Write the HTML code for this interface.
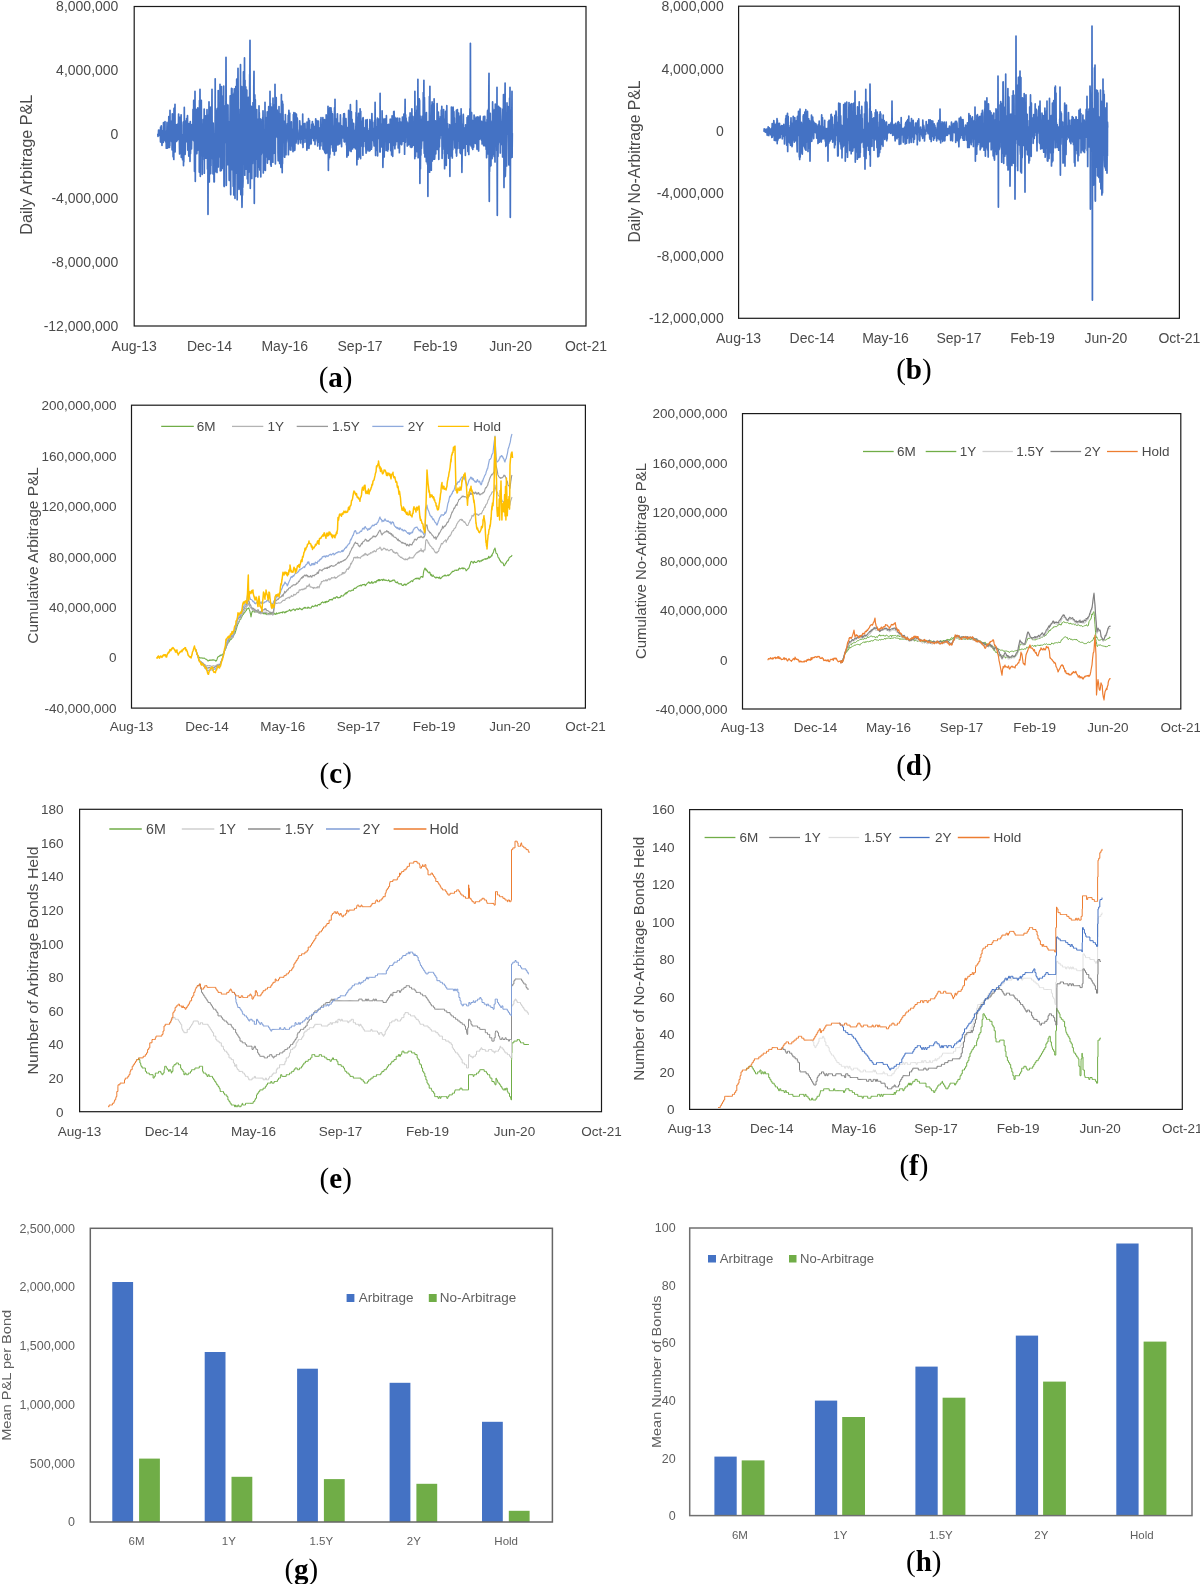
<!DOCTYPE html>
<html><head><meta charset="utf-8"><title>Figure</title>
<style>html,body{margin:0;padding:0;background:#fff;}svg{display:block;filter:blur(0.35px);}</style>
</head><body>
<svg width="1200" height="1584" viewBox="0 0 1200 1584" font-family='"Liberation Sans", sans-serif'>
<rect width="1200" height="1584" fill="#fff"/>
<path d="M157.8 133.6 L158 136.5 L158.1 134.7 L158.3 135.6 L158.5 132.9 L158.6 130.1 L158.8 133.5 L159 132 L159.1 132.5 L159.3 130.5 L159.5 135.5 L159.6 133.9 L159.8 132.3 L160 133.7 L160.1 129.9 L160.3 133.4 L160.5 142.1 L160.6 127 L160.8 136.1 L161 139.3 L161.1 133.8 L161.3 125.9 L161.5 133.5 L161.6 139.8 L161.8 141.5 L162 145.5 L162.1 137.7 L162.3 134.8 L162.5 133 L162.6 134.3 L162.8 138.6 L163 130.5 L163.1 130.6 L163.3 142.4 L163.5 122.7 L163.6 136.6 L163.8 133.6 L164 139.5 L164.1 133.4 L164.3 136.6 L164.5 135.8 L164.6 140.1 L164.8 137.4 L165 121.6 L165.1 140.7 L165.3 133.2 L165.5 131.5 L165.6 131.3 L165.8 142.1 L166 131.6 L166.1 136.2 L166.3 148.2 L166.5 140.7 L166.6 143.7 L166.8 136.7 L167 122.4 L167.1 137 L167.3 142.7 L167.5 148.1 L167.6 129.1 L167.8 147.9 L168 143 L168.1 134.8 L168.3 137.8 L168.5 135.7 L168.6 147.2 L168.8 116.6 L169 122.5 L169.1 139.7 L169.3 131.9 L169.5 147.5 L169.6 140.8 L169.8 145.8 L170 110.3 L170.1 133 L170.3 120.9 L170.5 140.4 L170.6 137.2 L170.8 129.5 L171 134.2 L171.1 136.1 L171.3 129.3 L171.5 139.1 L171.6 141.6 L171.8 138.5 L172 120.4 L172.1 149.8 L172.3 113.9 L172.5 138.2 L172.6 142.7 L172.8 131.4 L173 132 L173.1 156.6 L173.3 156.8 L173.5 115.8 L173.6 148.7 L173.8 159.5 L174 108.4 L174.1 126 L174.3 125.8 L174.5 138.1 L174.6 131.5 L174.8 122.8 L175 104.3 L175.1 151.8 L175.3 127.1 L175.5 141.3 L175.6 132.2 L175.8 124.7 L176 128.7 L176.1 138.8 L176.3 130.1 L176.5 140.1 L176.6 141.4 L176.8 133.6 L177 136.5 L177.1 125 L177.3 124.3 L177.5 140.1 L177.6 131.5 L177.8 126.3 L178 128.4 L178.1 133.7 L178.3 131.1 L178.5 121.3 L178.6 114 L178.8 130.3 L179 117.1 L179.1 139.2 L179.3 135.9 L179.5 148.7 L179.6 153.9 L179.8 142.6 L180 137.7 L180.1 130.8 L180.3 117 L180.5 136.4 L180.6 140.2 L180.8 135.6 L181 144.4 L181.1 114.8 L181.3 157.3 L181.5 139.6 L181.6 156.1 L181.8 141.6 L182 137 L182.1 136.4 L182.3 149.4 L182.5 147.9 L182.6 159.7 L182.8 134.5 L183 143.2 L183.1 125.4 L183.3 122.1 L183.5 165.6 L183.6 136.3 L183.8 162.1 L184 130.9 L184.1 150 L184.3 107.4 L184.5 141.7 L184.6 136.9 L184.8 131.2 L185 142.8 L185.1 154.4 L185.3 150.3 L185.5 123.6 L185.6 131.6 L185.8 120.9 L186 128.5 L186.1 123 L186.3 125.3 L186.5 134.9 L186.6 118.5 L186.8 133.2 L187 141.9 L187.1 137.9 L187.3 124 L187.5 115.7 L187.6 131.3 L187.8 150.1 L188 130.8 L188.1 128.2 L188.3 138.9 L188.5 135.5 L188.6 142.8 L188.8 156.1 L189 123.6 L189.1 131.7 L189.3 131.8 L189.5 140.2 L189.6 136 L189.8 127.9 L190 161.3 L190.1 128.2 L190.3 121.5 L190.5 153.5 L190.6 144.8 L190.8 136.9 L191 130.6 L191.1 130.3 L191.3 126.7 L191.5 149 L191.6 144.5 L191.8 124.7 L192 125 L192.1 139.5 L192.3 136.6 L192.5 139.9 L192.6 139.1 L192.8 135.5 L193 109.4 L193.1 134.9 L193.3 127 L193.5 137.9 L193.7 100.4 L193.8 140.8 L194 121.8 L194.2 129.7 L194.3 122.1 L194.5 171.3 L194.7 129.2 L194.8 133.4 L195 91.3 L195.2 148 L195.3 181.3 L195.5 115.7 L195.7 135.7 L195.8 124 L196 129.5 L196.2 109.3 L196.3 110.1 L196.5 145.2 L196.7 153.7 L196.8 153.6 L197 149.6 L197.2 130 L197.3 111.7 L197.5 150.2 L197.7 134.4 L197.8 107.9 L198 118.9 L198.2 128.3 L198.3 150 L198.5 108.8 L198.7 144.8 L198.8 122.9 L199 143.4 L199.2 119 L199.3 172.1 L199.5 100.6 L199.7 135.7 L199.8 117.1 L200 89.3 L200.2 142.8 L200.3 176.3 L200.5 132.3 L200.7 125.2 L200.8 129.2 L201 119.2 L201.2 150.5 L201.3 100.3 L201.5 138.7 L201.7 124.2 L201.8 130.1 L202 127.5 L202.2 174.3 L202.3 125.1 L202.5 159.8 L202.7 142.8 L202.8 134.6 L203 150.4 L203.2 119.6 L203.3 155 L203.5 134.7 L203.7 156.1 L203.8 129.9 L204 138.8 L204.2 109 L204.3 173.2 L204.5 135 L204.7 129.7 L204.8 122.3 L205 130.1 L205.2 120.5 L205.3 147.9 L205.5 115.8 L205.7 124.9 L205.8 158.2 L206 136.2 L206.2 122.1 L206.3 148.1 L206.5 128 L206.7 130.3 L206.8 139.4 L207 109.7 L207.2 128.8 L207.3 137.6 L207.5 169.1 L207.7 132.8 L207.8 115 L208 214.3 L208.2 145.9 L208.3 138.4 L208.5 177.7 L208.7 162.9 L208.8 132 L209 101.9 L209.2 130.9 L209.3 181.9 L209.5 133.4 L209.7 129 L209.8 120.8 L210 143.9 L210.2 107.3 L210.3 135.7 L210.5 169.8 L210.7 173.6 L210.8 128 L211 165.8 L211.2 130.5 L211.3 159.1 L211.5 106.5 L211.7 142.2 L211.8 118 L212 89.3 L212.2 155.3 L212.3 156.2 L212.5 135.3 L212.7 133.4 L212.8 129.8 L213 173.8 L213.2 123 L213.3 128.8 L213.5 153.1 L213.7 146.8 L213.8 134 L214 181.8 L214.2 146.8 L214.3 181.8 L214.5 134.6 L214.7 147.7 L214.8 148.4 L215 171.8 L215.2 78.8 L215.3 144.7 L215.5 171.7 L215.7 118 L215.8 165.2 L216 152.9 L216.2 142.6 L216.3 171.1 L216.5 110.1 L216.7 166.2 L216.8 124.5 L217 172.4 L217.2 108.6 L217.3 138.8 L217.5 140.4 L217.7 165.8 L217.8 109.9 L218 144.6 L218.2 90.6 L218.3 167 L218.5 109 L218.7 157 L218.8 142.8 L219 149.3 L219.2 147.7 L219.3 139.2 L219.5 125.4 L219.7 134.7 L219.8 134.9 L220 84.3 L220.2 109.8 L220.3 170.8 L220.5 169.9 L220.7 149.8 L220.8 118.1 L221 135.8 L221.2 153.5 L221.3 170.4 L221.5 86.6 L221.7 124 L221.8 116.4 L222 158.2 L222.2 168.4 L222.3 152.5 L222.5 96.4 L222.7 136.4 L222.8 166.1 L223 162.7 L223.2 125.2 L223.3 99.2 L223.5 122.4 L223.7 86.1 L223.8 135.7 L224 186 L224.2 105.7 L224.3 186.4 L224.5 115.9 L224.7 118.1 L224.8 122.1 L225 121.7 L225.2 142.5 L225.3 132.7 L225.5 113.1 L225.7 140.9 L225.8 132.5 L226 57.3 L226.2 106.7 L226.3 185.3 L226.5 109.3 L226.7 104.3 L226.8 120.6 L227 106.5 L227.2 148.4 L227.3 122.3 L227.5 138.7 L227.7 129.1 L227.8 164.7 L228 105.2 L228.2 142.7 L228.3 128.9 L228.5 160 L228.7 121.5 L228.8 145.8 L229 159.4 L229.2 180.3 L229.3 137.1 L229.5 129.1 L229.7 151.7 L229.8 137 L230 122.3 L230.2 95.8 L230.3 173.6 L230.5 136.6 L230.7 194.6 L230.8 126.6 L231 155.9 L231.2 155.4 L231.3 124.4 L231.5 88.4 L231.7 132.5 L231.8 105.8 L232 88.6 L232.2 169.6 L232.3 153.5 L232.5 120.9 L232.7 94.4 L232.8 165.1 L233 165 L233.2 186.3 L233.3 104.5 L233.5 141.2 L233.7 120.2 L233.8 195 L234 92.9 L234.2 101.1 L234.3 88.8 L234.5 135.6 L234.7 144.1 L234.8 172.4 L235 198.3 L235.2 154.9 L235.3 109.3 L235.5 140 L235.7 162.4 L235.8 86.5 L236 123.7 L236.2 117.4 L236.3 173.2 L236.5 145.7 L236.7 79.1 L236.8 101.5 L237 127.6 L237.2 199.7 L237.3 119.4 L237.5 136.1 L237.7 120.8 L237.8 95.3 L238 68.3 L238.2 102.5 L238.3 137 L238.5 133.5 L238.7 126.3 L238.8 184 L239 189.5 L239.2 158.7 L239.3 115.3 L239.5 133.6 L239.7 135.9 L239.8 125.1 L240 109.3 L240.2 163.2 L240.3 188 L240.5 64.7 L240.7 135.2 L240.8 194.6 L241 100.8 L241.2 172.1 L241.3 130.5 L241.5 137 L241.7 86.6 L241.8 194.8 L242 207.3 L242.2 190.9 L242.3 150.6 L242.5 195 L242.7 136.3 L242.8 187.4 L243 180.9 L243.2 113 L243.3 121.9 L243.5 71.8 L243.7 115.5 L243.8 129.3 L244 162.3 L244.2 140.4 L244.3 149.1 L244.5 57.9 L244.7 141.6 L244.8 175.2 L245 80.3 L245.2 149.2 L245.3 143.6 L245.5 143.3 L245.7 130.2 L245.8 86.9 L246 127.3 L246.2 148.1 L246.3 169.2 L246.5 121.4 L246.7 142.1 L246.8 90 L247 141 L247.2 116.7 L247.3 178.8 L247.5 134 L247.7 125.7 L247.8 117.8 L248 183.3 L248.2 127.6 L248.3 97.4 L248.5 114.9 L248.7 103.2 L248.8 128.6 L249 120.9 L249.2 172 L249.3 116.5 L249.5 117.8 L249.7 74.4 L249.8 91.9 L250 40.3 L250.2 158.7 L250.3 188.3 L250.5 149.7 L250.7 147.4 L250.8 153.7 L251 173.6 L251.2 116.6 L251.3 106.3 L251.5 119 L251.7 152.1 L251.8 178.4 L252 137.1 L252.2 136.1 L252.3 128.5 L252.5 163.5 L252.7 110.6 L252.8 141.3 L253 102.7 L253.2 115.4 L253.3 151 L253.5 120.2 L253.7 151 L253.8 86.5 L254 71.3 L254.2 144.3 L254.3 203.3 L254.5 130.9 L254.7 96.9 L254.8 94.8 L255 119.9 L255.2 135.5 L255.3 99.7 L255.5 128.9 L255.7 115.9 L255.8 176.3 L256 127 L256.2 145.7 L256.3 141.4 L256.5 132.4 L256.7 159.2 L256.8 109.7 L257 141.8 L257.2 140.9 L257.3 131.1 L257.5 155 L257.7 152.7 L257.8 177 L258 145.2 L258.2 119 L258.3 150 L258.5 126.3 L258.7 137.5 L258.8 167.1 L259 105.9 L259.2 123.1 L259.3 112.7 L259.5 160.9 L259.7 137.2 L259.8 169.9 L260 123.9 L260.2 118.9 L260.3 132.9 L260.5 122.4 L260.7 146.7 L260.8 176.8 L261 137.9 L261.2 155 L261.3 150.3 L261.5 141.2 L261.7 144.1 L261.8 123.4 L262 119.4 L262.2 136.6 L262.3 139.2 L262.5 142.1 L262.7 117.7 L262.8 153 L263 110.8 L263.2 124.8 L263.3 173 L263.5 129.7 L263.7 134.2 L263.8 148.2 L264 161.2 L264.2 130 L264.4 169.9 L264.5 150.1 L264.7 167.4 L264.9 153.9 L265 102.3 L265.2 156.1 L265.4 170.3 L265.5 117.4 L265.7 140.9 L265.9 134.8 L266 137.4 L266.2 157 L266.4 132.3 L266.5 125.7 L266.7 144.2 L266.9 129.9 L267 132.4 L267.2 111.9 L267.4 163.1 L267.5 140.5 L267.7 147.5 L267.9 131.9 L268 151 L268.2 132.1 L268.4 130.9 L268.5 121.8 L268.7 106.5 L268.9 127.9 L269 159.4 L269.2 135 L269.4 136.6 L269.5 138.5 L269.7 129.1 L269.9 140.8 L270 91.3 L270.2 128.5 L270.4 103.3 L270.5 129.3 L270.7 164.8 L270.9 151.1 L271 127 L271.2 166.2 L271.4 126.1 L271.5 107.2 L271.7 115.9 L271.9 136.2 L272 131.8 L272.2 152 L272.4 156.2 L272.5 135.4 L272.7 120.9 L272.9 162.2 L273 98.1 L273.2 137.4 L273.4 126.6 L273.5 148.2 L273.7 153.4 L273.9 114 L274 105.6 L274.2 140.7 L274.4 146.2 L274.5 146.4 L274.7 132.2 L274.9 128.4 L275 84.3 L275.2 121 L275.4 163.8 L275.5 119.9 L275.7 118.6 L275.9 135.1 L276 116.4 L276.2 97.6 L276.4 136.7 L276.5 133.2 L276.7 136.6 L276.9 133.6 L277 127.5 L277.2 110.2 L277.4 116.3 L277.5 137.6 L277.7 136.3 L277.9 124.9 L278 153.1 L278.2 160.8 L278.4 146.1 L278.5 126.7 L278.7 140.3 L278.9 128.3 L279 106.5 L279.2 140 L279.4 121.8 L279.5 124.9 L279.7 163.5 L279.9 125 L280 132.7 L280.2 114.1 L280.4 158.8 L280.5 162.6 L280.7 129.5 L280.9 167.3 L281 143.2 L281.2 142.4 L281.4 94.7 L281.5 161.7 L281.7 138.2 L281.9 151.7 L282 131.9 L282.2 172.6 L282.4 101.4 L282.5 163.4 L282.7 119 L282.9 104.1 L283 112.2 L283.2 135.9 L283.4 142.5 L283.5 122.8 L283.7 125.2 L283.9 125.8 L284 124.8 L284.2 121.3 L284.4 156.7 L284.5 122.4 L284.7 157.2 L284.9 131.7 L285 125.9 L285.2 145.8 L285.4 114.5 L285.5 118.5 L285.7 141.7 L285.9 131.1 L286 154.7 L286.2 130.2 L286.4 140.4 L286.5 141.9 L286.7 125.1 L286.9 135.1 L287 126 L287.2 138.6 L287.4 123.6 L287.5 136.2 L287.7 137.8 L287.9 137.1 L288 138.5 L288.2 115.3 L288.4 154.7 L288.5 131.7 L288.7 128 L288.9 110.4 L289 142.1 L289.2 138 L289.4 118.6 L289.5 143.4 L289.7 113.1 L289.9 134.3 L290 135.5 L290.2 149.7 L290.4 140.3 L290.5 130.7 L290.7 146.3 L290.9 150.2 L291 134.7 L291.2 133.6 L291.4 121.9 L291.5 134.6 L291.7 142.5 L291.9 142.6 L292 145.8 L292.2 131.7 L292.4 135.5 L292.5 141.8 L292.7 129.1 L292.9 149.1 L293 151.7 L293.2 146.2 L293.4 114.6 L293.5 136.8 L293.7 115.3 L293.9 112.6 L294 150.1 L294.2 141.8 L294.4 128 L294.5 139.4 L294.7 150.4 L294.9 148.8 L295 127.4 L295.2 113.2 L295.4 141.8 L295.5 134.9 L295.7 129.5 L295.9 134.4 L296 140.5 L296.2 142.9 L296.4 114.2 L296.5 129.7 L296.7 130 L296.9 121.7 L297 136.3 L297.2 117.9 L297.4 119.6 L297.5 138.9 L297.7 136.5 L297.9 137.3 L298 137.4 L298.2 143.9 L298.4 141.2 L298.5 136.1 L298.7 140 L298.9 135 L299 137.1 L299.2 132.3 L299.4 129.5 L299.5 136.5 L299.7 120.8 L299.9 124.2 L300 128.4 L300.2 132.7 L300.4 136.3 L300.5 143 L300.7 129.1 L300.9 136.7 L301 135.3 L301.2 126 L301.4 139.2 L301.5 128.7 L301.7 138.1 L301.9 130.4 L302 130.7 L302.2 135.1 L302.4 131.7 L302.5 144.1 L302.7 114 L302.9 139.1 L303 147.5 L303.2 136.6 L303.4 126.1 L303.5 123.7 L303.7 135 L303.9 134.8 L304 142.4 L304.2 128.2 L304.4 138.4 L304.5 131.6 L304.7 138.2 L304.9 125.8 L305 123.4 L305.2 135.2 L305.4 129.2 L305.5 135.3 L305.7 135.2 L305.9 136.5 L306 142.1 L306.2 134.3 L306.4 132.5 L306.5 135.2 L306.7 131.7 L306.9 150.1 L307 122 L307.2 128 L307.4 135.2 L307.5 148.1 L307.7 141.6 L307.9 129.1 L308 138.6 L308.2 139 L308.4 125.7 L308.5 118.5 L308.7 140.5 L308.9 132.3 L309 148.3 L309.2 124.1 L309.4 145 L309.5 120.6 L309.7 135.7 L309.9 134.5 L310 129.4 L310.2 130.8 L310.4 143.7 L310.5 135.8 L310.7 139.2 L310.9 141.7 L311 132.7 L311.2 143.9 L311.4 134.6 L311.5 133.4 L311.7 124.4 L311.9 125.5 L312 138.2 L312.2 125.3 L312.4 121.6 L312.5 130.2 L312.7 125 L312.9 124 L313 124.6 L313.2 124.1 L313.4 134.5 L313.5 129.7 L313.7 140.6 L313.9 126.9 L314 126.4 L314.2 138.6 L314.4 135 L314.5 133.1 L314.7 137.2 L314.9 132.7 L315 144.4 L315.2 131 L315.4 130.3 L315.5 133.5 L315.7 118.8 L315.9 138.3 L316 129.9 L316.2 136.7 L316.4 127 L316.5 124.9 L316.7 132.4 L316.9 120.7 L317 139 L317.2 141.2 L317.4 137.8 L317.5 134.4 L317.7 145.9 L317.9 138 L318 130.4 L318.2 142.3 L318.4 121.2 L318.5 137.5 L318.7 132.7 L318.9 127.6 L319 135.4 L319.2 133.8 L319.4 130.5 L319.5 130.5 L319.7 134.8 L319.9 149.1 L320 137.1 L320.2 136 L320.4 141.2 L320.5 138.1 L320.7 119.5 L320.9 145.7 L321 117.7 L321.2 136.9 L321.4 134.7 L321.5 141.5 L321.7 126.6 L321.9 140.4 L322 135 L322.2 134.3 L322.4 135.6 L322.5 129.3 L322.7 128.3 L322.9 117.7 L323 149.1 L323.2 144.7 L323.4 135.7 L323.5 143.1 L323.7 142.7 L323.9 120.2 L324 145.8 L324.2 150.8 L324.4 145.8 L324.5 119.6 L324.7 137.3 L324.9 152.6 L325 138.7 L325.2 145.2 L325.4 126.7 L325.5 134.1 L325.7 153.5 L325.9 124.6 L326 138.3 L326.2 114.9 L326.4 141.5 L326.5 127 L326.7 153 L326.9 136.4 L327 124.8 L327.2 134.5 L327.4 150.2 L327.5 128 L327.7 148.9 L327.9 120.4 L328 106.3 L328.2 124.8 L328.4 170.3 L328.5 118.9 L328.7 159.2 L328.9 119.1 L329 122 L329.2 117 L329.4 126.8 L329.5 157.5 L329.7 108.5 L329.9 107.7 L330 154 L330.2 136.1 L330.4 126.8 L330.5 123 L330.7 124.1 L330.9 120.7 L331 107.9 L331.2 112.2 L331.4 111.5 L331.5 144.4 L331.7 136.5 L331.9 134.9 L332 125.8 L332.2 132.3 L332.4 147.8 L332.5 113.9 L332.7 124.9 L332.9 151.1 L333 133.6 L333.2 137.7 L333.4 148.9 L333.5 130.5 L333.7 139.8 L333.9 132.9 L334 130.8 L334.2 126.3 L334.4 155 L334.5 107.9 L334.7 123.2 L334.9 136.1 L335 99.3 L335.2 142 L335.4 138 L335.6 136.3 L335.7 138.9 L335.9 151.1 L336.1 150.7 L336.2 119.1 L336.4 134.6 L336.6 145.2 L336.7 127.7 L336.9 144.8 L337.1 121.8 L337.2 122.1 L337.4 113.8 L337.6 123.9 L337.7 123.5 L337.9 132.3 L338.1 144.7 L338.2 127.3 L338.4 135.7 L338.6 135.7 L338.7 132.1 L338.9 123.2 L339.1 127.7 L339.2 142.7 L339.4 135.6 L339.6 129.5 L339.7 143.9 L339.9 140.2 L340.1 127.6 L340.2 136.1 L340.4 114.8 L340.6 125.4 L340.7 137.8 L340.9 139.2 L341.1 138.8 L341.2 139.8 L341.4 125.7 L341.6 146.6 L341.7 131.5 L341.9 137.4 L342.1 132.3 L342.2 126.4 L342.4 135.6 L342.6 126.2 L342.7 135 L342.9 138 L343.1 133.8 L343.2 133 L343.4 117.9 L343.6 123.5 L343.7 113.8 L343.9 126.1 L344.1 141.4 L344.2 138.7 L344.4 113.7 L344.6 122.1 L344.7 141.9 L344.9 132.3 L345.1 140.6 L345.2 133.9 L345.4 131 L345.6 135.1 L345.7 119.2 L345.9 118.6 L346.1 122.2 L346.2 133.7 L346.4 144.8 L346.6 140.5 L346.7 134.9 L346.9 157.1 L347.1 128.2 L347.2 132.9 L347.4 127.5 L347.6 148.3 L347.7 133.2 L347.9 149.3 L348.1 148.7 L348.2 155.3 L348.4 147.8 L348.6 110.4 L348.7 136.1 L348.9 120.2 L349.1 146.1 L349.2 127.1 L349.4 140.5 L349.6 136.1 L349.7 124.5 L349.9 127.7 L350.1 150.7 L350.2 118.6 L350.4 104.7 L350.6 140.4 L350.7 130.6 L350.9 125.6 L351.1 151.4 L351.2 117.1 L351.4 111.9 L351.6 135.3 L351.7 136 L351.9 138.4 L352.1 119.3 L352.2 139 L352.4 127.9 L352.6 148.9 L352.7 141.5 L352.9 132.1 L353.1 132.1 L353.2 125.5 L353.4 123.9 L353.6 123.4 L353.7 124.4 L353.9 132.8 L354.1 132.5 L354.2 147.3 L354.4 138.9 L354.6 133.3 L354.7 135.8 L354.9 139 L355.1 130.3 L355.2 140.9 L355.4 148.8 L355.6 138 L355.7 131.6 L355.9 126.4 L356.1 112.6 L356.2 128 L356.4 141.3 L356.6 100.7 L356.7 108.2 L356.9 164.8 L357.1 143.7 L357.2 125.9 L357.4 135.4 L357.6 141.7 L357.7 127.9 L357.9 159.2 L358.1 127.9 L358.2 117.1 L358.4 141.1 L358.6 113.4 L358.7 132.5 L358.9 155.2 L359.1 133.4 L359.2 134.3 L359.4 157 L359.6 120.2 L359.7 134.4 L359.9 141.6 L360.1 108.8 L360.2 136.1 L360.4 115 L360.6 158.6 L360.7 111.3 L360.9 136 L361.1 133.3 L361.2 137 L361.4 121 L361.6 127.6 L361.7 128.6 L361.9 139.7 L362.1 146 L362.2 127.3 L362.4 133.7 L362.6 146.5 L362.7 118.6 L362.9 155.2 L363.1 117.5 L363.2 118.8 L363.4 136.7 L363.6 127.4 L363.7 146.5 L363.9 133.4 L364.1 141.7 L364.2 139.5 L364.4 128.1 L364.6 130.5 L364.7 131.3 L364.9 129.4 L365.1 140.9 L365.2 128.9 L365.4 139.8 L365.6 139 L365.7 120.1 L365.9 149 L366.1 153.2 L366.2 143.4 L366.4 132.8 L366.6 151.4 L366.7 135.9 L366.9 124.2 L367.1 143.9 L367.2 119.5 L367.4 137.4 L367.6 128.6 L367.7 134 L367.9 150 L368.1 135.9 L368.2 130.7 L368.4 139 L368.6 132.1 L368.7 133.8 L368.9 134.7 L369.1 151.1 L369.2 138 L369.4 148.3 L369.6 137.6 L369.7 133.7 L369.9 119.5 L370.1 150.4 L370.2 121.8 L370.4 131 L370.6 135.9 L370.7 124.5 L370.9 135.9 L371.1 121.7 L371.2 121.2 L371.4 149.2 L371.6 132.4 L371.7 147.5 L371.9 113.5 L372.1 124.3 L372.2 134.6 L372.4 133.4 L372.6 122.3 L372.7 140.5 L372.9 129.7 L373.1 134.1 L373.2 128.4 L373.4 131.2 L373.6 139.2 L373.7 134.3 L373.9 142.1 L374.1 146 L374.2 137.3 L374.4 136.6 L374.6 120.7 L374.7 128.2 L374.9 133.1 L375.1 102.3 L375.2 133.5 L375.4 138.8 L375.6 155.5 L375.7 126.5 L375.9 149.4 L376.1 148.6 L376.2 134.3 L376.4 127 L376.6 133.1 L376.7 127.8 L376.9 150.4 L377.1 119.6 L377.2 142.5 L377.4 118.1 L377.6 155.8 L377.7 126.1 L377.9 126.2 L378.1 138.9 L378.2 138.4 L378.4 132 L378.6 119.2 L378.7 120.4 L378.9 126.3 L379.1 132.7 L379.2 133 L379.4 132.1 L379.6 135.2 L379.7 133.8 L379.9 152 L380.1 93.3 L380.2 151.9 L380.4 126.3 L380.6 133.2 L380.7 125.7 L380.9 124.7 L381.1 124.4 L381.2 139.1 L381.4 134.1 L381.6 132.6 L381.7 125.4 L381.9 146.9 L382.1 110.8 L382.2 118.7 L382.4 140 L382.6 140.2 L382.7 118.4 L382.9 167.3 L383.1 155.2 L383.2 135.3 L383.4 148.5 L383.6 119.6 L383.7 123.4 L383.9 145.8 L384.1 141 L384.2 156.9 L384.4 131.9 L384.6 128.6 L384.7 138.8 L384.9 118.9 L385.1 128.3 L385.2 139.5 L385.4 129.2 L385.6 121 L385.7 134.3 L385.9 124.4 L386.1 150.4 L386.2 142.8 L386.4 115.7 L386.6 138.8 L386.7 136.2 L386.9 142 L387.1 130.7 L387.2 139.9 L387.4 126.9 L387.6 129.7 L387.7 150.9 L387.9 137.7 L388.1 124.6 L388.2 149.3 L388.4 132.8 L388.6 124.4 L388.7 128.9 L388.9 136.7 L389.1 136.6 L389.2 133.2 L389.4 130.2 L389.6 136 L389.7 142.4 L389.9 128.5 L390.1 127.1 L390.2 119.3 L390.4 119.2 L390.6 128.3 L390.7 150.6 L390.9 140.7 L391.1 131.4 L391.2 145.7 L391.4 120.8 L391.6 155 L391.7 129.5 L391.9 125.8 L392.1 115.8 L392.2 128.8 L392.4 135.4 L392.6 125.2 L392.7 156.3 L392.9 137.6 L393.1 129.2 L393.2 145.5 L393.4 134.5 L393.6 141 L393.7 111.5 L393.9 134.1 L394.1 111.4 L394.2 121.2 L394.4 121.6 L394.6 137 L394.7 117 L394.9 148.7 L395.1 131.3 L395.2 126.2 L395.4 118.1 L395.6 144.9 L395.7 140.3 L395.9 123.6 L396.1 120.7 L396.2 118.3 L396.4 141.5 L396.6 132.6 L396.7 141.5 L396.9 126.2 L397.1 133.4 L397.2 125.5 L397.4 124.9 L397.6 140.7 L397.7 118 L397.9 135.1 L398.1 122.3 L398.2 148 L398.4 126.1 L398.6 127.2 L398.7 131.6 L398.9 142.2 L399.1 129.5 L399.2 132.4 L399.4 152.7 L399.6 137.4 L399.7 118.3 L399.9 134.3 L400.1 126.1 L400.2 131.3 L400.4 138.3 L400.6 143.8 L400.7 128.3 L400.9 122 L401.1 140.4 L401.2 141.3 L401.4 142.1 L401.6 137.7 L401.7 144.7 L401.9 142.7 L402.1 137 L402.2 135.5 L402.4 117 L402.6 140.3 L402.7 124.8 L402.9 120.3 L403.1 121 L403.2 141.2 L403.4 138.1 L403.6 127.7 L403.7 141.1 L403.9 114 L404.1 140.2 L404.2 135.8 L404.4 128.2 L404.6 154.2 L404.7 140.1 L404.9 121.8 L405.1 99.3 L405.2 133.7 L405.4 142.3 L405.6 114.8 L405.7 126.6 L405.9 121.7 L406.1 118.2 L406.3 134.7 L406.4 124.4 L406.6 131 L406.8 121.3 L406.9 128.2 L407.1 134.4 L407.3 146.1 L407.4 141.2 L407.6 135.9 L407.8 125.3 L407.9 123.2 L408.1 136.2 L408.3 129.6 L408.4 134.9 L408.6 144.8 L408.8 144.1 L408.9 127.8 L409.1 124 L409.3 117.2 L409.4 139.4 L409.6 135.5 L409.8 124.4 L409.9 132.6 L410.1 112.9 L410.3 140.1 L410.4 146.8 L410.6 127.1 L410.8 124.1 L410.9 139.6 L411.1 123.7 L411.3 140 L411.4 147.5 L411.6 141 L411.8 138.1 L411.9 108.8 L412.1 147.1 L412.3 137.6 L412.4 129.6 L412.6 121.1 L412.8 116.4 L412.9 132.7 L413.1 145.4 L413.3 123.5 L413.4 124 L413.6 130 L413.8 142.6 L413.9 131.6 L414.1 127.9 L414.3 143 L414.4 133.3 L414.6 116.6 L414.8 158.6 L414.9 91.3 L415.1 127.5 L415.3 130.6 L415.4 150.7 L415.6 156.5 L415.8 135.7 L415.9 130 L416.1 112.7 L416.3 135.2 L416.4 135.2 L416.6 145.4 L416.8 110 L416.9 132.9 L417.1 106.2 L417.3 151.7 L417.4 129.4 L417.6 142.7 L417.8 131.7 L417.9 79.3 L418.1 157.7 L418.3 137.7 L418.4 141.6 L418.6 136.5 L418.8 109.9 L418.9 150 L419.1 135.7 L419.3 98.9 L419.4 156.8 L419.6 100.6 L419.8 130.9 L419.9 183.3 L420.1 115.9 L420.3 149.8 L420.4 168.7 L420.6 141.1 L420.8 140.6 L420.9 155 L421.1 120 L421.3 141.7 L421.4 148.4 L421.6 144.3 L421.8 136.5 L421.9 119.2 L422.1 116.4 L422.3 133.3 L422.4 123.7 L422.6 140.6 L422.8 116 L422.9 138.8 L423.1 124.4 L423.3 92.6 L423.4 109.9 L423.6 125.4 L423.8 100.2 L423.9 80.3 L424.1 146.8 L424.3 153.4 L424.4 97.5 L424.6 112 L424.8 123.8 L424.9 157 L425.1 114.3 L425.3 149.2 L425.4 155.1 L425.6 123.5 L425.8 117.7 L425.9 129.8 L426.1 116.8 L426.3 161.6 L426.4 112.6 L426.6 139.3 L426.8 138.7 L426.9 150.4 L427.1 138.3 L427.3 132.4 L427.4 163.9 L427.6 138.3 L427.8 156.6 L427.9 196.3 L428.1 121.7 L428.3 149.8 L428.4 145 L428.6 126.6 L428.8 134.7 L428.9 153.9 L429.1 152.2 L429.3 130.8 L429.4 96.6 L429.6 172.2 L429.8 142.6 L429.9 86.3 L430.1 147.2 L430.3 136.9 L430.4 154 L430.6 142.1 L430.8 118.5 L430.9 131.6 L431.1 122.3 L431.3 170.2 L431.4 137 L431.6 127.3 L431.8 104.9 L431.9 118.9 L432.1 101.9 L432.3 160.9 L432.4 128.7 L432.6 156.6 L432.8 103.7 L432.9 120.7 L433.1 132.8 L433.3 118 L433.4 159.2 L433.6 150.3 L433.8 124.8 L433.9 135.7 L434.1 98.8 L434.3 151.3 L434.4 136.4 L434.6 159.2 L434.8 156.2 L434.9 124.1 L435.1 144.2 L435.3 130.8 L435.4 120.9 L435.6 126.2 L435.8 153.8 L435.9 126.8 L436.1 127.8 L436.3 145.6 L436.4 140.5 L436.6 141.9 L436.8 125.5 L436.9 143.5 L437.1 103.6 L437.3 135.3 L437.4 149.4 L437.6 135.2 L437.8 125.5 L437.9 123.5 L438.1 138.7 L438.3 126.2 L438.4 112 L438.6 129.9 L438.8 159.3 L438.9 116.3 L439.1 133.7 L439.3 118.7 L439.4 146.8 L439.6 125 L439.8 134.9 L439.9 138.8 L440.1 136.8 L440.3 132.3 L440.4 135.5 L440.6 122.3 L440.8 116.7 L440.9 124.6 L441.1 135 L441.3 110.1 L441.4 131.9 L441.6 130.4 L441.8 106.3 L441.9 127.2 L442.1 158.3 L442.3 127.7 L442.4 127.1 L442.6 129.1 L442.8 145.5 L442.9 140.8 L443.1 132.6 L443.3 127.5 L443.4 133.2 L443.6 109.5 L443.8 129.3 L443.9 149.3 L444.1 119.2 L444.3 153.7 L444.4 134.8 L444.6 168.7 L444.8 154.1 L444.9 139 L445.1 132.6 L445.3 148.2 L445.4 127.7 L445.6 111.4 L445.8 139.4 L445.9 120.5 L446.1 124.7 L446.3 165.3 L446.4 111.3 L446.6 123.7 L446.8 105.7 L446.9 118.6 L447.1 146.1 L447.3 144.1 L447.4 133 L447.6 123.6 L447.8 153.5 L447.9 131.6 L448.1 137.8 L448.3 133.6 L448.4 147.6 L448.6 158.2 L448.8 134.9 L448.9 148.6 L449.1 133.5 L449.3 128.7 L449.4 135.4 L449.6 124.5 L449.8 133 L449.9 176.3 L450.1 126 L450.3 138.4 L450.4 149.6 L450.6 149.7 L450.8 156 L450.9 130.5 L451.1 130 L451.3 147.9 L451.4 107 L451.6 131.4 L451.8 149.9 L451.9 120.7 L452.1 135.4 L452.3 157.9 L452.4 125.5 L452.6 143.8 L452.8 149.8 L452.9 120.3 L453.1 107.2 L453.3 111.6 L453.4 121.2 L453.6 139.7 L453.8 124.7 L453.9 111.7 L454.1 124 L454.3 117.9 L454.4 126.5 L454.6 140.6 L454.8 148 L454.9 126 L455.1 134.1 L455.3 124.2 L455.4 132.4 L455.6 147.4 L455.8 137.5 L455.9 133.6 L456.1 153.1 L456.3 120.2 L456.4 110.4 L456.6 156.1 L456.8 148.1 L456.9 148.9 L457.1 131 L457.3 148.5 L457.4 109.5 L457.6 131.1 L457.8 122.5 L457.9 148.3 L458.1 124 L458.3 141.2 L458.4 129.8 L458.6 113 L458.8 135.5 L458.9 133.9 L459.1 122.1 L459.3 122.1 L459.4 117.1 L459.6 118.3 L459.8 148.6 L459.9 133.6 L460.1 152.7 L460.3 127.1 L460.4 115.9 L460.6 142.5 L460.8 153.7 L460.9 135.4 L461.1 108.8 L461.3 137 L461.4 134.4 L461.6 133.8 L461.8 124 L461.9 172.3 L462.1 153.9 L462.3 150.1 L462.4 140.4 L462.6 149.2 L462.8 135.2 L462.9 136.8 L463.1 116.1 L463.3 114.4 L463.4 119.1 L463.6 143.2 L463.8 139.7 L463.9 148.1 L464.1 135.8 L464.3 134.4 L464.4 139.1 L464.6 128.2 L464.8 142.9 L464.9 139.8 L465.1 139.4 L465.3 130.8 L465.4 155.3 L465.6 124.8 L465.8 126.7 L465.9 135.8 L466.1 138.8 L466.3 134 L466.4 142 L466.6 144.1 L466.8 141.6 L466.9 136.7 L467.1 117.6 L467.3 132.8 L467.4 133.9 L467.6 132 L467.8 145.2 L467.9 151.5 L468.1 115.8 L468.3 116.1 L468.4 141.3 L468.6 130.3 L468.8 154.5 L468.9 134.8 L469.1 127.9 L469.3 143.6 L469.4 134.4 L469.6 127.6 L469.8 128.4 L469.9 108.8 L470.1 144.6 L470.3 125.1 L470.4 43.3 L470.6 139.2 L470.8 117.1 L470.9 120.3 L471.1 146 L471.3 130.9 L471.4 122.3 L471.6 112.7 L471.8 135.9 L471.9 131.9 L472.1 147.9 L472.3 132.4 L472.4 137 L472.6 120.5 L472.8 149.4 L472.9 145.4 L473.1 137.8 L473.3 143 L473.4 147.4 L473.6 147.1 L473.8 139.4 L473.9 137.2 L474.1 115 L474.3 137.8 L474.4 137.1 L474.6 121 L474.8 143 L474.9 127.1 L475.1 135.8 L475.3 130.7 L475.4 143.3 L475.6 128.3 L475.8 118.3 L475.9 132.4 L476.1 117 L476.3 132.1 L476.4 134.1 L476.6 130.2 L476.8 140.8 L477 149.3 L477.1 135.9 L477.3 131.2 L477.5 129.3 L477.6 139 L477.8 116.9 L478 132.3 L478.1 147.9 L478.3 138.7 L478.5 117.4 L478.6 150.9 L478.8 129.5 L479 129.4 L479.1 134.9 L479.3 123.3 L479.5 118.9 L479.6 139.3 L479.8 130.1 L480 137.8 L480.1 116.1 L480.3 124.7 L480.5 138.4 L480.6 130.2 L480.8 137.5 L481 132.2 L481.1 138.2 L481.3 138.7 L481.5 140.1 L481.6 121.4 L481.8 137.3 L482 133.4 L482.1 143.9 L482.3 139.3 L482.5 130 L482.6 137.8 L482.8 139.4 L483 132.9 L483.1 138.4 L483.3 120.8 L483.5 116.5 L483.6 145.6 L483.8 117.2 L484 133.5 L484.1 116.7 L484.3 131.3 L484.5 134.5 L484.6 140.8 L484.8 116.4 L485 143.5 L485.1 145.9 L485.3 122.1 L485.5 139.2 L485.6 133.6 L485.8 130.7 L486 137.3 L486.1 149.2 L486.3 125.7 L486.5 136.4 L486.6 157.7 L486.8 151.6 L487 119.5 L487.1 149.3 L487.3 127.8 L487.5 112.4 L487.6 110.5 L487.8 136.6 L488 139.8 L488.1 134.5 L488.3 153.9 L488.5 108.9 L488.6 143.3 L488.8 93.5 L489 73.3 L489.1 168.9 L489.3 201.3 L489.5 124.4 L489.6 171.6 L489.8 145.5 L490 166.5 L490.1 118.1 L490.3 113.3 L490.5 139.6 L490.6 147.9 L490.8 121.1 L491 165.6 L491.1 124.6 L491.3 151.4 L491.5 142.9 L491.6 142.5 L491.8 133.2 L492 147 L492.1 158.6 L492.3 136.6 L492.5 130.4 L492.6 101.9 L492.8 129.1 L493 109.1 L493.1 154.4 L493.3 122.9 L493.5 130.4 L493.6 122.5 L493.8 110.9 L494 145.4 L494.1 156.5 L494.3 112.4 L494.5 156.4 L494.6 146.2 L494.8 109.7 L495 161.9 L495.1 134.3 L495.3 104.2 L495.5 123.7 L495.6 124.8 L495.8 110.5 L496 144.4 L496.1 134.3 L496.3 131.5 L496.5 109.2 L496.6 111 L496.8 150.8 L497 87.3 L497.1 161.4 L497.3 215.3 L497.5 114 L497.6 140.5 L497.8 148.1 L498 156.6 L498.1 144.9 L498.3 142.9 L498.5 106.4 L498.6 133.3 L498.8 116.2 L499 115.1 L499.1 140.3 L499.3 142 L499.5 107.5 L499.6 139.7 L499.8 129.5 L500 126.4 L500.1 130 L500.3 152.9 L500.5 125.7 L500.6 108.3 L500.8 114.5 L501 120.8 L501.1 128.1 L501.3 121.7 L501.5 128.5 L501.6 143.8 L501.8 137.5 L502 127.8 L502.1 144.7 L502.3 130.7 L502.5 132.6 L502.6 156.9 L502.8 109.1 L503 127.9 L503.1 117.9 L503.3 118.4 L503.5 94.6 L503.6 147.3 L503.8 134.7 L504 187.5 L504.1 161.1 L504.3 110.1 L504.5 176.9 L504.6 117.4 L504.8 116 L505 95.3 L505.1 83 L505.3 176.3 L505.5 169.7 L505.6 123.6 L505.8 145 L506 147.6 L506.1 127 L506.3 127.9 L506.5 116 L506.6 166 L506.8 118.7 L507 102.9 L507.1 127.2 L507.3 122.4 L507.5 126.6 L507.6 133.6 L507.8 121.1 L508 106.5 L508.1 132.7 L508.3 107.7 L508.5 135.2 L508.6 143.3 L508.8 164.8 L509 136.2 L509.1 139.8 L509.3 126.6 L509.5 111.2 L509.6 98.2 L509.8 133.9 L510 87.3 L510.1 134 L510.3 217.3 L510.5 133.2 L510.6 148.5 L510.8 158.2 L511 123.7 L511.1 146.5 L511.3 135.6 L511.5 110 L511.6 130.3 L511.8 117.9 L512 91.3 L512.1 157.2 L512.3 133.2" fill="none" stroke="#4472C4" stroke-width="1.7" stroke-linejoin="round"/>
<rect x="134.2" y="6.5" width="451.8" height="319.5" fill="none" stroke="#1a1a1a" stroke-width="1.2"/>
<text x="118.4" y="11.3" font-size="14" text-anchor="end" fill="#4a4a4a">8,000,000</text>
<text x="118.4" y="75.2" font-size="14" text-anchor="end" fill="#4a4a4a">4,000,000</text>
<text x="118.4" y="139.1" font-size="14" text-anchor="end" fill="#4a4a4a">0</text>
<text x="118.4" y="203" font-size="14" text-anchor="end" fill="#4a4a4a">-4,000,000</text>
<text x="118.4" y="266.9" font-size="14" text-anchor="end" fill="#4a4a4a">-8,000,000</text>
<text x="118.4" y="330.8" font-size="14" text-anchor="end" fill="#4a4a4a">-12,000,000</text>
<text x="134.2" y="351.3" font-size="14" text-anchor="middle" fill="#4a4a4a">Aug-13</text>
<text x="209.5" y="351.3" font-size="14" text-anchor="middle" fill="#4a4a4a">Dec-14</text>
<text x="284.8" y="351.3" font-size="14" text-anchor="middle" fill="#4a4a4a">May-16</text>
<text x="360.1" y="351.3" font-size="14" text-anchor="middle" fill="#4a4a4a">Sep-17</text>
<text x="435.4" y="351.3" font-size="14" text-anchor="middle" fill="#4a4a4a">Feb-19</text>
<text x="510.7" y="351.3" font-size="14" text-anchor="middle" fill="#4a4a4a">Jun-20</text>
<text x="586" y="351.3" font-size="14" text-anchor="middle" fill="#4a4a4a">Oct-21</text>
<text transform="translate(32 164.7) rotate(-90)" x="0" y="0" font-size="16" text-anchor="middle" fill="#4a4a4a" textLength="140" lengthAdjust="spacingAndGlyphs">Daily Arbitrage P&amp;L</text>
<text x="335.6" y="387.1" font-family='"Liberation Serif", serif' font-size="29" text-anchor="middle" fill="#000">(<tspan font-weight="bold">a</tspan>)</text>
<path d="M764 131.9 L764.2 128.8 L764.3 131.5 L764.5 130.9 L764.7 130.6 L764.8 130.6 L765 130.5 L765.2 131.8 L765.3 131.5 L765.5 132.1 L765.7 129.3 L765.8 129.7 L766 130.5 L766.2 131.4 L766.3 130.6 L766.5 132.6 L766.7 131.7 L766.8 129.2 L767 131.5 L767.2 135.3 L767.3 130.2 L767.5 132.9 L767.7 133.7 L767.8 131.1 L768 129 L768.2 126.9 L768.3 132.4 L768.5 132.1 L768.7 130.8 L768.8 135.6 L769 130.3 L769.2 127.9 L769.3 130.6 L769.5 129.6 L769.7 132.6 L769.8 128.6 L770 129.4 L770.2 133.4 L770.3 131.5 L770.5 130.3 L770.7 134.8 L770.8 134.8 L771 131.9 L771.2 129.4 L771.3 130.7 L771.5 133.6 L771.7 128.1 L771.8 137.4 L772 132.1 L772.2 123.6 L772.3 137.1 L772.5 135.1 L772.7 130.4 L772.8 135.4 L773 126.9 L773.2 131.3 L773.3 134.1 L773.5 134 L773.7 129 L773.8 120.5 L774 122.9 L774.2 129.3 L774.3 140.3 L774.5 131.1 L774.7 130.4 L774.8 131.2 L775 129.7 L775.2 124.6 L775.3 130.2 L775.5 136.4 L775.7 140.6 L775.8 132 L776 129.1 L776.2 134.1 L776.3 126.4 L776.5 123 L776.7 130 L776.8 134.3 L777 118.7 L777.2 143.6 L777.3 120 L777.5 125.2 L777.7 140.4 L777.8 127.1 L778 139 L778.2 136.2 L778.3 139 L778.5 123.6 L778.7 130.1 L778.8 130.1 L779 129.8 L779.2 131.1 L779.3 137.7 L779.5 123.3 L779.7 138 L779.8 128.6 L780 130.6 L780.2 137.8 L780.3 129.5 L780.5 127.6 L780.7 133.4 L780.8 126.3 L781 129.5 L781.2 134.2 L781.3 127.9 L781.5 125.7 L781.7 127.9 L781.8 127.9 L782 134.3 L782.2 133.1 L782.3 138.8 L782.5 125.9 L782.7 136.5 L782.8 136 L783 132.1 L783.2 128.4 L783.3 130.6 L783.5 129.2 L783.7 128.9 L783.8 124.3 L784 131.9 L784.2 132.7 L784.3 128.1 L784.5 143.9 L784.7 129.9 L784.8 130.6 L785 131.6 L785.2 126.7 L785.3 129.7 L785.5 128.4 L785.7 118.7 L785.8 135.2 L786 118.9 L786.2 115.7 L786.3 123.2 L786.5 139.6 L786.7 145.2 L786.8 143.3 L787 120.7 L787.2 134.9 L787.3 140.3 L787.5 113.3 L787.7 151.4 L787.8 136.9 L788 132.7 L788.2 116.4 L788.3 141.8 L788.5 128.1 L788.7 127.6 L788.8 134.3 L789 130.6 L789.2 132.6 L789.3 140.5 L789.5 127.6 L789.7 142.8 L789.8 129.3 L790 139.6 L790.2 125.6 L790.3 136.1 L790.5 145.3 L790.7 121.9 L790.8 124.9 L791 117.8 L791.2 133.4 L791.3 127.4 L791.5 131.2 L791.7 123.2 L791.8 125.2 L792 146.6 L792.2 145.3 L792.3 145.1 L792.5 129.5 L792.7 133.5 L792.8 131.3 L793 128.9 L793.2 116.4 L793.3 136.1 L793.5 128.4 L793.7 139.8 L793.8 120.5 L794 118.5 L794.2 139.6 L794.3 142.1 L794.5 136.9 L794.7 126.3 L794.8 117.7 L795 125.7 L795.2 127 L795.3 141 L795.5 138.8 L795.7 124.8 L795.8 138.2 L796 131.4 L796.2 136 L796.3 120.9 L796.5 125.4 L796.7 121.7 L796.8 133.2 L797 144.5 L797.2 152 L797.3 117.6 L797.5 116.4 L797.7 124.2 L797.8 127.1 L798 123.1 L798.2 131.3 L798.3 135.4 L798.5 111.3 L798.7 131.5 L798.8 113.8 L799 133.1 L799.2 136 L799.3 156.7 L799.5 134.2 L799.7 159.5 L799.8 132.6 L800 109.1 L800.2 157.1 L800.3 139.9 L800.5 133.9 L800.7 146.4 L800.8 146.7 L801 134 L801.2 151.7 L801.3 122.4 L801.5 124.3 L801.7 133.5 L801.8 138 L802 153.4 L802.2 141.7 L802.3 154.1 L802.5 141 L802.7 127.9 L802.8 137.6 L803 138.9 L803.2 116 L803.3 141.2 L803.5 114.8 L803.7 133.3 L803.8 146 L804 125.8 L804.2 136.6 L804.3 121.3 L804.5 121.2 L804.7 147.7 L804.8 112.2 L805 128.7 L805.2 125.1 L805.3 149.2 L805.5 137.2 L805.7 144.8 L805.8 109.7 L806 150.2 L806.2 117.5 L806.3 142.2 L806.5 116.3 L806.7 135.1 L806.8 132 L807 125.8 L807.2 134.5 L807.3 140.8 L807.5 111.4 L807.7 122.3 L807.8 122.6 L808 151.5 L808.2 131.2 L808.3 148.2 L808.5 133.8 L808.7 118.8 L808.8 146.6 L809 134.2 L809.2 136.5 L809.3 133.3 L809.5 133.6 L809.7 120.8 L809.8 127.8 L810 161.1 L810.2 138.8 L810.3 129.9 L810.5 140.3 L810.7 135 L810.8 137.4 L811 132.7 L811.2 132.8 L811.3 138.9 L811.5 115 L811.7 131 L811.8 141.3 L812 134.4 L812.2 123.1 L812.3 130.5 L812.5 128.7 L812.7 117 L812.8 127.5 L813 120.4 L813.2 134.3 L813.3 124.1 L813.5 121.5 L813.7 138.6 L813.8 133.2 L814 131 L814.2 129.8 L814.3 126.5 L814.5 123.2 L814.7 127 L814.8 126.5 L815 129 L815.2 128.7 L815.3 129.2 L815.5 132.7 L815.7 123.6 L815.8 125.9 L816 124.2 L816.2 133.1 L816.3 125.2 L816.5 131.6 L816.7 138.1 L816.8 131.9 L817 127.1 L817.2 133 L817.3 126.6 L817.5 132.5 L817.7 128.7 L817.8 128.2 L818 143.4 L818.2 134.9 L818.3 124.7 L818.5 134.7 L818.7 124.5 L818.8 134.9 L819 131 L819.2 121.2 L819.3 135.6 L819.5 142.2 L819.7 134.4 L819.8 140.6 L820 128.6 L820.2 129.8 L820.3 134.6 L820.5 130.9 L820.7 137.4 L820.8 128.6 L821 125.7 L821.2 138.3 L821.3 142.1 L821.5 124.8 L821.7 114.9 L821.8 128.5 L822 129.9 L822.2 136.2 L822.3 139 L822.5 117.7 L822.7 134.3 L822.8 132.4 L823 129.2 L823.2 134.6 L823.3 127.9 L823.5 138.6 L823.7 132.5 L823.8 132.7 L824 126.9 L824.2 133.4 L824.3 130.8 L824.5 130 L824.7 120.3 L824.8 138.7 L825 127.9 L825.2 132.1 L825.3 141.1 L825.5 138.8 L825.7 130.4 L825.8 146.3 L826 129.1 L826.2 140.2 L826.3 137.4 L826.5 144.9 L826.7 128.7 L826.8 134.8 L827 128.8 L827.2 135.9 L827.3 145.2 L827.5 135.9 L827.7 128.3 L827.8 134.6 L828 161.1 L828.2 128.5 L828.3 121.5 L828.5 127.9 L828.7 125.5 L828.8 143.1 L829 120.4 L829.2 124 L829.3 126.7 L829.5 133.9 L829.7 141.4 L829.8 120.4 L830 137.1 L830.2 128.3 L830.3 139.9 L830.5 124.4 L830.7 126.5 L830.8 124.7 L831 114.6 L831.2 129.6 L831.3 114.4 L831.5 131.1 L831.7 139 L831.8 138.7 L832 125.9 L832.2 135 L832.3 117 L832.5 124.1 L832.7 142.1 L832.8 129.7 L833 131.8 L833.2 139.4 L833.3 133.2 L833.5 134.8 L833.7 135.6 L833.8 132.3 L834 135.6 L834.2 138.9 L834.3 124.4 L834.5 147.7 L834.7 127.9 L834.8 115.6 L835 137.3 L835.2 144.9 L835.3 127 L835.5 114.4 L835.7 133.3 L835.8 135.5 L836 111 L836.2 112.7 L836.3 119 L836.5 116.5 L836.7 129.5 L836.8 122.9 L837 122.4 L837.2 122.5 L837.3 140.5 L837.5 135 L837.7 156 L837.8 130.5 L838 132.7 L838.2 155.7 L838.3 136.8 L838.5 126 L838.7 103.1 L838.8 132.5 L839 105 L839.2 110 L839.3 133.9 L839.5 139.8 L839.7 115.1 L839.8 141.6 L840 103.5 L840.2 126.4 L840.3 136.4 L840.5 144.2 L840.7 115.8 L840.8 122.1 L841 145.9 L841.2 148.9 L841.3 142 L841.5 141.8 L841.7 136.6 L841.8 125.3 L842 157.8 L842.2 140.7 L842.3 141.8 L842.5 140 L842.7 128.7 L842.8 146.9 L843 131.1 L843.2 136.2 L843.3 146 L843.5 122.7 L843.7 104.6 L843.8 126.8 L844 145.5 L844.2 124.9 L844.3 130.8 L844.5 143.2 L844.7 122.4 L844.8 130.1 L845 103.1 L845.2 105.8 L845.3 161.1 L845.5 145.9 L845.7 137.9 L845.8 124.8 L846 148.3 L846.2 152.1 L846.3 119.5 L846.5 131.4 L846.7 102.1 L846.8 145.4 L847 135.9 L847.2 127.7 L847.3 118.9 L847.5 157.2 L847.7 144.3 L847.8 143.3 L848 132.6 L848.2 119.6 L848.3 124.5 L848.5 126.1 L848.7 132.9 L848.8 110.5 L849 102.6 L849.2 139.9 L849.3 123.1 L849.5 108.1 L849.7 150.4 L849.8 133.9 L850 114.2 L850.2 114.3 L850.3 128.5 L850.5 104.4 L850.7 140.4 L850.8 141.3 L851 114.1 L851.2 153.7 L851.3 140.2 L851.5 137.3 L851.7 103.5 L851.8 126.2 L852 136.6 L852.2 123 L852.3 132.9 L852.5 151.1 L852.7 136.5 L852.8 151 L853 140.8 L853.2 142.8 L853.3 127.7 L853.5 103.7 L853.7 144.2 L853.8 147.6 L854 112 L854.2 128.6 L854.3 102.9 L854.5 128.8 L854.7 108.7 L854.8 135.9 L855 91.1 L855.2 123 L855.3 162.1 L855.5 122.5 L855.7 121.4 L855.8 151.8 L856 115.7 L856.2 130.5 L856.3 127.7 L856.5 123.3 L856.7 151.9 L856.8 120.6 L857 143.5 L857.2 149.7 L857.3 159.2 L857.5 106.9 L857.7 156.8 L857.8 145.5 L858 114.3 L858.2 156.3 L858.3 129.2 L858.5 137.3 L858.7 133.3 L858.8 157.5 L859 142.5 L859.2 101.8 L859.3 148.4 L859.5 109.9 L859.7 135.5 L859.8 144.5 L860 156.9 L860.2 114.8 L860.3 152.8 L860.5 128.4 L860.7 132.5 L860.8 125.4 L861 143.1 L861.2 131.5 L861.3 128.4 L861.5 114.3 L861.7 135.5 L861.8 106.4 L862 125.2 L862.2 118.4 L862.3 141.8 L862.5 139 L862.7 135.1 L862.8 137.1 L863 129.3 L863.2 132.1 L863.3 135.4 L863.5 147.2 L863.7 143 L863.8 138.4 L864 132.9 L864.2 156.2 L864.3 128.5 L864.5 113.8 L864.7 127.8 L864.8 144.1 L865 169.1 L865.2 102.1 L865.3 130.5 L865.5 127.9 L865.7 116.5 L865.8 89.3 L866 158.5 L866.2 143.1 L866.3 114.7 L866.5 140 L866.7 119.9 L866.8 102.1 L867 104.6 L867.2 129.8 L867.3 145.8 L867.5 122.8 L867.7 135.1 L867.8 123.1 L868 127.3 L868.2 132.8 L868.3 124.2 L868.5 150.2 L868.7 130.9 L868.8 140.2 L869 145.7 L869.2 124.6 L869.3 124.1 L869.5 121.3 L869.7 108.7 L869.8 154.8 L870 84.1 L870.2 106 L870.3 166.1 L870.5 132.4 L870.7 131.5 L870.8 124.5 L871 137.7 L871.2 111.6 L871.3 137.9 L871.5 113.8 L871.7 128.6 L871.8 132 L872 146.3 L872.2 118.6 L872.3 138.9 L872.5 134.6 L872.7 127.7 L872.8 134.9 L873 131.7 L873.2 132.3 L873.3 134.6 L873.5 128.6 L873.7 118.5 L873.8 117.8 L874 150.2 L874.2 125.2 L874.3 127.8 L874.5 136.8 L874.7 122.8 L874.8 129 L875 139.9 L875.2 112.7 L875.3 132.9 L875.5 138.8 L875.7 128.5 L875.8 109.9 L876 125.1 L876.2 137.8 L876.3 129.2 L876.5 127.4 L876.7 125.5 L876.8 138.5 L877 147.7 L877.2 112 L877.3 126.5 L877.5 122 L877.7 151.8 L877.8 156.8 L878 127.8 L878.2 149.7 L878.3 127.4 L878.5 130.3 L878.7 129.3 L878.8 156.3 L879 152.8 L879.2 132.6 L879.3 129.9 L879.5 114.4 L879.7 152.4 L879.8 121.7 L880 126.9 L880.2 111.9 L880.3 141.6 L880.5 149.2 L880.7 130.2 L880.8 113.9 L881 135.9 L881.2 124.7 L881.3 144.6 L881.5 130.8 L881.7 132 L881.8 119.5 L882 127 L882.2 131.3 L882.3 143.2 L882.5 129.1 L882.7 134 L882.8 139.4 L883 146.3 L883.2 115.1 L883.3 134.9 L883.5 127.6 L883.7 134.1 L883.8 130.6 L884 131 L884.2 120.7 L884.3 129.7 L884.5 127.7 L884.7 135.4 L884.8 139.4 L885 137.6 L885.2 131.1 L885.3 131.7 L885.5 132.9 L885.7 128.2 L885.8 127.4 L886 122.2 L886.2 129.4 L886.3 129.1 L886.5 122.1 L886.7 140.7 L886.8 132.2 L887 131.5 L887.2 139.1 L887.3 130.4 L887.5 133.5 L887.7 133.4 L887.8 130.9 L888 126.1 L888.2 132.2 L888.3 132.6 L888.5 130.2 L888.7 128.5 L888.8 124.5 L889 131.9 L889.2 127 L889.3 128.8 L889.5 128.3 L889.7 132.7 L889.8 130.5 L890 129.8 L890.2 125.3 L890.3 124.2 L890.5 128.1 L890.7 130.2 L890.8 133.5 L891 128.8 L891.2 122.3 L891.3 129.5 L891.5 128.8 L891.7 132.7 L891.8 128.9 L892 101.1 L892.2 127 L892.3 125.4 L892.5 130.5 L892.7 135.5 L892.8 128.2 L893 129.5 L893.2 130.5 L893.3 133.8 L893.5 127.5 L893.7 135 L893.8 131.9 L894 124.3 L894.2 124.8 L894.3 134.2 L894.5 133.7 L894.7 132.8 L894.8 132.1 L895 138.6 L895.2 140.8 L895.3 126.9 L895.5 136.1 L895.7 123.3 L895.8 138 L896 125.8 L896.2 128.1 L896.3 131.9 L896.5 129.3 L896.7 136.7 L896.8 130.1 L897 138.8 L897.2 125.1 L897.3 137.4 L897.5 136.3 L897.7 122.4 L897.8 128.9 L898 137.1 L898.2 125.7 L898.3 121.6 L898.5 135.4 L898.7 129.5 L898.8 125 L899 122.7 L899.2 144.3 L899.3 134.5 L899.5 135.7 L899.7 128.2 L899.8 132.8 L900 126.9 L900.2 133.3 L900.3 126.9 L900.5 124.7 L900.7 131.9 L900.8 143.9 L901 136 L901.2 117.5 L901.3 127.2 L901.5 135.1 L901.7 132.5 L901.8 134.4 L902 131.3 L902.2 132.8 L902.3 129.7 L902.5 133 L902.7 128.5 L902.8 134.2 L903 128.5 L903.2 141 L903.3 142.3 L903.5 130.9 L903.7 132.4 L903.8 130 L904 129.1 L904.2 129.8 L904.3 129 L904.5 127.3 L904.7 131.9 L904.8 132.2 L905 131.3 L905.2 144 L905.3 138.8 L905.5 123.8 L905.7 141.2 L905.8 122.6 L906 135.6 L906.2 125.7 L906.3 133.7 L906.5 143.3 L906.7 121 L906.8 133.5 L907 130.7 L907.2 124.8 L907.3 138.5 L907.5 130.2 L907.7 134.2 L907.8 119.5 L908 125.2 L908.2 130.9 L908.3 132.2 L908.5 130 L908.7 130.5 L908.8 116.1 L909 131.1 L909.2 143 L909.3 137.4 L909.5 136 L909.7 122.3 L909.8 137.4 L910 133.8 L910.2 127.5 L910.3 134.2 L910.5 134 L910.7 124.1 L910.8 129.4 L911 138.7 L911.2 142.4 L911.3 140.4 L911.5 118.5 L911.7 130.6 L911.8 129.5 L912 131.7 L912.2 122.6 L912.3 124.4 L912.5 131.1 L912.7 124.4 L912.8 136.8 L913 134.3 L913.2 120.4 L913.3 132.8 L913.5 142.5 L913.7 136.2 L913.8 128.8 L914 136.9 L914.2 128 L914.3 127.7 L914.5 139.2 L914.7 130.7 L914.8 131.4 L915 126.8 L915.2 131.7 L915.3 126.7 L915.5 123.2 L915.7 127.4 L915.8 133.5 L916 133.1 L916.2 125.7 L916.3 123.2 L916.5 124.6 L916.7 134.4 L916.8 129.6 L917 126.1 L917.2 136.6 L917.3 144.7 L917.5 127.4 L917.7 122.8 L917.8 120.9 L918 128.1 L918.2 121 L918.3 131.6 L918.5 132.5 L918.7 118.9 L918.8 120.5 L919 131.3 L919.2 130.2 L919.3 140 L919.5 140.2 L919.7 130.9 L919.8 140.9 L920 128.4 L920.2 133.8 L920.3 129.5 L920.5 130.7 L920.7 127 L920.8 134.3 L921 132.9 L921.2 131 L921.3 129.4 L921.5 130.9 L921.7 133.3 L921.8 129.7 L922 136.1 L922.2 132.8 L922.3 136.5 L922.5 136.7 L922.7 138.3 L922.8 120.1 L923 124.7 L923.2 127.8 L923.3 128.2 L923.5 134.2 L923.7 125.3 L923.8 130.6 L924 126.8 L924.2 133.2 L924.3 129.8 L924.5 140.9 L924.7 135.9 L924.8 130 L925 132.9 L925.2 132.5 L925.3 130.4 L925.5 131.8 L925.7 134.3 L925.8 130.2 L926 130.4 L926.2 121.6 L926.3 128 L926.5 131 L926.7 129.7 L926.8 125.2 L927 124.5 L927.2 129.2 L927.3 130 L927.5 131.4 L927.7 126.5 L927.8 132 L928 133.2 L928.2 133.7 L928.3 126.3 L928.5 130.4 L928.7 127.1 L928.8 119.8 L929 127.3 L929.2 131.7 L929.3 127.1 L929.5 129.6 L929.7 138.2 L929.8 132.4 L930 139.2 L930.2 119.8 L930.3 134.7 L930.5 127.4 L930.7 127.1 L930.8 135.6 L931 129.9 L931.2 141.4 L931.3 127.5 L931.5 125.1 L931.7 120.8 L931.8 129.6 L932 127.3 L932.2 129.8 L932.3 128.8 L932.5 136.5 L932.7 122 L932.8 121.1 L933 135.6 L933.2 127.7 L933.3 130.9 L933.5 140.2 L933.7 132.3 L933.8 133.5 L934 132.3 L934.2 123.9 L934.3 133.8 L934.5 138.3 L934.7 126.8 L934.8 125.3 L935 134.8 L935.2 130.4 L935.3 135.2 L935.5 127.4 L935.7 135.5 L935.9 135.4 L936 129.3 L936.2 129.5 L936.4 129.8 L936.5 136.4 L936.7 141 L936.9 133.5 L937 138.4 L937.2 128.9 L937.4 129.6 L937.5 123.2 L937.7 138.4 L937.9 129.2 L938 133.5 L938.2 128 L938.4 128.8 L938.5 135.8 L938.7 120.5 L938.9 129.1 L939 120.5 L939.2 139.7 L939.4 134.8 L939.5 132.8 L939.7 133.2 L939.9 134.8 L940 109.1 L940.2 130.3 L940.4 128.9 L940.5 132.7 L940.7 143 L940.9 133.9 L941 124.2 L941.2 138.3 L941.4 128.2 L941.5 132.7 L941.7 138.8 L941.9 138.2 L942 121.9 L942.2 131.6 L942.4 123.1 L942.5 122.8 L942.7 141.4 L942.9 138.5 L943 138.2 L943.2 128 L943.4 128.1 L943.5 135.3 L943.7 133.3 L943.9 129 L944 124.3 L944.2 122.2 L944.4 134.8 L944.5 140.5 L944.7 140.8 L944.9 140 L945 128.2 L945.2 131.7 L945.4 136.4 L945.5 125.2 L945.7 127 L945.9 130.3 L946 124.7 L946.2 122.1 L946.4 131.7 L946.5 134.5 L946.7 135 L946.9 130.3 L947 131.8 L947.2 129.2 L947.4 130.6 L947.5 135.3 L947.7 128.5 L947.9 131.6 L948 129.4 L948.2 131.8 L948.4 131 L948.5 130.6 L948.7 130.7 L948.9 129.7 L949 133.7 L949.2 127.8 L949.4 126.8 L949.5 126.1 L949.7 128.7 L949.9 133.8 L950 132.7 L950.2 134.2 L950.4 129.4 L950.5 130.3 L950.7 140.4 L950.9 138.9 L951 130.4 L951.2 128.5 L951.4 123.7 L951.5 122.1 L951.7 128.7 L951.9 127.7 L952 129 L952.2 128.9 L952.4 129.1 L952.5 141 L952.7 133.9 L952.9 125 L953 133.2 L953.2 131.2 L953.4 123.6 L953.5 128.1 L953.7 127.6 L953.9 123.6 L954 130.2 L954.2 130.2 L954.4 131.2 L954.5 132.7 L954.7 123.1 L954.9 126.7 L955 129.5 L955.2 126.1 L955.4 121.4 L955.5 121.8 L955.7 142.3 L955.9 123 L956 129.1 L956.2 127.1 L956.4 121.5 L956.5 121.4 L956.7 140.4 L956.9 127.9 L957 122.8 L957.2 130.6 L957.4 140.6 L957.5 138.4 L957.7 131.4 L957.9 128.6 L958 136 L958.2 137.2 L958.4 133.6 L958.5 135.2 L958.7 141.6 L958.9 146.8 L959 140.3 L959.2 118.4 L959.4 139.8 L959.5 125.6 L959.7 129.2 L959.9 119 L960 137 L960.2 126.9 L960.4 121 L960.5 137.8 L960.7 117.2 L960.9 118.9 L961 130.6 L961.2 128.5 L961.4 119.3 L961.5 135.1 L961.7 126.3 L961.9 127.5 L962 124.9 L962.2 131.1 L962.4 122.5 L962.5 125.7 L962.7 138.3 L962.9 125.8 L963 119.5 L963.2 123.3 L963.4 140.2 L963.5 128.2 L963.7 137.4 L963.9 137.2 L964 133.2 L964.2 138.7 L964.4 129.2 L964.5 134.6 L964.7 140.2 L964.9 130.1 L965 127.3 L965.2 129.2 L965.4 132.7 L965.5 125.2 L965.7 125.3 L965.9 128.4 L966 134.1 L966.2 134.3 L966.4 129.6 L966.5 132.5 L966.7 140.3 L966.9 136.2 L967 135.2 L967.2 136.4 L967.4 122.9 L967.5 136.3 L967.7 147.5 L967.9 123.9 L968 144.3 L968.2 144.8 L968.4 130.9 L968.5 128.7 L968.7 134.6 L968.9 113.7 L969 125.1 L969.2 147.4 L969.4 118.7 L969.5 127.5 L969.7 119.7 L969.9 116 L970 142.6 L970.2 115.7 L970.4 131.5 L970.5 119.8 L970.7 137.2 L970.9 138.9 L971 138.6 L971.2 144.7 L971.4 118.7 L971.5 142.4 L971.7 136.4 L971.9 123.6 L972 130.2 L972.2 124.4 L972.4 116.9 L972.5 135 L972.7 120 L972.9 123.5 L973 137 L973.2 121.9 L973.4 146.5 L973.5 127 L973.7 129.4 L973.9 135.1 L974 121.1 L974.2 137 L974.4 126.5 L974.5 131.1 L974.7 133.6 L974.9 139 L975 107.1 L975.2 131.2 L975.4 161.1 L975.5 126.1 L975.7 123.7 L975.9 130.7 L976 138.8 L976.2 121.5 L976.4 130.2 L976.5 127.1 L976.7 154.1 L976.9 115.7 L977 146.5 L977.2 135.2 L977.4 114.7 L977.5 115 L977.7 116.8 L977.9 144.5 L978 127.2 L978.2 118.8 L978.4 124 L978.5 125.2 L978.7 130.4 L978.9 137.5 L979 129 L979.2 117.1 L979.4 142.3 L979.5 120.2 L979.7 116.7 L979.9 140.3 L980 116.4 L980.2 149.8 L980.4 146.8 L980.5 131 L980.7 127.6 L980.9 148 L981 137.3 L981.2 125.1 L981.4 125 L981.5 113.5 L981.7 136.5 L981.9 136.4 L982 132.2 L982.2 123.9 L982.4 110.3 L982.5 146.6 L982.7 124.2 L982.9 146.6 L983 127.7 L983.2 136.4 L983.4 133 L983.5 124 L983.7 136.3 L983.9 135.4 L984 150.2 L984.2 116.6 L984.4 111.8 L984.5 124.5 L984.7 109 L984.9 135.1 L985 101.1 L985.2 139.2 L985.4 156.1 L985.5 101.3 L985.7 133.2 L985.9 116.8 L986 132.6 L986.2 123.1 L986.4 127.8 L986.5 147.7 L986.7 139.8 L986.9 97.9 L987 132.6 L987.2 125.4 L987.4 136.1 L987.5 149.8 L987.7 134 L987.9 125.3 L988 134.3 L988.2 157 L988.4 130.1 L988.5 103.9 L988.7 140.8 L988.9 115.5 L989 133.5 L989.2 139.7 L989.4 118.6 L989.5 141.7 L989.7 112.6 L989.9 126.5 L990 110.9 L990.2 127.5 L990.4 121.2 L990.5 139.6 L990.7 127.7 L990.9 133.7 L991 112.6 L991.2 149.7 L991.4 118.3 L991.5 132.6 L991.7 148.8 L991.9 132.1 L992 137.5 L992.2 138 L992.4 127.8 L992.5 115.4 L992.7 139 L992.9 137 L993 147.5 L993.2 156 L993.4 143.7 L993.5 117.4 L993.7 113 L993.9 113 L994 154.4 L994.2 158.8 L994.4 119.8 L994.5 160.1 L994.7 149.4 L994.9 144.7 L995 151.8 L995.2 126.7 L995.4 130.5 L995.5 130.1 L995.7 139.1 L995.9 128.3 L996 108.9 L996.2 142.7 L996.4 125.4 L996.5 154.4 L996.7 112.2 L996.9 121.6 L997 139.7 L997.2 138.5 L997.4 153.3 L997.5 110 L997.7 121.5 L997.9 117.4 L998 76.1 L998.2 129 L998.4 207.1 L998.5 132.8 L998.7 150.2 L998.9 121.4 L999 145.5 L999.2 147.9 L999.4 136.4 L999.5 149.1 L999.7 140.9 L999.9 147.4 L1000 104.9 L1000.2 123.7 L1000.4 121.2 L1000.5 124.3 L1000.7 101.6 L1000.9 119.1 L1001 138.6 L1001.2 137.4 L1001.4 117 L1001.5 103.4 L1001.7 162.2 L1001.9 144.3 L1002 138.8 L1002.2 117.8 L1002.4 153.2 L1002.5 153 L1002.7 137.1 L1002.9 116.8 L1003 82.1 L1003.2 81.9 L1003.4 99.1 L1003.5 141.3 L1003.7 163.3 L1003.9 135.3 L1004 146.5 L1004.2 108.2 L1004.4 150.5 L1004.5 141.7 L1004.7 138.1 L1004.9 156.1 L1005 107.2 L1005.2 122.1 L1005.4 113.8 L1005.5 141.8 L1005.7 74 L1005.9 150 L1006 139 L1006.2 153.9 L1006.4 115.9 L1006.5 125.6 L1006.7 151.4 L1006.9 146.4 L1007 153 L1007.2 165.3 L1007.4 145.7 L1007.5 115.9 L1007.7 126.7 L1007.9 88.5 L1008 169.9 L1008.2 150.2 L1008.4 169.5 L1008.5 118.8 L1008.7 140.8 L1008.9 97.2 L1009 108.4 L1009.2 143.2 L1009.4 146.2 L1009.5 133.7 L1009.7 163.9 L1009.9 142.1 L1010 186.1 L1010.2 164.2 L1010.4 132.6 L1010.5 114.3 L1010.7 117.1 L1010.9 114.1 L1011 145.7 L1011.2 152.2 L1011.4 134.6 L1011.5 134.1 L1011.7 125.2 L1011.9 165.4 L1012 129.5 L1012.2 150.5 L1012.4 95.6 L1012.5 126.9 L1012.7 158 L1012.9 129.9 L1013 142.4 L1013.2 90.9 L1013.4 163.1 L1013.5 123 L1013.7 133.9 L1013.9 146.7 L1014 95 L1014.2 130.3 L1014.4 153.2 L1014.5 116 L1014.7 150.3 L1014.9 161.1 L1015 199.1 L1015.2 149.3 L1015.4 166.4 L1015.5 126.9 L1015.7 121.5 L1015.9 123.7 L1016 36.1 L1016.2 127.2 L1016.4 133.2 L1016.5 118.8 L1016.7 139.3 L1016.9 131.6 L1017 113.4 L1017.2 93.8 L1017.4 143.8 L1017.5 85.4 L1017.7 170.5 L1017.9 121.9 L1018 99.1 L1018.2 123.1 L1018.4 77.4 L1018.5 144.4 L1018.7 128 L1018.9 129.4 L1019 105.8 L1019.2 101.6 L1019.4 132.6 L1019.5 145.1 L1019.7 76.2 L1019.9 113.9 L1020 71.1 L1020.2 150.8 L1020.4 154.5 L1020.5 111.7 L1020.7 171.7 L1020.9 77.6 L1021 120.2 L1021.2 128.1 L1021.4 98.5 L1021.5 172.9 L1021.7 152.2 L1021.9 146.3 L1022 142.6 L1022.2 157.5 L1022.4 97.8 L1022.5 139.8 L1022.7 98.3 L1022.9 132 L1023 137 L1023.2 108.4 L1023.4 136 L1023.5 145.5 L1023.7 143.4 L1023.9 106.6 L1024 131.1 L1024.2 93.6 L1024.4 121.4 L1024.5 111.1 L1024.7 153.9 L1024.9 158.2 L1025 192.1 L1025.2 107.2 L1025.4 116.7 L1025.5 135.8 L1025.7 110.3 L1025.9 139.1 L1026 94.8 L1026.2 125.8 L1026.4 127.8 L1026.5 126.9 L1026.7 149.8 L1026.9 127.2 L1027 138 L1027.2 114.3 L1027.4 154.6 L1027.5 147.8 L1027.7 120.5 L1027.9 144.1 L1028 126.7 L1028.2 135.6 L1028.4 149.8 L1028.5 132.5 L1028.7 143.3 L1028.9 163 L1029 140.5 L1029.2 159.6 L1029.4 150.1 L1029.5 160.5 L1029.7 106.9 L1029.9 134.2 L1030 147.3 L1030.2 140.8 L1030.4 118.8 L1030.5 94.9 L1030.7 128.8 L1030.9 103.1 L1031 110.3 L1031.2 156.3 L1031.4 103.2 L1031.5 129.6 L1031.7 133.8 L1031.9 125.8 L1032 127.1 L1032.2 130.6 L1032.4 127.1 L1032.5 136.6 L1032.7 127.6 L1032.9 136.7 L1033 117.8 L1033.2 143.3 L1033.4 132.3 L1033.5 137.8 L1033.7 114.6 L1033.9 125.3 L1034 136 L1034.2 138.5 L1034.4 118.3 L1034.5 121.5 L1034.7 126.4 L1034.9 135.4 L1035 117.1 L1035.2 103.9 L1035.4 130.2 L1035.5 114.4 L1035.7 132.2 L1035.9 122.4 L1036 129.6 L1036.2 126 L1036.4 109.3 L1036.5 128 L1036.7 127.8 L1036.9 143.5 L1037 150.8 L1037.2 126.1 L1037.4 133.8 L1037.5 131.9 L1037.7 131.2 L1037.9 117.2 L1038 127.8 L1038.2 128.2 L1038.4 114.5 L1038.5 110.5 L1038.7 119.5 L1038.9 106.3 L1039 127.6 L1039.2 131 L1039.4 142.5 L1039.5 118 L1039.7 127.4 L1039.9 143.5 L1040 101.1 L1040.2 119.6 L1040.4 130.4 L1040.5 137 L1040.7 148.9 L1040.9 141.3 L1041 142 L1041.2 139.9 L1041.4 120.5 L1041.5 140.1 L1041.7 144.1 L1041.9 121.7 L1042 113.2 L1042.2 148.5 L1042.4 133.8 L1042.5 131.4 L1042.7 128.2 L1042.9 115.6 L1043 120.6 L1043.2 136.4 L1043.4 124 L1043.5 140.5 L1043.7 152.2 L1043.9 132.8 L1044 131.3 L1044.2 135.4 L1044.4 115.4 L1044.5 141.2 L1044.7 135.3 L1044.9 108.2 L1045 119.3 L1045.2 157.2 L1045.4 153 L1045.5 119.9 L1045.7 140.4 L1045.9 148 L1046 125.8 L1046.2 126.6 L1046.4 134.7 L1046.5 127.2 L1046.7 110.8 L1046.9 138.1 L1047 101.1 L1047.2 153.3 L1047.4 161.1 L1047.5 141 L1047.7 120.5 L1047.9 161 L1048 123.5 L1048.2 139 L1048.4 136.1 L1048.5 120.7 L1048.7 123.2 L1048.9 126.7 L1049 158.4 L1049.2 144.8 L1049.4 151.7 L1049.5 98.4 L1049.7 148 L1049.9 131.4 L1050 139.8 L1050.2 147.9 L1050.4 134.9 L1050.5 137.4 L1050.7 127.2 L1050.9 153 L1051 135.7 L1051.2 115.7 L1051.4 144.8 L1051.5 166 L1051.7 142.1 L1051.9 162.6 L1052 118.7 L1052.2 137.4 L1052.4 103.2 L1052.5 122.2 L1052.7 138.5 L1052.9 160.8 L1053 116.6 L1053.2 152.7 L1053.4 138.9 L1053.5 127.5 L1053.7 100.7 L1053.9 114.4 L1054 112.2 L1054.2 122 L1054.4 139.6 L1054.5 112.7 L1054.7 129.5 L1054.9 87.6 L1055 105 L1055.2 147.7 L1055.4 86.2 L1055.5 123.1 L1055.7 105.1 L1055.9 133.8 L1056 93.1 L1056.2 131.2 L1056.4 122.7 L1056.5 128.1 L1056.7 136.8 L1056.9 138.2 L1057 147.4 L1057.2 124.6 L1057.4 129.7 L1057.5 135.3 L1057.7 134.8 L1057.9 142.8 L1058 127.1 L1058.2 143.9 L1058.4 127.1 L1058.5 138.2 L1058.7 150.2 L1058.9 135.6 L1059 135.6 L1059.2 131.7 L1059.4 149.6 L1059.5 150.3 L1059.7 119.2 L1059.9 123 L1060 87.1 L1060.2 153.8 L1060.4 175.1 L1060.5 150 L1060.7 128.1 L1060.9 111.9 L1061 144.3 L1061.2 134.1 L1061.4 113.5 L1061.5 133.2 L1061.7 128.8 L1061.9 130 L1062 134.7 L1062.2 133.8 L1062.4 131.3 L1062.5 126.9 L1062.7 122.1 L1062.9 138.2 L1063 163 L1063.2 142.2 L1063.4 141.4 L1063.5 140.3 L1063.7 134 L1063.9 157.6 L1064 130.7 L1064.2 135.1 L1064.4 162.7 L1064.5 116 L1064.7 103 L1064.9 139.6 L1065 166.1 L1065.2 117.3 L1065.4 131.8 L1065.5 130.8 L1065.7 150.6 L1065.9 120 L1066 154.5 L1066.2 140.7 L1066.4 105.1 L1066.5 126.3 L1066.7 132.4 L1066.9 128.8 L1067 139.4 L1067.2 128.6 L1067.4 135 L1067.5 129.8 L1067.7 134.7 L1067.9 125.8 L1068 127.6 L1068.2 134.1 L1068.4 120.4 L1068.5 112.6 L1068.7 136.3 L1068.9 138 L1069 136.2 L1069.2 120 L1069.4 134.4 L1069.5 134.2 L1069.7 125.6 L1069.9 141.4 L1070 141.8 L1070.2 128.5 L1070.4 136.8 L1070.5 125.9 L1070.7 133.4 L1070.9 143.6 L1071 134.1 L1071.2 120.1 L1071.4 122.1 L1071.5 127.6 L1071.7 128.2 L1071.9 137.8 L1072 125.2 L1072.2 116.6 L1072.4 118.9 L1072.5 138.8 L1072.7 141.9 L1072.9 134.7 L1073 128.3 L1073.2 117.5 L1073.4 136.9 L1073.5 144.5 L1073.7 122.3 L1073.9 119.4 L1074 127 L1074.2 146.7 L1074.4 162.6 L1074.5 136.6 L1074.7 122.1 L1074.9 130.5 L1075 166.1 L1075.2 141.7 L1075.4 119.5 L1075.5 126.1 L1075.7 140.6 L1075.9 134.2 L1076 116.8 L1076.2 117.1 L1076.4 130.9 L1076.5 150.2 L1076.7 119.5 L1076.9 128.2 L1077 130.9 L1077.2 153.7 L1077.4 147.9 L1077.5 121.2 L1077.7 119.8 L1077.9 139.1 L1078 160.8 L1078.2 130.9 L1078.4 130.8 L1078.5 125.1 L1078.7 155.4 L1078.9 140 L1079 110.3 L1079.2 116.1 L1079.4 122 L1079.5 112.5 L1079.7 128.2 L1079.9 125.1 L1080 138.5 L1080.2 109.2 L1080.4 134.4 L1080.5 129.8 L1080.7 124.8 L1080.9 113.6 L1081 152.7 L1081.2 127.3 L1081.4 148.2 L1081.5 142.7 L1081.7 123 L1081.9 138.4 L1082 150 L1082.2 137.2 L1082.4 127.3 L1082.5 126.5 L1082.7 130.6 L1082.9 115.1 L1083 131.7 L1083.2 136.9 L1083.4 151.5 L1083.5 123 L1083.7 137.2 L1083.9 144 L1084 139 L1084.2 120 L1084.4 130.9 L1084.5 152.5 L1084.7 127.9 L1084.9 143.5 L1085 148.7 L1085.2 121.8 L1085.4 128.7 L1085.5 137.5 L1085.7 125.5 L1085.9 130.6 L1086 119.7 L1086.2 109.6 L1086.4 114 L1086.5 109 L1086.7 111.4 L1086.9 128.3 L1087 96.4 L1087.2 150.4 L1087.4 147.6 L1087.5 125.8 L1087.7 166.4 L1087.9 127.8 L1088 130.8 L1088.2 128.7 L1088.4 126.1 L1088.5 111.9 L1088.7 143.5 L1088.9 112.6 L1089 109 L1089.2 130.7 L1089.4 146.9 L1089.5 135.1 L1089.7 124.1 L1089.9 131.7 L1090 86.1 L1090.2 92.4 L1090.4 209.1 L1090.5 150 L1090.7 94.3 L1090.9 147.1 L1091 126.2 L1091.2 131 L1091.4 114.4 L1091.5 137.9 L1091.7 106.4 L1091.9 131.3 L1092 26.1 L1092.2 142.1 L1092.4 300.1 L1092.5 114.6 L1092.7 108.4 L1092.9 127.3 L1093 122.5 L1093.2 123.1 L1093.4 122.6 L1093.5 185.1 L1093.7 184.7 L1093.9 175.2 L1094 169.5 L1094.2 149.3 L1094.4 115.9 L1094.5 67.9 L1094.7 140.6 L1094.9 89.8 L1095 65.1 L1095.2 199.6 L1095.4 201.1 L1095.5 130.2 L1095.7 133.9 L1095.9 118.6 L1096 122.8 L1096.2 125.1 L1096.4 90.2 L1096.5 142.3 L1096.7 109.5 L1096.9 111.4 L1097 167.2 L1097.2 124.2 L1097.4 90.7 L1097.5 175.8 L1097.7 114.1 L1097.9 149.4 L1098 92.8 L1098.2 144.2 L1098.4 139.2 L1098.5 117.3 L1098.7 134.3 L1098.9 177.4 L1099 143.3 L1099.2 117 L1099.4 132 L1099.5 150 L1099.7 128.8 L1099.9 148.7 L1100 182.1 L1100.2 154.4 L1100.4 129.5 L1100.5 90 L1100.7 128.5 L1100.9 188.8 L1101 127.2 L1101.2 130 L1101.4 101.4 L1101.5 141.4 L1101.7 136.3 L1101.9 194.9 L1102 129.9 L1102.2 106.6 L1102.4 117.3 L1102.5 192.8 L1102.7 163 L1102.9 133.3 L1103 79.1 L1103.2 145.5 L1103.4 148.3 L1103.5 90.7 L1103.7 114.1 L1103.9 125.5 L1104 125.5 L1104.2 94.3 L1104.4 135.3 L1104.5 160.2 L1104.7 166.5 L1104.9 146.7 L1105 129.5 L1105.2 167.8 L1105.4 158.8 L1105.5 132.9 L1105.7 109.6 L1105.9 170.2 L1106 107.8 L1106.2 118.8 L1106.4 150.3 L1106.5 141.9 L1106.7 149.9 L1106.9 103.1 L1107 173.1 L1107.2 144.6 L1107.4 155.8 L1107.5 122.2 L1107.7 127.5" fill="none" stroke="#4472C4" stroke-width="1.7" stroke-linejoin="round"/>
<rect x="738.6" y="6.2" width="440.8" height="312.1" fill="none" stroke="#1a1a1a" stroke-width="1.2"/>
<text x="723.7" y="11.1" font-size="14" text-anchor="end" fill="#4a4a4a">8,000,000</text>
<text x="723.7" y="73.5" font-size="14" text-anchor="end" fill="#4a4a4a">4,000,000</text>
<text x="723.7" y="135.9" font-size="14" text-anchor="end" fill="#4a4a4a">0</text>
<text x="723.7" y="198.3" font-size="14" text-anchor="end" fill="#4a4a4a">-4,000,000</text>
<text x="723.7" y="260.7" font-size="14" text-anchor="end" fill="#4a4a4a">-8,000,000</text>
<text x="723.7" y="323.1" font-size="14" text-anchor="end" fill="#4a4a4a">-12,000,000</text>
<text x="738.6" y="343.3" font-size="14" text-anchor="middle" fill="#4a4a4a">Aug-13</text>
<text x="812.1" y="343.3" font-size="14" text-anchor="middle" fill="#4a4a4a">Dec-14</text>
<text x="885.5" y="343.3" font-size="14" text-anchor="middle" fill="#4a4a4a">May-16</text>
<text x="959" y="343.3" font-size="14" text-anchor="middle" fill="#4a4a4a">Sep-17</text>
<text x="1032.5" y="343.3" font-size="14" text-anchor="middle" fill="#4a4a4a">Feb-19</text>
<text x="1105.9" y="343.3" font-size="14" text-anchor="middle" fill="#4a4a4a">Jun-20</text>
<text x="1179.4" y="343.3" font-size="14" text-anchor="middle" fill="#4a4a4a">Oct-21</text>
<text transform="translate(640.2 161.6) rotate(-90)" x="0" y="0" font-size="16" text-anchor="middle" fill="#4a4a4a" textLength="162" lengthAdjust="spacingAndGlyphs">Daily No-Arbitrage P&amp;L</text>
<text x="913.9" y="378.9" font-family='"Liberation Serif", serif' font-size="29" text-anchor="middle" fill="#000">(<tspan font-weight="bold">b</tspan>)</text>
<path d="M195.4 650.1 L196 650.5 L196 650 L196.6 652.5 L197.2 654.6 L197.5 655 L197.8 655.5 L198.4 656.1 L199 657.1 L199.6 657.7 L200 658 L200.2 658 L200.8 657.8 L201.4 657.9 L202 658.1 L202.6 658.3 L203 658 L203.2 658.2 L203.8 658.2 L204.4 658.1 L205 658.6 L205.6 659 L206 659 L206.2 659.5 L206.8 659.8 L207.4 660 L208 661.1 L208 661 L208.6 660.7 L209.2 660.1 L209.8 660.4 L210 660 L210.4 660.3 L211 660.1 L211.6 660.1 L212 660 L212.2 659.8 L212.8 660.2 L213.4 659.9 L214 659.9 L214 660 L214.6 660.2 L215.2 660.3 L215.8 661.1 L216 661 L216.4 660.7 L217 659.4 L217.6 657.4 L218 657 L218.2 656.7 L218.8 656.4 L219.4 656.3 L220 655.4 L220 656 L220.6 655 L221.2 655.1 L221.8 655.3 L222 655 L222.4 654.4 L223 654.1 L223.6 652.6 L224 652 L224.2 651.6 L224.8 650.4 L225.4 649 L226 648.2 L226 648 L226.6 645.9 L227.2 644.2 L227.8 643 L228 643 L228.4 642 L229 642 L229.6 640.5 L230 640 L230.2 640.1 L230.8 639 L231.4 639.3 L232 638.2 L232 638 L232.6 637.2 L233.2 635.1 L233.8 635.1 L234.4 633.7 L235 633.4 L235 633 L235.6 631.3 L236.2 629.3 L236.8 627.5 L237 626 L237.4 625.7 L238 623.6 L238.6 622.8 L239 622 L239.2 621.7 L239.8 619.7 L240.4 619.4 L241 618.9 L241 618 L241.6 617.2 L242.2 615.8 L242.8 614.7 L243 614 L243.4 614.4 L244 612.9 L244.6 612.9 L245 612 L245.2 611.4 L245.8 611 L246.4 610.3 L247 608.4 L247 609 L247.6 608.8 L248.2 608.4 L248.5 608 L248.8 607.9 L249.4 609.9 L250 611.5 L250 612 L250.6 614.3 L251 617 L251.2 616 L251.8 612.5 L252 612 L252.4 611.7 L253 610.8 L253.6 610.8 L254 611 L254.2 612.1 L254.8 611.9 L255.4 610.9 L256 611.2 L256 612 L256.6 611.7 L257.2 610.9 L257.8 612.3 L258 612 L258.4 612.3 L259 612.5 L259.6 612.8 L260 613 L260.2 612.6 L260.8 612.2 L261.4 610.9 L262 611.4 L262 613 L262.6 612.9 L263.2 613.7 L263.8 613.6 L264.4 612.7 L265 613.5 L265 614 L265.6 613.9 L266.2 613.2 L266.8 614.6 L267.4 613.5 L268 613.9 L268.6 613.3 L269.2 614.3 L269.8 613.3 L270 614 L270.4 613.3 L271 614.4 L271.6 613.4 L272.2 613.5 L272.8 614.2 L273.4 614.3 L274 613 L274.6 614.1 L275 614 L275.2 613.8 L275.8 614.5 L276.4 612.9 L277 613.8 L277.6 613.8 L278.2 613.2 L278.8 612.9 L279.4 613.3 L280 612.6 L280 613 L280.6 612.6 L281.2 612.2 L281.8 612.6 L282.4 612.9 L283 611.6 L283.6 612 L284.2 612.3 L284.8 613 L285 612 L285.4 611.7 L286 612.3 L286.6 611.3 L287.2 611.4 L287.8 611.1 L288.4 610.9 L289 610.3 L289.6 609.5 L290 610 L290.2 610.7 L290.8 611.1 L291.4 610.3 L292 610 L292.6 609.9 L293.2 609.2 L293.8 609.1 L294.4 610 L295 610 L295 610.6 L295.6 609.9 L296.2 609.2 L296.8 608.8 L297.4 608.9 L298 609.6 L298.6 609.4 L299.2 608.3 L299.8 608.1 L300 609 L300.4 608.8 L301 608.9 L301.6 609.8 L302.2 609.7 L302.8 608.9 L303.4 608.1 L304 608.2 L304.6 607.4 L305 608 L305.2 607.3 L305.8 608.1 L306.4 608 L307 608 L307.6 608.3 L308 607 L308.2 607.2 L308.8 607.9 L309.4 607.9 L310 608 L310 608.2 L310.6 608 L311.2 607.9 L311.8 606.6 L312.4 606 L313 606.5 L313.6 606.8 L314.2 606.1 L314.8 605.9 L315 606 L315.4 605 L316 605.9 L316.6 605.7 L317.2 606.1 L317.8 604.9 L318.4 604.6 L319 604.4 L319.6 605 L320 604 L320.2 604.5 L320.8 604.1 L321.4 602.6 L322 602.4 L322.6 601.9 L323.2 602.3 L323.8 602.9 L324.4 602.4 L325 602 L325 601.5 L325.6 602.8 L326.2 601.2 L326.8 602 L327.4 601.9 L328 601.2 L328.6 601.5 L329.2 599.9 L329.8 599.6 L330 600 L330.4 599.5 L331 599.7 L331.6 599.3 L332.2 600.1 L332.8 598.9 L333.4 598.5 L334 597.6 L334.6 598.2 L335 598 L335.2 598.4 L335.8 597.5 L336.4 596.9 L337 596.5 L337.6 597.8 L338.2 597.9 L338.8 597.6 L339.4 597.7 L340 597 L340 597.5 L340.6 597 L341.2 595.4 L341.8 596 L342.4 596 L343 596 L343.6 595.7 L344.2 594.3 L344.8 594.2 L345 594 L345.4 592.9 L346 594 L346.6 592.4 L347.2 592.9 L347.8 591.9 L348.4 591.3 L349 590.9 L349.6 590.8 L350 591 L350.2 591 L350.8 591.2 L351.4 590.2 L352 590.3 L352.6 590.1 L353.2 590.5 L353.8 588.8 L354.4 588.6 L355 588 L355 588.5 L355.6 588 L356.2 588 L356.8 587 L357.4 586.7 L358 586.3 L358.6 586 L359.2 585.6 L359.8 585.8 L360 586 L360.4 585.1 L361 585.2 L361.6 585.8 L362.2 584.7 L362.8 584.5 L363.4 584.8 L364 584.4 L364.6 584.2 L365 585 L365.2 585.8 L365.8 585.1 L366.4 584.3 L367 583.7 L367.6 582.9 L368.2 582.7 L368.8 581.8 L369.4 583.1 L370 583 L370 582.6 L370.6 583.3 L371.2 582.9 L371.8 581.5 L372.4 583.3 L373 582.9 L373.6 583 L374.2 582 L374.8 581.7 L375 582 L375.4 581.6 L376 582.6 L376.6 580.9 L377.2 580.3 L377.8 580.9 L378.4 579.5 L379 580.9 L379.6 579.6 L380 580 L380.2 580.5 L380.8 580.1 L381.4 579.8 L382 579.3 L382.6 580.6 L383.2 580 L383.8 579.2 L384.4 580.1 L385 580 L385 580 L385.6 580.4 L386.2 580.1 L386.8 580.5 L387.4 580.8 L388 580.7 L388.6 579.8 L389.2 580.8 L389.8 581.8 L390 581 L390.4 581.4 L391 581.4 L391.6 581.1 L392.2 580.3 L392.8 580.7 L393 580 L393.4 580.3 L394 580.1 L394.6 580.1 L395.2 581.8 L395.8 582.4 L396 582 L396.4 582.8 L397 582.5 L397.6 581.9 L398.2 583.6 L398.8 583.8 L399 584 L399.4 583.8 L400 583.9 L400.6 584 L401.2 583.5 L401.8 584.9 L402 585 L402.4 585.4 L403 585.6 L403.6 585 L404.2 584.2 L404.8 584 L405 585 L405.4 584.2 L406 585.2 L406.6 584.7 L407.2 583.8 L407.8 583.5 L408 583 L408.4 583.4 L409 582.7 L409.6 582.4 L410 582 L410.2 582.1 L410.8 581.4 L411.4 580.8 L412 580.8 L412.6 581.6 L413 581 L413.2 580 L413.8 579.7 L414.4 579.2 L415 579 L415 578.9 L415.6 578.4 L416.2 578.8 L416.8 578 L417 578 L417.4 578.2 L418 578.9 L418.6 578.1 L419 579 L419.2 579.2 L419.8 578.9 L420.4 577 L421 577 L421 576.8 L421.6 576.5 L422.2 576.6 L422.8 577.3 L423 577 L423.4 573.2 L424 570 L424 570.2 L424.6 569.1 L425 568 L425.2 568.3 L425.8 570.1 L426 569 L426.4 569.9 L427 571 L427 570.1 L427.6 571.6 L428.2 572.3 L428.8 572.4 L429 573 L429.4 572 L430 572.5 L430.6 575.1 L431 575 L431.2 574.3 L431.8 576 L432.4 576.4 L433 576 L433 574.9 L433.6 576 L434.2 576.7 L434.8 577.3 L435.4 577.8 L436 577 L436 578 L436.6 577.5 L437.2 577.3 L437.8 577.5 L438.4 578.1 L439 578 L439 577.5 L439.6 577 L440.2 578.7 L440.8 578.3 L441.4 578.1 L442 577 L442 577.1 L442.6 576.3 L443.2 576.2 L443.8 575.8 L444.4 575.6 L445 576 L445 574.9 L445.6 575.8 L446.2 575.8 L446.8 575.9 L447.4 575.4 L448 575 L448 574.6 L448.6 575.7 L449.2 575.1 L449.8 574.4 L450.4 574.1 L451 573 L451 573 L451.6 572.8 L452.2 571.5 L452.8 571.7 L453 571 L453.4 571.5 L454 571.2 L454.6 570.6 L455 570 L455.2 570.2 L455.8 570.2 L456.4 570.5 L457 570 L457 569.9 L457.6 570.2 L458.2 570.2 L458.8 568.8 L459.4 568 L460 569 L460 568.8 L460.6 568.7 L461.2 568.4 L461.8 568.1 L462.4 568.1 L463 569 L463 567.7 L463.6 568.6 L464.2 568.3 L464.8 568.3 L465.4 569.3 L466 570 L466 570.7 L466.6 570.6 L467.2 569.4 L467.8 569.1 L468.4 568.3 L469 568 L469 567.9 L469.6 565.7 L470.2 564.3 L470.8 561.9 L471 562 L471.4 561.4 L472 561.7 L472.6 561.9 L473.2 563.2 L473.8 561.8 L474 562 L474.4 561.3 L475 562.2 L475.6 562.4 L476.2 562.5 L476.8 562.1 L477 562 L477.4 561 L478 561.2 L478.6 560.6 L479.2 560.9 L479.8 562 L480 561 L480.4 561 L481 560.7 L481.6 561.1 L482.2 559.7 L482.8 560.3 L483 560 L483.4 559.7 L484 559.2 L484.6 559.1 L485.2 558.6 L485.8 559.4 L486 559 L486.4 559 L487 558.4 L487.6 558.7 L488.2 557.4 L488.8 556.2 L489 558 L489.4 557.9 L490 557 L490.6 557.3 L491.2 556.1 L491.8 554.9 L492 556 L492.4 553.8 L493 553.2 L493.6 551.5 L494 550 L494.2 549.3 L494.8 548.7 L495 548 L495.4 549.9 L496 553 L496 553.1 L496.6 553.6 L497.2 553.9 L497.8 556.2 L498 557 L498.4 557.9 L499 558 L499.6 560.2 L500 560 L500.2 560.6 L500.8 561.9 L501.4 562.1 L502 562 L502 562.9 L502.6 563 L503.2 563 L503.8 565.7 L504 565 L504.4 565.7 L505 564.7 L505.6 563.1 L506 563 L506.2 563.1 L506.8 561.3 L507.4 561 L508 560 L508 560.6 L508.6 559.6 L509.2 557.7 L509.8 557.5 L510 557 L510.4 556.8 L511 556.4 L511.6 556.2 L512 555" fill="none" stroke="#70AD47" stroke-width="1.1" stroke-linejoin="round" opacity="1"/>
<path d="M195.4 650.1 L196 650.5 L196 650 L196.6 652.5 L197.2 654.6 L197.5 655 L197.8 655.9 L198.4 658 L199 660.3 L199 660 L199.6 660.9 L200.2 661.3 L200.8 662.1 L201 662 L201.4 661.9 L202 662.5 L202.6 662.6 L203 663 L203.2 663 L203.8 663.8 L204.4 664.6 L205 664.8 L205.6 665.1 L206.2 665.9 L206.8 666.2 L207 666 L207.4 665.5 L208 665.7 L208.6 665.7 L209.2 665.7 L209.8 665.5 L210.4 666 L211 666.1 L211.6 666.5 L212.2 666.1 L212.8 666.1 L213 666 L213.4 665.7 L214 666 L214.6 666 L215.2 666 L215.8 665.7 L216.4 665 L217 665.2 L217.6 664.5 L218.2 664.3 L218.8 664.2 L219.4 664.8 L220 664 L220 664 L220.6 662.2 L221.2 661 L221.8 659.9 L222 659 L222.4 658.1 L223 656.3 L223.6 654.1 L224.2 652.3 L224.8 650.9 L225 650 L225.4 649.1 L226 647.1 L226.6 645.3 L227.2 644.8 L227.8 643.7 L228.4 641.4 L229 638.7 L229 639 L229.6 639.7 L230.2 638.3 L230.8 638.2 L231.4 638.1 L232 637.6 L232.6 637.2 L233 637 L233.2 637.4 L233.8 635 L234.4 631.7 L235 629.9 L235.6 629.3 L236.2 626.8 L236.8 624.1 L237 624 L237.4 623.8 L238 622.8 L238.6 621.6 L239.2 620.8 L239.8 619.3 L240 619 L240.4 618.2 L241 617.1 L241.6 615.1 L242.2 614.7 L242.8 612.1 L243 612 L243.4 612.7 L244 611.1 L244.6 610.3 L245.2 608.5 L245.8 608.6 L246 608 L246.4 606.8 L247 606.3 L247.6 604.9 L248.2 603.2 L248.5 603 L248.8 604.9 L249.4 605.9 L250 606.9 L250 607 L250.6 607.4 L251.2 608.4 L251.8 608.9 L252.4 610 L253 609.9 L253 610 L253.6 610.6 L254.2 610.6 L254.8 610.7 L255.4 612 L256 611.7 L256 612 L256.6 611 L257.2 612.4 L257.8 612.2 L258.4 612.9 L259 613.2 L259.6 613.4 L260 613 L260.2 613.2 L260.8 614 L261.4 612.4 L262 613.3 L262.6 612.7 L263.2 612.7 L263.8 612.1 L264.4 612.7 L265 612.5 L265 612 L265.6 612.2 L266.2 612.5 L266.8 613.1 L267.4 613 L268 614.9 L268.6 614.4 L269.2 613.8 L269.8 614.7 L270 614 L270.4 614.6 L271 614.2 L271.6 614.3 L272.2 613.7 L272.8 615.2 L273 615 L273.4 613.9 L274 609.8 L274.6 605.8 L275 604 L275.2 602.8 L275.8 602.8 L276.4 603.5 L277 603.2 L277.6 603.3 L278.2 602.8 L278.8 603 L279.4 603 L280 603.1 L280 603 L280.6 602.8 L281.2 602.5 L281.8 601.5 L282.4 601.3 L283 600.4 L283.6 600.3 L284.2 600.4 L284.8 600.4 L285 600 L285.4 599 L286 598.6 L286.6 598.5 L287.2 597.8 L287.8 597.9 L288.4 597.8 L289 597.1 L289.6 598.2 L290 597 L290.2 597 L290.8 596.9 L291.4 595.4 L292 596.5 L292.6 596.3 L293.2 596 L293.8 594.2 L294.4 594.9 L295 595 L295 594.5 L295.6 594.6 L296.2 593.9 L296.8 592.9 L297.4 592.3 L298 592.7 L298.6 592.4 L299.2 590 L299.8 589.7 L300 590 L300.4 590.2 L301 589.5 L301.6 589.6 L302.2 589 L302.8 589.9 L303.4 589.5 L304 588.6 L304.6 589.2 L305 588 L305.2 588.6 L305.8 588.8 L306.4 587.2 L307 585.8 L307.6 586.6 L308 586 L308.2 586.3 L308.8 585.4 L309.4 584 L310 587 L310 586.3 L310.6 587.1 L311.2 586.9 L311.8 587.2 L312.4 587.8 L313 588 L313 587.2 L313.6 588.6 L314.2 587.4 L314.8 587.9 L315.4 588 L316 588 L316 587.7 L316.6 587.3 L317.2 588 L317.8 586.5 L318.4 587 L319 587 L319 588 L319.6 586 L320.2 584.2 L320.8 583.7 L321 584 L321.4 581.6 L322 581.9 L322.6 581.4 L323.2 581 L323.8 580.4 L324 581 L324.4 581 L325 580.8 L325.6 579.9 L326.2 581 L326.8 579.7 L327 580 L327.4 580.7 L328 579.6 L328.6 578.9 L329.2 578.8 L329.8 579.9 L330 579 L330.4 579.2 L331 578.8 L331.6 577.5 L332.2 578 L332.8 577.8 L333 578 L333.4 577.7 L334 577.4 L334.6 576.8 L335.2 578.5 L335.8 577.5 L336 578 L336.4 577.9 L337 577.5 L337.6 576.7 L338 576 L338.2 576.1 L338.8 576.1 L339.4 575.2 L340 575 L340 575 L340.6 575 L341.2 574.8 L341.8 574.3 L342.4 572.5 L343 574 L343 573.5 L343.6 572.5 L344.2 573.3 L344.8 573.2 L345 572 L345.4 572.1 L346 571.3 L346.6 569.2 L347.2 569.3 L347.8 568.6 L348 569 L348.4 569.4 L349 567 L349.6 567.9 L350 566 L350.2 565.9 L350.8 563.2 L351.4 564 L352 562 L352 562.1 L352.6 561.1 L353.2 560.4 L353.8 557.6 L354 558 L354.4 557.3 L355 557.5 L355.6 558 L356 557 L356.2 557.3 L356.8 557.9 L357.4 556.7 L358 558 L358 558.1 L358.6 557.4 L359.2 557.6 L359.8 558 L360 558 L360.4 558.2 L361 556.8 L361.6 556.6 L362 556 L362.2 555.8 L362.8 555.9 L363.4 554.9 L364 555.6 L364.6 553.9 L365 554 L365.2 553.3 L365.8 554.9 L366.4 554.2 L367 555 L367.6 555.5 L368 555 L368.2 554 L368.8 554.2 L369.4 553.9 L370 554 L370 553.8 L370.6 552.6 L371.2 553 L371.8 552.9 L372.4 551.7 L373 552 L373 551.8 L373.6 551.9 L374.2 550.6 L374.8 551.1 L375.4 551.7 L376 551 L376 551.7 L376.6 549.9 L377.2 549.2 L377.8 549 L378 549 L378.4 548.8 L379 548.6 L379.6 547.7 L380 547 L380.2 547.9 L380.8 548 L381.4 550.2 L382 550 L382 550.2 L382.6 549.3 L383.2 549.1 L383.8 548.1 L384.4 548.3 L385 549 L385 548.5 L385.6 549.4 L386.2 550.2 L386.8 549.3 L387.4 549.2 L388 550 L388 550.3 L388.6 550.8 L389.2 550.7 L389.8 550.4 L390 550 L390.4 549.5 L391 549.8 L391.6 549.4 L392.2 549.9 L392.8 551.5 L393 551 L393.4 552.5 L394 551.8 L394.6 552.5 L395.2 553.5 L395.8 552.5 L396 553 L396.4 552.4 L397 553.3 L397.6 553 L398.2 555.2 L398.8 555.7 L399 556 L399.4 556 L400 556.6 L400.6 557.4 L401.2 557.5 L401.8 557.1 L402 558 L402.4 558.4 L403 558.4 L403.6 559.1 L404.2 559 L404.8 559.7 L405 560 L405.4 558.8 L406 559.4 L406.6 559.2 L407.2 559.9 L407.8 558.7 L408 559 L408.4 558.1 L409 558.7 L409.6 557 L410 558 L410.2 558 L410.8 557.9 L411.4 557.7 L412 557.9 L412.6 557.8 L413 558 L413.2 557 L413.8 557 L414.4 555.4 L415 555 L415 554.9 L415.6 554.2 L416.2 553.2 L416.8 552.6 L417 553 L417.4 552.6 L418 551.7 L418.6 552.2 L419 551 L419.2 551.7 L419.8 550.5 L420.4 550.9 L421 550 L421 548.6 L421.6 551.3 L422.2 550.5 L422.8 550.7 L423 552 L423.4 552 L424 550 L424.6 549.6 L425 550 L425.2 547.9 L425.8 540.6 L426 540 L426.4 539.5 L427 540 L427 540.4 L427.6 540.8 L428 542 L428.2 543.1 L428.8 542.8 L429.4 544.9 L430 545 L430 545.5 L430.6 546.1 L431.2 546.7 L431.8 547 L432 548 L432.4 548.8 L433 548.3 L433.6 549.4 L434 550 L434.2 550.7 L434.8 551.6 L435.4 552.6 L436 553 L436 552.7 L436.6 552.1 L437 553 L437.2 552.5 L437.8 551.6 L438.4 551.5 L439 550 L439 548.9 L439.6 548.1 L440.2 547.1 L440.8 545.2 L441 545 L441.4 543.4 L442 543.6 L442.6 543.9 L443 543 L443.2 542.5 L443.8 541.7 L444.4 541.2 L445 540.7 L445.6 539.8 L446 541 L446.2 542.3 L446.8 540.1 L447.4 539.7 L448 538 L448 539 L448.6 537 L449.2 536.5 L449.8 536.5 L450 535 L450.4 535.6 L451 534.5 L451.6 532.4 L452 532 L452.2 531.2 L452.8 530.7 L453.4 530.8 L454 529 L454 528.8 L454.6 528.5 L455.2 528 L455.8 527.1 L456 526 L456.4 525.4 L457 523.6 L457.6 523.1 L458 522 L458.2 521.7 L458.8 521.4 L459.4 520.3 L460 520 L460 519.6 L460.6 519.6 L461.2 519.2 L461.8 520.4 L462 520 L462.4 519.6 L463 521 L463.6 521.3 L464 522 L464.2 522.4 L464.8 521.8 L465.4 523.1 L466 524 L466 523.9 L466.6 525.2 L467.2 525.5 L467.8 525.4 L468 525 L468.4 524.1 L469 522.6 L469.6 521.7 L470 520 L470.2 520.6 L470.8 519.1 L471.4 518.2 L472 516 L472 515.3 L472.6 515.8 L473.2 516.2 L473.8 514.7 L474 514 L474.4 513.8 L475 514.8 L475.6 513.1 L476 514 L476.2 514.6 L476.8 513.8 L477.4 514.8 L478 515 L478 514.3 L478.6 515.5 L479.2 514.7 L479.8 513.8 L480 514 L480.4 513.5 L481 513.9 L481.6 513.7 L482 512 L482.2 512.2 L482.8 510.4 L483.4 510.2 L484 508 L484 508.4 L484.6 506.9 L485.2 507.4 L485.8 504.7 L486 505 L486.4 504.1 L487 503.6 L487.6 501.7 L488 500 L488.2 500 L488.8 499.2 L489.4 496.9 L490 496 L490 495.9 L490.6 494.8 L491.2 494.3 L491.8 493 L492 492 L492.4 491.9 L493 492 L493.6 491.6 L494 490 L494.2 488.7 L494.8 487.6 L495 485 L495.4 487.8 L496 490 L496 490 L496.6 492.7 L497.2 491.9 L497.8 493.5 L498 495 L498.4 495.5 L499 496.1 L499.6 496.6 L500 498 L500.2 497.9 L500.8 499.8 L501.4 499.8 L502 500 L502 500.8 L502.6 501.4 L503.2 501.5 L503.8 502 L504 502 L504.4 502.3 L505 503.7 L505.6 505.1 L506 505 L506.2 505.4 L506.8 505.9 L507.4 506.8 L508 507 L508 507.3 L508.6 506.8 L509.2 504.8 L509.8 505.3 L510 505 L510.4 502.1 L511 500 L511 500.2 L511.6 498.3 L512 497" fill="none" stroke="#B0B0B0" stroke-width="1.1" stroke-linejoin="round" opacity="1"/>
<path d="M195.4 650.1 L196 650.5 L196 650 L196.6 652.5 L197.2 654.6 L197.5 655 L197.8 656.1 L198.4 657.9 L199 660 L199 660 L199.6 660.7 L200.2 661.1 L200.8 661.6 L201 662 L201.4 662.4 L202 663 L202.6 663.8 L203 664 L203.2 663.8 L203.8 664.3 L204.4 665.1 L205 666 L205.6 666.2 L206.2 667.4 L206.8 668.3 L207 668 L207.4 667.9 L208 668.3 L208.6 667.5 L209.2 667.8 L209.8 667.4 L210.4 668.1 L211 668.3 L211.6 668.2 L212.2 667.9 L212.8 667.6 L213 668 L213.4 667.8 L214 667.4 L214.6 667.4 L215.2 666.6 L215.8 666.8 L216.4 666.7 L217 665.6 L217.6 665.4 L218.2 665.4 L218.8 665.2 L219.4 664.6 L220 664.8 L220 665 L220.6 663.1 L221.2 661.8 L221.8 659.9 L222 660 L222.4 658 L223 656.3 L223.6 653.6 L224.2 651.7 L224.8 650.1 L225 649 L225.4 648.2 L226 645.9 L226.6 645.8 L227.2 642.9 L227.8 641.8 L228.4 640.4 L229 637.9 L229 638 L229.6 638 L230.2 635.6 L230.8 636.6 L231.4 636.7 L232 636.2 L232.6 636.1 L233 636 L233.2 635.9 L233.8 633.9 L234.4 630.8 L235 629.4 L235.6 627.7 L236.2 625 L236.8 623 L237 622 L237.4 619.7 L238 618.8 L238.6 619 L239.2 617.2 L239.8 617.5 L240 617 L240.4 616.8 L241 614.2 L241.6 612.3 L242.2 611.4 L242.8 610.4 L243 610 L243.4 609.9 L244 608.6 L244.6 607.8 L245.2 606.3 L245.8 606.1 L246 606 L246.4 604.4 L247 604 L247.6 602.7 L248.2 599.7 L248.5 600 L248.8 600.8 L249.4 602.2 L250 605.3 L250 605 L250.6 604.9 L251.2 606.7 L251.8 607.6 L252.4 608.8 L253 608.6 L253 608 L253.6 608.7 L254.2 609.9 L254.8 609.1 L255.4 610.1 L256 610.6 L256 611 L256.6 610.9 L257.2 610.1 L257.8 609.9 L258.4 609.9 L259 612.1 L259.6 611.7 L260 612 L260.2 612.2 L260.8 611.6 L261.4 611.2 L262 611.9 L262.6 609.6 L263.2 610.1 L263.8 609.7 L264.4 609.3 L265 608.6 L265 610 L265.6 608.7 L266.2 609.2 L266.8 610.9 L267.4 610.5 L268 610.7 L268.6 611.1 L269.2 611.9 L269.8 612.6 L270 612 L270.4 612.4 L271 612.3 L271.6 612.8 L272.2 612.2 L272.8 612.8 L273 613 L273.4 611.8 L274 607.3 L274.6 603.5 L275 602 L275.2 600.5 L275.8 600.8 L276.4 600.8 L277 599.7 L277 600 L277.6 599 L278.2 599.4 L278.8 598.3 L279.4 598 L280 596.8 L280 597 L280.6 597.3 L281.2 596.9 L281.8 595.8 L282.4 594.9 L283 595 L283 596.4 L283.6 594.1 L284.2 593 L284.8 591.3 L285 593 L285.4 592.4 L286 591.9 L286.6 591.2 L287.2 589.7 L287.8 589.8 L288 590 L288.4 588.9 L289 588 L289.6 587.9 L290 588 L290.2 587.8 L290.8 587 L291.4 586.1 L292 586.3 L292.6 585.6 L293 585 L293.2 584.7 L293.8 585 L294.4 584.7 L295 584.9 L295.6 584.8 L296 584 L296.2 584.4 L296.8 582.9 L297.4 583.3 L298 582.8 L298.6 581.2 L299 581 L299.2 581.5 L299.8 580.4 L300.4 578.9 L301 578.7 L301.6 577.4 L302 578 L302.2 578.2 L302.8 576.4 L303.4 577.2 L304 575.6 L304.6 575.1 L305 575 L305.2 575.8 L305.8 575.9 L306.4 574.9 L307 575.9 L307.6 575.4 L308 577 L308.2 577 L308.8 576.3 L309.4 576.7 L310 577 L310 576.7 L310.6 575.6 L311.2 576.3 L311.8 577.3 L312.4 575.7 L313 575.3 L313.6 575.6 L314.2 576 L314.8 574.7 L315 575 L315.4 574.5 L316 574.2 L316.6 574.1 L317.2 572.4 L317.8 573.6 L318 572 L318.4 573.3 L319 570.6 L319.6 569.7 L320 570 L320.2 570.1 L320.8 569.9 L321.4 570.2 L322 571 L322 570.8 L322.6 569.8 L323.2 569.2 L323.8 569.1 L324.4 568.3 L325 568 L325 568.1 L325.6 568.4 L326.2 568.5 L326.8 567.7 L327.4 568.5 L328 567 L328 567.1 L328.6 567.3 L329.2 567.7 L329.8 566.6 L330 566 L330.4 566.6 L331 565.8 L331.6 565.5 L332.2 565.9 L332.8 566.2 L333 566 L333.4 566.1 L334 566.1 L334.6 565.8 L335.2 565.3 L335.8 564.6 L336 565 L336.4 564.4 L337 563.9 L337.6 563.3 L338 563 L338.2 562.1 L338.8 563.1 L339.4 563.1 L340 562 L340 562.4 L340.6 561.6 L341.2 562.2 L341.8 561.4 L342.4 561 L343 561 L343 561.3 L343.6 560.4 L344.2 560.4 L344.8 559.7 L345 560 L345.4 559.7 L346 559 L346.6 558.4 L347.2 557.5 L347.8 556.6 L348 556 L348.4 555.7 L349 555.1 L349.6 553.1 L350 553 L350.2 551.6 L350.8 550.7 L351.4 549.5 L352 548 L352 547.8 L352.6 547.7 L353.2 546.1 L353.8 545.3 L354 544 L354.4 544.1 L355 542.7 L355.6 542.1 L356 543 L356.2 543.4 L356.8 543.5 L357.4 543.4 L358 544 L358 544.7 L358.6 545.9 L359.2 545.8 L359.8 546.8 L360 546 L360.4 545.7 L361 544.4 L361.6 543.2 L362 544 L362.2 544 L362.8 542 L363.4 541.6 L364 541.2 L364.6 540.8 L365 540 L365.2 539 L365.8 539.8 L366.4 539.8 L367 541.4 L367.6 540.9 L368 541 L368.2 540.4 L368.8 541.1 L369.4 540 L370 539 L370 539.6 L370.6 539 L371.2 538.2 L371.8 538.2 L372.4 537.1 L373 537 L373 536 L373.6 536.1 L374.2 536.8 L374.8 536.2 L375.4 536.8 L376 536 L376 536.6 L376.6 535.4 L377.2 535 L377.8 533.7 L378 533 L378.4 532.7 L379 531.4 L379.6 530.5 L380 530 L380.2 530.3 L380.8 532.2 L381.4 534 L382 534 L382 535 L382.6 534 L383.2 533.2 L383.8 533 L384.4 532.1 L385 532 L385 531.9 L385.6 531.7 L386.2 531.9 L386.8 530.5 L387.4 531.5 L388 532 L388 532.2 L388.6 531.7 L389.2 533.5 L389.8 533.2 L390 533 L390.4 533 L391 534.5 L391.6 533.7 L392.2 536 L392.8 534.9 L393 535 L393.4 536 L394 537.1 L394.6 537.3 L395.2 537.5 L395.8 537.4 L396 538 L396.4 538.2 L397 539.1 L397.6 540.2 L398.2 539 L398.8 540.8 L399 541 L399.4 540.5 L400 541 L400.6 541.8 L401.2 542 L401.8 543.1 L402 543 L402.4 542.2 L403 543.3 L403.6 542.9 L404.2 543.3 L404.8 543.7 L405 544 L405.4 543.2 L406 544.3 L406.6 545.8 L407.2 544.7 L407.8 544.3 L408 545 L408.4 545.7 L409 546.2 L409.6 544.1 L410 545 L410.2 544.5 L410.8 544.3 L411.4 544.9 L412 545 L412 544.9 L412.6 543.1 L413.2 542.1 L413.8 541.9 L414.4 539.7 L415 539 L415 539 L415.6 539.4 L416.2 540.2 L416.8 539.6 L417 539 L417.4 538.9 L418 537.5 L418.6 537.4 L419 537 L419.2 537.7 L419.8 537.1 L420.4 537.2 L421 536 L421 536 L421.6 537.1 L422.2 537.2 L422.8 537.3 L423 538 L423.4 536.8 L424 537.1 L424.6 536.1 L425 535 L425.2 533 L425.8 526.8 L426 525 L426.4 525.4 L427 525 L427 524.8 L427.6 528.6 L428 530 L428.2 530.7 L428.8 530.9 L429.4 531.9 L430 533 L430 532.3 L430.6 532.7 L431.2 533.6 L431.8 534.3 L432 535 L432.4 535.2 L433 535.9 L433.6 536.8 L434 538 L434.2 538.1 L434.8 537.5 L435.4 536.8 L436 539 L436 539.5 L436.6 538 L437 537 L437.2 536.8 L437.8 536.2 L438.4 535.1 L439 533 L439 534.2 L439.6 533 L440.2 531.9 L440.8 530.8 L441 530 L441.4 529.7 L442 528.9 L442.6 526.1 L443 528 L443.2 528.1 L443.8 527.2 L444.4 526 L445 526.5 L445.6 525.1 L446 525 L446.2 524.8 L446.8 523.3 L447.4 522 L448 522 L448 522.4 L448.6 521 L449.2 518.7 L449.8 518.5 L450 518 L450.4 517.4 L451 515 L451.6 513.6 L452 512 L452.2 512.5 L452.8 511.4 L453.4 509.9 L454 508 L454 508.7 L454.6 508.3 L455.2 506.7 L455.8 505.3 L456 505 L456.4 504.2 L457 505.5 L457.6 502.5 L458 502 L458.2 501.7 L458.8 499.6 L459.4 499.5 L460 499 L460 498.8 L460.6 498 L461.2 497.6 L461.8 497.3 L462 496 L462.4 496.6 L463 496.1 L463.6 496.3 L464 497 L464.2 496.9 L464.8 496.5 L465.4 496.8 L466 497 L466 497.3 L466.6 497.5 L467.2 498.9 L467.8 497.2 L468 498 L468.4 497.1 L469 496.6 L469.6 494.3 L470 494 L470.2 492.6 L470.8 494.5 L471.4 494.2 L472 493 L472 493.6 L472.6 493.9 L473.2 492.6 L473.8 492.1 L474 493 L474.4 493.7 L475 493.3 L475.6 492 L476 493 L476.2 492.7 L476.8 494.3 L477.4 493.3 L478 494 L478 492.8 L478.6 492.5 L479.2 493.9 L479.8 494.6 L480 495 L480.4 494.3 L481 494 L481.6 493.8 L482 494 L482.2 493.3 L482.8 492.7 L483.4 493 L484 492 L484 492.1 L484.6 491.1 L485.2 488.5 L485.8 487.5 L486 488 L486.4 487.5 L487 486.2 L487.6 485.5 L488 484 L488.2 482.7 L488.8 481.8 L489.4 479.5 L490 478 L490 477.9 L490.6 476.6 L491.2 475.4 L491.8 474.4 L492 475 L492.4 474 L493 474 L493.6 472.1 L494 472 L494.2 465 L494.8 445.6 L495 440 L495.4 449.2 L496 465 L496 465.2 L496.6 467.7 L497.2 470.3 L497.8 474.2 L498 475 L498.4 475.9 L499 476.8 L499.6 477.5 L500 478 L500.2 477.6 L500.8 478.4 L501.4 477.7 L502 478 L502 478 L502.6 477.2 L503.2 476.9 L503.8 475.4 L504 475 L504.4 476.1 L505 475.6 L505.6 477.2 L506 478 L506.2 478.7 L506.8 480.8 L507.4 481.6 L508 485 L508 485.1 L508.6 485.5 L509.2 486.2 L509.8 488.5 L510 488 L510.4 484.9 L511 480 L511 480.6 L511.6 476.1 L512 475" fill="none" stroke="#999999" stroke-width="1.1" stroke-linejoin="round" opacity="1"/>
<path d="M195.4 650.1 L196 650.5 L196 650 L196.6 652.5 L197.2 654.6 L197.5 655 L197.8 656.1 L198.4 658 L199 659.4 L199 660 L199.6 660.6 L200.2 661.6 L200.8 663.1 L201 663 L201.4 663.3 L202 663.8 L202.6 664.4 L203 665 L203.2 665.3 L203.8 666.2 L204.4 667 L205 668.1 L205.6 668.4 L206.2 669.5 L206.8 669.9 L207 670 L207.4 670.3 L208 670.4 L208.6 670.7 L209.2 669.9 L209.8 670.7 L210.4 669.6 L211 669.8 L211.6 669.9 L212.2 670 L212.8 670.4 L213 670 L213.4 669.4 L214 668.9 L214.6 669.2 L215.2 669.3 L215.8 668.2 L216.4 667.8 L217 667.8 L217.6 667.6 L218.2 666.6 L218.8 666.5 L219.4 666.1 L220 665.6 L220 666 L220.6 664 L221.2 662.1 L221.8 660.1 L222 660 L222.4 658.9 L223 656 L223.6 653.3 L224.2 651.7 L224.8 648.8 L225 648 L225.4 646.8 L226 644.4 L226.6 641.9 L227.2 642.4 L227.8 639.8 L228.4 638.2 L229 636.7 L229 637 L229.6 636.7 L230.2 637.7 L230.8 635.4 L231.4 634.4 L232 636.2 L232.6 635.9 L233 635 L233.2 634.9 L233.8 632.9 L234.4 629.7 L235 627.6 L235.6 625.5 L236 623 L236.2 623.9 L236.8 622 L237.4 619.6 L238 618.3 L238.6 617.5 L239.2 616.2 L239.8 616.1 L240 615 L240.4 613.4 L241 612.5 L241.6 610.5 L242.2 609.2 L242.8 608.6 L243 607 L243.4 607.5 L244 605.6 L244.6 604.9 L245.2 604.8 L245.8 603.5 L246 603 L246.4 601.7 L247 599 L247.6 594.8 L248.2 592 L248.5 590 L248.8 593.1 L249.4 595.7 L250 597.8 L250 598 L250.6 599.5 L251.2 599.5 L251.8 599.7 L252.4 600.7 L253 601.6 L253.6 601.4 L254.2 602.4 L254.8 603.3 L255 603 L255.4 603.8 L256 603.2 L256.6 602.6 L257.2 603 L257.8 603.3 L258.4 603.3 L259 603.7 L259.6 603.5 L260 603 L260.2 602.2 L260.8 603 L261.4 603.4 L262 601.7 L262.6 602.7 L263.2 603.1 L263.8 602.8 L264.4 602.7 L265 601.7 L265 602 L265.6 601.9 L266.2 601.7 L266.8 600.4 L267.4 600.7 L268 600.8 L268 600 L268.6 600.6 L269.2 602.4 L269.8 602.2 L270.4 602.4 L271 603 L271.6 603.3 L272.2 603.5 L272.8 603.6 L273 604 L273.4 602.1 L274 600.8 L274.6 600.6 L275.2 600.6 L275.8 598.4 L276 598 L276.4 596 L277 597.1 L277.6 595.7 L278.2 595 L278.8 595.3 L279.4 594.8 L280 594.2 L280 594 L280.6 591.9 L281.2 589.9 L281.8 588.9 L282.4 587.5 L283 585 L283 585.8 L283.6 585.1 L284.2 584.1 L284.8 582.4 L285 582 L285.4 583 L286 583.7 L286.6 583.9 L287 585 L287.2 585.8 L287.8 585 L288.4 583 L289 582 L289 581.8 L289.6 580.6 L290.2 579.1 L290.8 577.4 L291 577 L291.4 576.7 L292 577.5 L292.6 576.4 L293 576 L293.2 575.5 L293.8 576 L294.4 574.8 L295 574 L295 573.9 L295.6 573.2 L296.2 573.3 L296.8 572.9 L297 573 L297.4 572.4 L298 571.9 L298.6 571.6 L299.2 570 L299.8 569.4 L300 570 L300.4 569.2 L301 569.1 L301.6 568.5 L302.2 568.2 L302.8 567.8 L303.4 567.1 L304 566.6 L304.6 567.5 L305 566 L305.2 566.2 L305.8 564.8 L306.4 564.7 L307 563.8 L307.6 562.1 L308 562 L308.2 563.2 L308.8 561.8 L309.4 564.1 L310 565 L310 565.3 L310.6 565.6 L311.2 565.2 L311.8 563.5 L312.4 563.6 L313 565 L313 564.9 L313.6 563.4 L314.2 564.4 L314.8 564.6 L315 563 L315.4 562.1 L316 562.6 L316.6 562.6 L317.2 563.4 L317.8 561.3 L318 561 L318.4 561.2 L319 561.2 L319.6 559.7 L320 560 L320.2 559.1 L320.8 559.4 L321.4 558.6 L322 558 L322 557.4 L322.6 556.7 L323.2 556.8 L323.8 556.2 L324.4 556.6 L325 556 L325 556 L325.6 557.2 L326.2 556.1 L326.8 555.7 L327.4 556.2 L328 556 L328 556.6 L328.6 555.4 L329.2 555 L329.8 554.6 L330.4 554.2 L331 555 L331 554.6 L331.6 554.9 L332.2 554.2 L332.8 553.6 L333.4 553.3 L334 554 L334 554.9 L334.6 554.3 L335.2 554 L335.8 553.1 L336.4 552.6 L337 553 L337 552.7 L337.6 552.5 L338.2 551.6 L338.8 552.2 L339.4 551.8 L340 552 L340 552 L340.6 552.1 L341.2 551.6 L341.8 550.6 L342.4 551.6 L343 550 L343 551.4 L343.6 550.2 L344.2 549.8 L344.8 548.3 L345.4 548.1 L346 547 L346 547.9 L346.6 547.3 L347.2 545.8 L347.8 545.1 L348.4 544.1 L349 544 L349 543.8 L349.6 543.4 L350.2 540.6 L350.8 539.1 L351 540 L351.4 538.7 L352 537.6 L352.6 536 L353 535 L353.2 535.5 L353.8 533.4 L354.4 531.4 L355 531 L355 530.6 L355.6 530.6 L356.2 532.5 L356.8 533.8 L357.4 533 L358 533 L358 533.2 L358.6 533 L359.2 532.9 L359.8 532.1 L360 532 L360.4 531.1 L361 531.3 L361.6 531.4 L362 530 L362.2 529.6 L362.8 528.3 L363.4 528.2 L364 529.3 L364.6 527.3 L365 527 L365.2 526.6 L365.8 528 L366.4 528.2 L367 528.7 L367.6 530.3 L368 530 L368.2 529.3 L368.8 528.7 L369.4 529.3 L370 528 L370 528.8 L370.6 528.3 L371.2 527 L371.8 526.4 L372.4 525.4 L373 525 L373 525.6 L373.6 525.5 L374.2 525.6 L374.8 524.4 L375.4 524.2 L376 524 L376 524.4 L376.6 524.4 L377.2 522.6 L377.8 522.6 L378 522 L378.4 521.1 L379 519.6 L379.6 517.6 L380 517 L380.2 517.7 L380.8 519.2 L381.4 519.3 L382 521 L382 521.8 L382.6 520.5 L383.2 520.8 L383.8 521.4 L384.4 519.6 L385 520 L385 518.8 L385.6 520.2 L386.2 520.9 L386.8 521 L387.4 521.5 L388 521 L388 520.7 L388.6 521.5 L389.2 522 L389.8 522.5 L390 522 L390.4 521.9 L391 524.1 L391.6 523 L392.2 521.8 L392.8 522 L393 523 L393.4 522.5 L394 524.9 L394.6 526 L395.2 526.5 L395.8 527.4 L396 527 L396.4 527.4 L397 528.3 L397.6 527.5 L398.2 528.9 L398.8 528.6 L399 528 L399.4 529.6 L400 527.9 L400.6 528.5 L401.2 529.4 L401.8 530 L402 530 L402.4 529.3 L403 530.8 L403.6 530.9 L404.2 530 L404.8 530 L405 531 L405.4 530.6 L406 531.1 L406.6 532.1 L407.2 532.6 L407.8 533.4 L408 533 L408.4 533.8 L409 532.6 L409.6 534.5 L410 534 L410.2 532.9 L410.8 533.3 L411.4 532.8 L412 533 L412 531.9 L412.6 532.4 L413.2 530 L413.8 529.4 L414.4 528.1 L415 528 L415 528 L415.6 527.3 L416.2 527.3 L416.8 527.4 L417 527 L417.4 527.8 L418 528.9 L418.6 529.7 L419 530 L419.2 530.8 L419.8 530.4 L420.4 529.5 L421 532 L421 530.8 L421.6 531.1 L422.2 531.9 L422.8 532.6 L423 533 L423.4 533.6 L424 535 L424 534.1 L424.6 530.5 L425 530 L425.2 525.9 L425.8 514.3 L426 510 L426.4 508 L427 505 L427 505.6 L427.6 508.3 L428 510 L428.2 509.9 L428.8 511.5 L429.4 513.2 L430 515 L430 515.4 L430.6 515.8 L431.2 516.9 L431.8 516.3 L432 518 L432.4 518.1 L433 519.7 L433.6 519 L434 520 L434.2 520.4 L434.8 521.8 L435.4 522.6 L436 523 L436 523.4 L436.6 524.6 L437 525 L437.2 524.7 L437.8 523 L438.4 521 L439 520 L439 519.5 L439.6 517.7 L440.2 516.7 L440.8 516.4 L441 515 L441.4 514.8 L442 515 L442.6 514.9 L443 515 L443.2 515.5 L443.8 514.5 L444.4 514.4 L445 512.2 L445.6 513.3 L446 512 L446.2 512 L446.8 509.6 L447.4 506.2 L448 503 L448 503.3 L448.6 501.8 L449.2 498.6 L449.8 496.2 L450 497 L450.4 496.6 L451 495 L451.6 494.4 L452 493 L452.2 493.6 L452.8 491.1 L453.4 491.3 L454 490 L454 489.9 L454.6 488.3 L455.2 485.5 L455.8 484.9 L456 485 L456.4 483.6 L457 484.3 L457.6 482.3 L458 482 L458.2 482.4 L458.8 481.6 L459.4 481.9 L460 480 L460 480.2 L460.6 479.1 L461.2 477.9 L461.8 477.5 L462 477 L462.4 476.8 L463 477.6 L463.6 478.9 L464 478 L464.2 476.5 L464.8 479.4 L465.4 480.9 L466 482 L466 481.8 L466.6 484.7 L467 486 L467.2 485.6 L467.8 484.1 L468.4 482.2 L469 480 L469 480 L469.6 479.5 L470.2 478.6 L470.8 477 L471 478 L471.4 477.5 L472 479.3 L472.6 478 L473 480 L473.2 478.7 L473.8 480.4 L474.4 480.8 L475 482 L475 481.3 L475.6 481.3 L476.2 482.4 L476.8 480.6 L477 481 L477.4 479.5 L478 481.3 L478.6 482 L479 482 L479.2 481.1 L479.8 481.7 L480.4 484 L481 484 L481 484.8 L481.6 484.1 L482.2 480.9 L482.8 481.2 L483 480 L483.4 478.7 L484 477.5 L484.6 475.9 L485 475 L485.2 475.1 L485.8 473.7 L486.4 471.2 L487 470 L487 469.1 L487.6 468.8 L488.2 465.6 L488.8 462.7 L489 462 L489.4 459.6 L490 459.5 L490.6 458.6 L491 458 L491.2 457.5 L491.8 455 L492.4 453.8 L493 453 L493 452.8 L493.6 446.9 L494.2 441.9 L494.8 437.8 L495 436 L495.4 444.8 L496 455 L496 456.3 L496.6 459.9 L497 462 L497.2 462 L497.8 461.4 L498.4 460.8 L499 460 L499 459.3 L499.6 458.8 L500 457 L500.2 456.7 L500.8 456.9 L501.4 455.5 L502 456 L502 456 L502.6 456.5 L503 458 L503.2 457.9 L503.8 458.8 L504.4 460.9 L505 462 L505 461.7 L505.6 459.4 L506.2 458.6 L506.8 455.9 L507 455 L507.4 453.6 L508 450 L508 449.4 L508.6 447.8 L509.2 445.8 L509.8 443.5 L510 443 L510.4 441.3 L511 437 L511 437.9 L511.6 435.2 L512 434" fill="none" stroke="#8FAADC" stroke-width="1.2" stroke-linejoin="round" opacity="1"/>
<path d="M157 658.8 L157 657.5 L157.5 658 L158 656.3 L158.5 656 L159 657 L159.5 658.1 L160 657.1 L160 657 L160.5 656.2 L161 656 L161.5 657 L162 657.4 L162.5 656.3 L163 655.4 L163 656 L163.5 654.9 L164 655.8 L164.5 654.8 L165 655 L165.5 654.8 L165.5 655 L166 656.9 L166.5 655.7 L166.7 657 L167 655.1 L167.5 653.9 L168 653.6 L168 653 L168.5 652.3 L169 652.6 L169.5 651.1 L170 649.6 L170 651 L170.5 649.6 L171 650.5 L171.5 649.2 L172 648.2 L172 649 L172.5 648.2 L173 647.5 L173.3 648 L173.5 648.2 L174 648.9 L174.5 649.9 L175 650.4 L175 650 L175.5 652.1 L176 650.3 L176.5 652 L177 650.1 L177 652 L177.5 653 L178 653.8 L178.3 655 L178.5 654.2 L179 653.2 L179.5 653 L180 651.8 L180 652 L180.5 651.9 L181 651 L181.5 651.1 L182 651.7 L182 650 L182.5 650.4 L183 649.9 L183.5 648.8 L184 649 L184 649 L184.5 648.4 L185 647.6 L185.3 648 L185.5 647.7 L186 650.6 L186.5 649.7 L186.7 651 L187 650.8 L187.5 652.4 L188 654.7 L188 655 L188.5 655.2 L189 656.2 L189.5 656.7 L190 657.1 L190 657 L190.5 656.8 L191 657.4 L191 658 L191.5 656.4 L192 654.8 L192.5 651.9 L192.5 652 L193 651 L193.5 649.1 L194 647.5 L194.5 645.9 L194.5 647 L195 648.3 L195.5 650.3 L196 650.5 L196 650 L196.5 652.1 L197 653.9 L197.5 655.1 L197.5 655 L198 655.3 L198.5 658.6 L199 660.3 L199 660 L199.5 661.7 L200 661.7 L200.5 662 L201 664.3 L201 663 L201.5 665 L202 664.8 L202.5 663.9 L203 664.3 L203 665 L203.5 664.8 L204 665.9 L204.5 666.4 L205 666.9 L205 667 L205.5 668.4 L206 667.9 L206.5 668.3 L206.7 670 L207 670.6 L207.5 672.7 L208 674.1 L208 674 L208.5 674.3 L209 672.1 L209 672 L209.5 670.8 L210 669.8 L210.5 668.3 L210.5 669 L211 668.7 L211.5 667.9 L212 668 L212 667 L212.5 667.5 L213 668.9 L213 670 L213.5 671.4 L214 672.4 L214 672 L214.5 672 L215 672.2 L215.5 672.6 L215.5 672 L216 670.4 L216.5 670 L217 668.6 L217 668 L217.5 667.1 L218 665.9 L218 666 L218.5 667.4 L219 667.5 L219.5 667.7 L219.5 668 L220 666.1 L220.5 665.4 L220.5 666 L221 663.9 L221.5 661.4 L221.5 662 L222 660 L222.5 659.6 L222.5 659 L223 656.7 L223.5 655.4 L224 653.4 L224 653 L224.5 648.9 L225 648 L225 648 L225.5 644.5 L226 639.3 L226 641 L226.5 639.3 L227 638.2 L227.5 637.9 L228 636.9 L228.5 637.9 L229 636.8 L229 636 L229.5 637.2 L230 637.2 L230.5 633.9 L231 634.4 L231.5 634.5 L232 631.5 L232 633 L232.5 633.8 L233 632.5 L233.5 631.1 L234 630.8 L234 630 L234.5 626.8 L235 626 L235.5 625 L236 623.6 L236 621 L236.5 620.9 L237 619.2 L237.5 617.1 L238 612.8 L238 616 L238.5 613.9 L239 613.7 L239.5 614.6 L240 613.3 L240 613 L240.5 612.3 L241 613.3 L241.5 611.7 L242 611.1 L242 610 L242.5 605.7 L243 603.1 L243 604 L243.5 601.9 L244 603.8 L244.5 602.4 L245 601.2 L245 602 L245.5 601.2 L246 600.7 L246.5 602.9 L247 603.5 L247 601 L247.5 592.7 L248 581.6 L248.3 575 L248.5 587.6 L248.8 600 L249 599.7 L249.5 594 L249.5 592 L250 591.8 L250.5 592.6 L251 593.5 L251 593 L251.5 590.8 L252 590.5 L252.5 592.7 L253 590 L253 592 L253.5 594.6 L254 596.6 L254 596 L254.5 598.2 L255 599.6 L255 600 L255.5 598.2 L256 599.1 L256 597 L256.5 597.5 L257 600.7 L257 601 L257.5 604.3 L258 606.6 L258 606 L258.5 601.3 L259 596.3 L259 597 L259.5 600.8 L260 606.4 L260 605 L260.5 606.8 L261 607.5 L261 608 L261.5 607.9 L262 611.3 L262 610 L262.5 602.7 L263 598.3 L263.5 592.1 L263.5 592 L264 593.3 L264.5 596.4 L265 599.2 L265 597 L265.5 594.4 L266 591.9 L266 590 L266.5 592.8 L267 594.2 L267 594 L267.5 595.9 L268 598.8 L268 600 L268.5 598.3 L269 592.9 L269 592 L269.5 592.9 L270 598.3 L270 598 L270.5 602.2 L271 604.1 L271 605 L271.5 607.5 L272 608.4 L272 608 L272.5 604.6 L273 605.8 L273 607 L273.5 605.9 L274 607.2 L274 606 L274.5 602.1 L275 597.7 L275 597 L275.5 596 L276 595.2 L276 595 L276.5 594.8 L277 596.1 L277.5 594.9 L278 595.3 L278 594 L278.5 594.4 L279 596.9 L279.5 593 L280 592.7 L280 592 L280.5 586.6 L281 583.7 L281 585 L281.5 583.3 L282 578.9 L282 580 L282.5 576 L283 572.2 L283 573 L283.5 573.1 L284 573.4 L284 575 L284.5 572.9 L285 572.4 L285 572 L285.5 573.5 L286 572.4 L286.5 574.4 L287 572.6 L287 575 L287.5 575.8 L288 573.6 L288.5 574.1 L289 569.9 L289 572 L289.5 570.4 L290 567.8 L290 565 L290.5 568 L291 571.8 L291 570 L291.5 571 L292 572.1 L292.5 571.5 L293 572.2 L293 572 L293.5 569.4 L294 567.2 L294.5 568.7 L295 569.1 L295 570 L295.5 572.8 L296 569 L296.5 571.1 L297 568 L297 568 L297.5 565.8 L298 565.8 L298.5 566.5 L299 564.4 L299.5 567.5 L300 564.8 L300 565 L300.5 563.4 L301 560.8 L301.5 559.7 L302 561.6 L302.5 556.8 L303 557.2 L303 557 L303.5 555 L304 552.2 L304.5 552 L305 548.3 L305.5 550 L306 548.8 L306 548 L306.5 547.1 L307 546.8 L307.5 544.2 L308 544.1 L308.5 543.9 L309 541.1 L309 543 L309.5 542.9 L310 543.7 L310.5 543.7 L311 544.4 L311 545 L311.5 547 L312 546 L312.5 549.4 L313 547.4 L313.5 547.7 L314 547.2 L314 548 L314.5 546.8 L315 546.2 L315.5 544.3 L316 545.3 L316 545 L316.5 544.2 L317 543.3 L317.5 541.3 L318 540.7 L318.5 543.9 L319 544.1 L319 542 L319.5 538.5 L320 538.6 L320.5 538.1 L321 538.2 L321 538 L321.5 536.8 L322 536.6 L322.5 535.2 L323 534.7 L323.5 536 L324 533.1 L324 535 L324.5 533.1 L325 535.5 L325.5 536.2 L326 538.2 L326 537 L326.5 534.7 L327 532.9 L327.5 535.9 L328 533.6 L328.5 535.5 L329 534.7 L329 532 L329.5 532.5 L330 532.3 L330.5 534.4 L331 533.8 L331.5 535.9 L332 536.9 L332 535 L332.5 537.8 L333 535.1 L333.5 535.8 L334 535.7 L334.5 537 L335 537.8 L335 535 L335.5 535.9 L336 534.6 L336.5 532.1 L337 533.5 L337 532 L337.5 529.6 L338 517.6 L338 520 L338.5 520.2 L339 517 L339.5 514.3 L340 514 L340 515 L340.5 514.2 L341 515.6 L341.5 516.2 L342 513.5 L342.5 514.2 L343 514.2 L343 513 L343.5 512.7 L344 511.1 L344.5 512.1 L345 512.7 L345.5 511.5 L346 511.2 L346 512 L346.5 512.4 L347 512.1 L347.5 512.1 L348 510.5 L348.5 507.3 L349 507.5 L349 509 L349.5 509.5 L350 506 L350.5 505.9 L351 504.9 L351 505 L351.5 500.6 L352 500.5 L352 500 L352.5 499 L353 495.6 L353.5 493 L354 491 L354 492 L354.5 491.7 L355 492.7 L355.5 494.4 L356 494.9 L356 494 L356.5 493.5 L357 496.6 L357.5 497.8 L358 497.5 L358 497 L358.5 498.2 L359 499.2 L359.5 499.2 L360 501.3 L360 500 L360.5 497.4 L361 497 L361.5 494.9 L362 489.5 L362 490 L362.5 487.3 L363 489.7 L363.5 490.1 L364 487.7 L364 486 L364.5 486.4 L365 485.1 L365.5 491.8 L366 493.5 L366 492 L366.5 492.2 L367 491.1 L367.5 493.4 L368 491.3 L368.5 489.1 L369 493 L369 494 L369.5 491.3 L370 491 L370.5 489.8 L371 488.6 L371 488 L371.5 487.2 L372 484.3 L372.5 485 L373 481.1 L373.5 480.7 L374 479.9 L374 480 L374.5 477.8 L375 475.7 L375.5 473.2 L376 471.8 L376 472 L376.5 466.1 L377 466.9 L377 466 L377.5 465.7 L378 464 L378.5 462.8 L378.5 461 L379 464.5 L379.5 468.1 L380 466.5 L380 468 L380.5 471.4 L381 468.1 L381.5 469.7 L382 470.9 L382 472 L382.5 473.8 L383 473.5 L383.5 472.6 L384 470.9 L384 470 L384.5 470.3 L385 470.1 L385.5 471 L386 472.6 L386.5 475.3 L387 475.5 L387 473 L387.5 475.5 L388 473.1 L388.5 473.6 L389 473.4 L389.5 475.6 L390 475.2 L390 474 L390.5 476.3 L391 478.8 L391.5 474.3 L392 474.4 L392.5 474.4 L393 472.3 L393 474 L393.5 476.5 L394 477.8 L394.5 476.7 L395 477.2 L395 478 L395.5 480.4 L396 482.2 L396.5 481.5 L397 483.2 L397 485 L397.5 487.6 L398 486.2 L398.5 489.8 L399 494.2 L399 492 L399.5 491.4 L400 494.8 L400 495 L400.5 498.2 L401 504.9 L401 505 L401.5 506.5 L402 510.1 L402 510 L402.5 508.8 L403 510.3 L403.5 507 L404 508.9 L404 508 L404.5 511.4 L405 509.2 L405.5 511.8 L406 513.1 L406 512 L406.5 514.2 L407 512.2 L407.5 514.2 L408 514.8 L408 515 L408.5 514.8 L409 514.2 L409.5 511 L410 511.5 L410 514 L410.5 515.4 L411 515.7 L411.5 515.4 L412 515.2 L412 517 L412.5 513.2 L413 513.4 L413.5 508.7 L414 506.7 L414 508 L414.5 507.9 L415 509.5 L415.5 509.7 L416 512 L416 510 L416.5 507.3 L417 508.2 L417.5 510 L418 507.9 L418 507 L418.5 508.3 L419 507.3 L419 506 L419.5 512.6 L420 518.1 L420 516 L420.5 520.3 L421 519.5 L421 520 L421.5 521.2 L422 523.3 L422.5 523.3 L423 524.5 L423 525 L423.5 528.1 L424 529.7 L424 528 L424.5 532.7 L425 530.4 L425 530 L425.5 510.6 L425.5 510 L426 505.5 L426 505 L426.5 488.7 L427 471.1 L427 470 L427.5 476.6 L428 482.9 L428 483 L428.5 486.9 L429 492.1 L429 490 L429.5 492.3 L430 497.4 L430 495 L430.5 495.8 L431 494.8 L431.5 496.5 L432 495.8 L432 495 L432.5 496.7 L433 497.9 L433.5 496.7 L434 498.1 L434 500 L434.5 499.3 L435 501.7 L435.5 502.8 L436 503.2 L436 505 L436.5 506.4 L437 506 L437 508 L437.5 509.8 L438 509.3 L438 510 L438.5 509.1 L439 505.9 L439 505 L439.5 502.7 L440 497.7 L440 500 L440.5 494.1 L441 491.9 L441 490 L441.5 484.9 L442 482.6 L442 485 L442.5 487.2 L443 488.9 L443 487 L443.5 486.2 L444 486.4 L444 488 L444.5 489.2 L445 488.7 L445.5 488.5 L446 489.8 L446 490 L446.5 487.8 L447 486 L447 485 L447.5 480.9 L448 479.1 L448 478 L448.5 476.8 L449 473 L449 473 L449.5 470.9 L450 467.9 L450 468 L450.5 463.2 L451 458.9 L451 462 L451.5 455.6 L452 454 L452 455 L452.5 452.2 L453 452.5 L453 452 L453.5 447.2 L454 448.1 L454 450 L454.5 446.8 L455 446.1 L455 447 L455.5 470.1 L455.5 470 L456 490.5 L456 490 L456.5 489.4 L457 493 L457 493 L457.5 492.4 L458 488.1 L458 490 L458.5 489.9 L459 489.3 L459.5 490.4 L460 488.4 L460 487 L460.5 488.4 L461 490.1 L461 490 L461.5 486.6 L462 480 L462 482 L462.5 479.5 L463 477.9 L463 477 L463.5 477.1 L464 474.4 L464 475 L464.5 474.9 L465 472.9 L465 473 L465.5 477.7 L466 483.2 L466 482 L466.5 487 L467 496.1 L467 496 L467.5 505.3 L467.5 505 L468 496.6 L468 495 L468.5 495.9 L469 494.9 L469 492 L469.5 492.2 L470 488.9 L470 490 L470.5 490.7 L471 486.3 L471 487 L471.5 490.4 L472 491.8 L472 490 L472.5 493.3 L473 495.7 L473 495 L473.5 499.3 L474 502.6 L474 500 L474.5 504.5 L475 509.2 L475 510 L475.5 516.5 L476 523.8 L476 522 L476.5 526.5 L477 529 L477 528 L477.5 527.9 L478 530.4 L478 530 L478.5 530.7 L479 532.2 L479 532 L479.5 532.6 L480 531.5 L480 532 L480.5 530.8 L481 529.5 L481 530 L481.5 526.5 L482 526.7 L482 528 L482.5 526.9 L483 522.9 L483 520 L483.5 519.3 L484 515.7 L484 517 L484.5 520.2 L485 523.1 L485 525 L485.5 534.4 L486 542.7 L486 540 L486.5 545.9 L487 547.5 L487 549 L487.5 541.6 L488 536.6 L488 535 L488.5 534.4 L489 529.6 L489 530 L489.5 528.8 L490 525 L490 527 L490.5 523.6 L491 517.2 L491 520 L491.5 510.9 L492 506 L492 510 L492.5 502.9 L493 505.8 L493 505 L493.5 498.1 L494 491.1 L494 490 L494.5 462.8 L495 437 L495 437 L495.5 453.9 L496 469.1 L496 470 L496.5 479.9 L496.5 478 L496.9 508 L497 509.9 L497.4 515.8 L497.5 516.3 L497.9 512 L498 510.4 L498.3 507.4 L498.5 511.4 L498.8 516 L499 507.3 L499.2 499 L499.5 514.2 L499.6 520 L500 497.8 L500.1 490.6 L500.5 493.2 L500.6 496 L501 480.9 L501 482.2 L501.4 500 L501.5 502.9 L501.9 520 L502 516.6 L502.4 504 L502.5 508.2 L502.8 511.6 L503 509.1 L503.2 508 L503.5 502.7 L503.7 503.2 L504 509.7 L504.1 512 L504.5 498.4 L504.6 494.8 L505 512.9 L505.1 516 L505.5 487 L505.5 486.4 L505.9 520 L506 514.9 L506.4 478 L506.5 482 L506.9 496 L507 502.3 L507.3 515.8 L507.5 509.2 L507.8 500 L508 502.9 L508.2 507.4 L508.5 507.2 L508.6 504 L509 496.4 L509.1 499 L509.5 509.1 L509.6 508 L510 466.7 L510 465 L510.5 458.8 L511 456.2 L511 455 L511.5 452.8 L512 452.7 L512 452 L512.5 457.5 L512.5 458" fill="none" stroke="#FFC000" stroke-width="1.5" stroke-linejoin="round" opacity="1"/>
<rect x="131.5" y="405.2" width="453.9" height="302.9" fill="none" stroke="#1a1a1a" stroke-width="1.2"/>
<text x="116.5" y="410.1" font-size="13.5" text-anchor="end" fill="#4a4a4a">200,000,000</text>
<text x="116.5" y="460.5" font-size="13.5" text-anchor="end" fill="#4a4a4a">160,000,000</text>
<text x="116.5" y="511" font-size="13.5" text-anchor="end" fill="#4a4a4a">120,000,000</text>
<text x="116.5" y="561.5" font-size="13.5" text-anchor="end" fill="#4a4a4a">80,000,000</text>
<text x="116.5" y="611.9" font-size="13.5" text-anchor="end" fill="#4a4a4a">40,000,000</text>
<text x="116.5" y="662.4" font-size="13.5" text-anchor="end" fill="#4a4a4a">0</text>
<text x="116.5" y="712.9" font-size="13.5" text-anchor="end" fill="#4a4a4a">-40,000,000</text>
<text x="131.5" y="730.5" font-size="13.5" text-anchor="middle" fill="#4a4a4a">Aug-13</text>
<text x="207.1" y="730.5" font-size="13.5" text-anchor="middle" fill="#4a4a4a">Dec-14</text>
<text x="282.8" y="730.5" font-size="13.5" text-anchor="middle" fill="#4a4a4a">May-16</text>
<text x="358.4" y="730.5" font-size="13.5" text-anchor="middle" fill="#4a4a4a">Sep-17</text>
<text x="434.1" y="730.5" font-size="13.5" text-anchor="middle" fill="#4a4a4a">Feb-19</text>
<text x="509.8" y="730.5" font-size="13.5" text-anchor="middle" fill="#4a4a4a">Jun-20</text>
<text x="585.4" y="730.5" font-size="13.5" text-anchor="middle" fill="#4a4a4a">Oct-21</text>
<text transform="translate(37.7 555.4) rotate(-90)" x="0" y="0" font-size="15.5" text-anchor="middle" fill="#4a4a4a" textLength="176.5" lengthAdjust="spacingAndGlyphs">Cumulative Arbitrage P&amp;L</text>
<line x1="161.2" y1="426.4" x2="193.8" y2="426.4" stroke="#70AD47" stroke-width="1.3"/>
<text x="196.7" y="431.1" font-size="13.5" text-anchor="start" fill="#4a4a4a">6M</text>
<line x1="232" y1="426.4" x2="263.3" y2="426.4" stroke="#B4B4B4" stroke-width="1.3"/>
<text x="267.4" y="431.1" font-size="13.5" text-anchor="start" fill="#4a4a4a">1Y</text>
<line x1="296.7" y1="426.4" x2="328" y2="426.4" stroke="#9A9A9A" stroke-width="1.3"/>
<text x="332" y="431.1" font-size="13.5" text-anchor="start" fill="#4a4a4a">1.5Y</text>
<line x1="372.3" y1="426.4" x2="403.5" y2="426.4" stroke="#8FAADC" stroke-width="1.3"/>
<text x="407.7" y="431.1" font-size="13.5" text-anchor="start" fill="#4a4a4a">2Y</text>
<line x1="437.9" y1="426.4" x2="469.2" y2="426.4" stroke="#FFC000" stroke-width="1.3"/>
<text x="473.3" y="431.1" font-size="13.5" text-anchor="start" fill="#4a4a4a">Hold</text>
<text x="335.7" y="783.1" font-family='"Liberation Serif", serif' font-size="29" text-anchor="middle" fill="#000">(<tspan font-weight="bold">c</tspan>)</text>
<path d="M840.6 662 L841 663 L841.2 660.8 L841.8 661.1 L842.4 662.3 L843 660 L843 660.5 L843.6 658.7 L844.2 655.7 L844.8 653.9 L845 654 L845.4 652.9 L846 652.4 L846.6 652.3 L847.2 650.6 L847.8 650.6 L848.4 650.1 L849 648.2 L849.6 648.1 L850 647 L850.2 647.8 L850.8 647.8 L851.4 646.9 L852 646.3 L852.6 646.3 L853.2 646 L853.8 646 L854.4 645.3 L855 645 L855 644.8 L855.6 645.2 L856.2 645 L856.8 644.4 L857.4 644.3 L858 644.4 L858.6 644.5 L859.2 644.7 L859.8 645.3 L860 644 L860.4 644.1 L861 643.6 L861.6 643.5 L862.2 642.8 L862.8 642.4 L863.4 642.1 L864 642.6 L864.6 642.6 L865 642 L865.2 641.5 L865.8 642.5 L866.4 641.7 L867 641.8 L867.6 641.4 L868.2 641.5 L868.8 641.9 L869.4 641.5 L870 641 L870 641.7 L870.6 640.8 L871.2 640.6 L871.8 640.7 L872.4 640.8 L873 641.2 L873.6 640.2 L874.2 639.7 L874.8 639.6 L875 640 L875.4 639.6 L876 639.7 L876.6 640 L877.2 639.7 L877.8 640.5 L878.4 640.4 L879 639.9 L879.6 639.5 L880 640 L880.2 639.7 L880.8 640.2 L881.4 639.3 L882 639.4 L882.6 639.5 L883.2 639.6 L883.8 639.2 L884.4 638.6 L885 639 L885 638.2 L885.6 639.3 L886.2 638.7 L886.8 638.1 L887.4 638.3 L888 638.1 L888.6 638.1 L889.2 638.3 L889.8 638 L890 638 L890.4 639 L891 637.8 L891.6 638.2 L892.2 638.3 L892.8 638.1 L893.4 637.9 L894 638.2 L894.6 637.6 L895 638 L895.2 638.2 L895.8 637.6 L896.4 638.2 L897 638 L897.6 638.2 L898.2 638.3 L898.8 638.5 L899.4 638.7 L900 639 L900 639.6 L900.6 638.7 L901.2 639 L901.8 639.2 L902.4 639.2 L903 639.1 L903.6 639.3 L904.2 639.1 L904.8 639.5 L905.4 638.5 L906 640 L906.6 639.6 L907.2 639.2 L907.8 639.9 L908.4 640.1 L909 640.3 L909.6 639.7 L910 640 L910.2 639.9 L910.8 640.4 L911.4 640.1 L912 640 L912.6 639.2 L913.2 640.2 L913.8 639.5 L914.4 640.4 L915 639.9 L915.6 640.5 L916.2 640.6 L916.8 640.9 L917.4 641.3 L918 641.6 L918.6 640.9 L919.2 640.5 L919.8 641.5 L920 641 L920.4 641.7 L921 641.3 L921.6 641.3 L922.2 641.6 L922.8 641.1 L923.4 641.5 L924 641.9 L924.6 642.4 L925.2 641.5 L925.8 641.8 L926.4 640.9 L927 640.9 L927.6 641.1 L928.2 641.5 L928.8 642.2 L929.4 641.9 L930 642 L930 641.8 L930.6 642.2 L931.2 642.4 L931.8 642.3 L932.4 642.1 L933 641.5 L933.6 642 L934.2 641.9 L934.8 642.4 L935.4 642.6 L936 642.5 L936.6 643.2 L937.2 642.5 L937.8 642.1 L938.4 641.4 L939 642.1 L939.6 642 L940 642 L940.2 641.8 L940.8 641.3 L941.4 642.1 L942 642.3 L942.6 641.4 L943.2 640.4 L943.8 640.7 L944.4 641 L945 641.2 L945.6 641.1 L946.2 640.7 L946.8 639.8 L947.4 639.6 L948 639.7 L948.6 639.6 L949.2 639.7 L949.8 640.7 L950.4 639.3 L951 639.4 L951.6 639.6 L952.2 638.7 L952.8 638.9 L953.4 638.5 L954 638 L954.6 637.9 L955.2 637.3 L955.8 637.8 L956 638 L956.4 638.1 L957 638 L957.6 638.1 L958.2 638.5 L958.8 639.1 L959.4 639.4 L960 638.8 L960.6 639 L961.2 638.6 L961.8 638.5 L962.4 639.4 L963 638.9 L963.6 639 L964.2 639.2 L964.8 639.4 L965.4 639.5 L966 638.7 L966.6 638.8 L967.2 639.5 L967.8 639.2 L968.4 639.3 L969 638.9 L969.6 639 L970.2 639.9 L970.8 638.8 L971.4 639.2 L972 639.3 L972.6 640 L973.2 639.4 L973.8 639.5 L974.4 639.1 L975 640 L975 640.3 L975.6 640.4 L976.2 640.8 L976.8 640.8 L977.4 640.9 L978 642 L978.6 640.6 L979.2 641.6 L979.8 642.5 L980.4 642.6 L981 642.1 L981.6 642.7 L982.2 643.2 L982.8 643.5 L983.4 642.9 L984 643.2 L984.6 642.3 L985.2 642.1 L985.8 643.7 L986.4 643.9 L987 643.5 L987.6 644 L988.2 644 L988.8 645.1 L989.4 644.5 L990 645 L990 645.1 L990.6 645 L991.2 646.3 L991.8 646.4 L992.4 646.3 L993 646.8 L993.6 646.9 L994.2 646.8 L994.8 647.3 L995.4 647.3 L996 648.3 L996.6 649.4 L997.2 648 L997.8 649.3 L998.4 649.2 L999 649 L999.6 649.5 L1000 650 L1000.2 650.2 L1000.8 650.2 L1001.4 650.1 L1002 650.5 L1002.6 650.2 L1003.2 650.4 L1003.8 651.5 L1004.4 651.6 L1005 650.6 L1005.6 651.3 L1006.2 651.3 L1006.8 650.8 L1007.4 651.3 L1008 651.6 L1008.6 651.5 L1009.2 652.6 L1009.8 652.1 L1010 652 L1010.4 651.5 L1011 651.3 L1011.6 651.2 L1012.2 651.3 L1012.8 651.2 L1013.4 651.6 L1014 651.6 L1014.6 650.8 L1015.2 650.5 L1015.8 651.1 L1016.4 650.4 L1017 650.8 L1017.6 650.2 L1018.2 649.7 L1018.8 649.8 L1019.4 649.8 L1020 650 L1020 649.4 L1020.6 650.1 L1021.2 649.2 L1021.8 649 L1022.4 649.1 L1023 649.6 L1023.6 649.4 L1024.2 649.3 L1024.8 648.5 L1025 649 L1025.4 649.3 L1026 648.5 L1026.6 647.3 L1027.2 647.7 L1027.8 647 L1028.4 647.1 L1029 647.2 L1029.6 647.5 L1030 647 L1030.2 646.7 L1030.8 646.6 L1031.4 646.2 L1032 645.6 L1032.6 645.4 L1033.2 646 L1033.8 646.5 L1034.4 645.8 L1035 646 L1035 645.2 L1035.6 646.5 L1036.2 646.3 L1036.8 645.6 L1037.4 645 L1038 645.2 L1038.6 645.4 L1039.2 645.2 L1039.8 646 L1040 645 L1040.4 645.1 L1041 645.7 L1041.6 644.9 L1042.2 645.4 L1042.8 644.9 L1043.4 644.7 L1044 644 L1044.6 644 L1045.2 644.3 L1045.8 644.4 L1046.4 643.7 L1047 644.1 L1047.6 644.6 L1048.2 644.3 L1048.8 644.5 L1049.4 644.5 L1050 644 L1050 645 L1050.6 644.5 L1051.2 644.2 L1051.8 642.9 L1052.4 643.4 L1053 643.8 L1053.6 644.1 L1054.2 643 L1054.8 642.8 L1055.4 642.8 L1056 642.9 L1056.6 642.6 L1057.2 642.9 L1057.8 642.7 L1058.4 642.2 L1059 642.4 L1059.6 643 L1060 642 L1060.2 642.5 L1060.8 641.4 L1061.4 639.9 L1062 639.9 L1062.6 639 L1063.2 638.2 L1063.8 637.6 L1064.4 637.3 L1065 637 L1065 636.8 L1065.6 636.9 L1066.2 637.1 L1066.8 637.8 L1067.4 637.5 L1068 639.4 L1068.6 639.4 L1069.2 638.8 L1069.8 638.2 L1070 639 L1070.4 639.4 L1071 639.6 L1071.6 639.1 L1072.2 640.2 L1072.8 639.6 L1073.4 639.7 L1074 639.4 L1074.6 639.4 L1075 640 L1075.2 639.5 L1075.8 639.9 L1076.4 639 L1077 640.4 L1077.6 640.3 L1078.2 641 L1078.8 641.7 L1079.4 641.7 L1080 642 L1080 641.9 L1080.6 642.5 L1081.2 642.4 L1081.8 642.2 L1082.4 642.1 L1083 642.9 L1083.6 643.1 L1084.2 643.7 L1084.8 643.7 L1085 644 L1085.4 643.6 L1086 643.9 L1086.6 643.5 L1087.2 642.6 L1087.8 642.3 L1088.4 642 L1089 642.1 L1089.6 642.8 L1090 642 L1090.2 642.1 L1090.8 641.4 L1091.4 641 L1092 640.8 L1092.6 640.6 L1093 640 L1093.2 639.2 L1093.8 637.7 L1094 637 L1094.4 636.9 L1095 638.3 L1095.6 639.2 L1096 640 L1096.2 641.4 L1096.8 644.4 L1097 646 L1097.4 646.6 L1098 645.4 L1098.6 644.8 L1099.2 644.9 L1099.8 645.3 L1100 645 L1100.4 644.9 L1101 645.1 L1101.6 645.7 L1102.2 645.7 L1102.8 646 L1103.4 646.1 L1104 646.2 L1104.6 646.3 L1105 646 L1105.2 646.1 L1105.8 647 L1106.4 646.7 L1107 646.6 L1107.6 646.4 L1108.2 645.9 L1108.8 645.1 L1109.4 645.7 L1110 645.3 L1110 646" fill="none" stroke="#70AD47" stroke-width="1.0" stroke-linejoin="round" opacity="1"/>
<path d="M840.6 662 L841 663 L841.2 660.8 L841.8 661.1 L842.4 662.3 L843 660 L843 659.6 L843.6 657 L844.2 655.9 L844.8 654.2 L845 653 L845.4 652.1 L846 651.4 L846.6 650.7 L847.2 649.6 L847.8 648.4 L848.4 647.3 L849 646.9 L849.6 645.4 L850 645 L850.2 644.8 L850.8 644.4 L851.4 644.9 L852 643.3 L852.6 643.4 L853.2 642.8 L853.8 642.8 L854.4 642.6 L855 642.9 L855.6 642.4 L856.2 641.8 L856.8 641.5 L857.4 640.7 L858 640.6 L858.6 640.6 L859.2 640.3 L859.8 639.6 L860 640 L860.4 639.6 L861 639.3 L861.6 639.5 L862.2 639.2 L862.8 639 L863.4 639.2 L864 639.2 L864.6 638.3 L865.2 639.1 L865.8 638.4 L866.4 638.6 L867 638 L867.6 636.5 L868.2 637.4 L868.8 637.5 L869.4 636.9 L870 637 L870 636.7 L870.6 636.2 L871.2 636.3 L871.8 635.8 L872.4 636.8 L873 637 L873.6 636.6 L874.2 636.9 L874.8 636.5 L875.4 637.8 L876 637.3 L876.6 636.6 L877.2 637.7 L877.8 636.5 L878.4 635.6 L879 635.6 L879.6 634.6 L880 636 L880.2 635.3 L880.8 636.2 L881.4 635.4 L882 635.6 L882.6 635.6 L883.2 634.9 L883.8 635.9 L884.4 635.8 L885 636.3 L885.6 636.1 L886.2 635 L886.8 635.3 L887.4 635.8 L888 635.8 L888.6 636.6 L889.2 636.1 L889.8 636.3 L890 636 L890.4 635.5 L891 635.4 L891.6 636.9 L892.2 635 L892.8 635.7 L893.4 635.7 L894 635.3 L894.6 635.6 L895.2 635.6 L895.8 635.4 L896.4 635.8 L897 636.6 L897.6 635.3 L898.2 635.8 L898.8 635.7 L899.4 636.9 L900 636 L900 636.6 L900.6 635.8 L901.2 636.4 L901.8 637.4 L902.4 637.9 L903 637.2 L903.6 638.2 L904.2 637.3 L904.8 637.5 L905.4 638.5 L906 638.4 L906.6 639.1 L907.2 639.6 L907.8 639.3 L908.4 639 L909 639.2 L909.6 639.8 L910 640 L910.2 640 L910.8 639.3 L911.4 640.8 L912 640.3 L912.6 639.3 L913.2 639.6 L913.8 640.6 L914.4 640.9 L915 640.6 L915.6 639.3 L916.2 640 L916.8 640.3 L917.4 640.6 L918 639.8 L918.6 639.3 L919.2 639.5 L919.8 640.5 L920 640 L920.4 640.4 L921 639.8 L921.6 641 L922.2 640.5 L922.8 641.3 L923.4 640.8 L924 640.5 L924.6 640.6 L925.2 640.2 L925.8 641 L926.4 640.3 L927 640.8 L927.6 642 L928.2 640.6 L928.8 640.9 L929.4 641.4 L930 641.3 L930.6 640.5 L931.2 641.3 L931.8 641.1 L932.4 641.5 L933 641.8 L933.6 641.7 L934.2 641.9 L934.8 642.1 L935.4 642.2 L936 642.1 L936.6 642 L937.2 641.7 L937.8 641.8 L938.4 641.5 L939 641.8 L939.6 641.5 L940 642 L940.2 641.4 L940.8 640.3 L941.4 642 L942 641.6 L942.6 641 L943.2 641.3 L943.8 640.3 L944.4 641.3 L945 640.6 L945.6 640.4 L946.2 639.9 L946.8 639.9 L947.4 639.3 L948 639.9 L948.6 640 L949.2 639.8 L949.8 639.4 L950.4 639.1 L951 638.7 L951.6 637.5 L952.2 638 L952.8 638.4 L953.4 637.5 L954 637.6 L954.6 637 L955.2 635.9 L955.8 636.9 L956 637 L956.4 636 L957 636.5 L957.6 637.1 L958.2 636.8 L958.8 637.3 L959.4 637.4 L960 637.9 L960.6 637.2 L961.2 637.1 L961.8 637.7 L962.4 636.8 L963 637.6 L963.6 638.1 L964.2 637.1 L964.8 637.7 L965.4 639.1 L966 638.3 L966.6 637.4 L967.2 638.1 L967.8 637.6 L968.4 638.5 L969 638 L969.6 638.5 L970.2 638.4 L970.8 638.9 L971.4 639.3 L972 637.9 L972.6 638.1 L973.2 639.2 L973.8 639.6 L974.4 638.9 L975 639 L975 638.3 L975.6 639.9 L976.2 639.3 L976.8 640.7 L977.4 640.7 L978 640.5 L978.6 640.2 L979.2 641.1 L979.8 641.4 L980.4 640.9 L981 641.6 L981.6 642 L982.2 642.1 L982.8 642.8 L983.4 644.1 L984 644 L984.6 643.9 L985.2 643.8 L985.8 643.9 L986.4 645 L987 645 L987.6 645 L988.2 645.7 L988.8 645.2 L989.4 645.8 L990 646 L990 645.3 L990.6 646.8 L991.2 647.1 L991.8 647.6 L992.4 647.8 L993 649.1 L993.6 649.8 L994.2 650.9 L994.8 650.4 L995.4 651.6 L996 652.7 L996.6 651.8 L997.2 653.1 L997.8 654 L998.4 654.5 L999 654.8 L999.6 655.8 L1000 656 L1000.2 655.5 L1000.8 656.3 L1001.4 656.5 L1002 656.6 L1002.6 655.6 L1003.2 656.1 L1003.8 656.5 L1004.4 656.8 L1005 656.6 L1005.6 658.1 L1006.2 657.6 L1006.8 657 L1007.4 657.3 L1008 657.4 L1008.6 658.1 L1009.2 657.4 L1009.8 656.7 L1010 658 L1010.4 657.4 L1011 657.6 L1011.6 657.2 L1012.2 657.3 L1012.8 657.3 L1013.4 656.7 L1014 656.8 L1014.6 657.1 L1015 657 L1015.2 656.4 L1015.8 654.8 L1016.4 655.3 L1017 653.8 L1017.6 652.7 L1018 652 L1018.2 651.5 L1018.8 649.8 L1019.4 646.9 L1020 645 L1020 644.6 L1020.6 644.5 L1021.2 643.6 L1021.8 644.6 L1022.4 644.8 L1023 644.1 L1023.6 644.8 L1024.2 644.7 L1024.8 644.8 L1025 645 L1025.4 644.3 L1026 642.7 L1026.6 641.5 L1027.2 640.2 L1027.8 638.8 L1028 638 L1028.4 638.3 L1029 638.8 L1029.6 638.4 L1030.2 638.3 L1030.8 637.6 L1031.4 638.6 L1032 638.2 L1032.6 639.9 L1033.2 639.7 L1033.8 639.8 L1034.4 639.8 L1035 640 L1035 640 L1035.6 640 L1036.2 639 L1036.8 639.1 L1037.4 638.9 L1038 638.8 L1038.6 638.6 L1039.2 638.6 L1039.8 638.4 L1040 638 L1040.4 638.2 L1041 637.2 L1041.6 637.8 L1042.2 637 L1042.8 637.1 L1043.4 636.4 L1044 636.6 L1044.6 636.2 L1045 636 L1045.2 635.1 L1045.8 635.7 L1046.4 634.2 L1047 633.6 L1047.6 633.3 L1048.2 632.6 L1048.8 631.1 L1049.4 631 L1050 630 L1050 630.7 L1050.6 629.5 L1051.2 629.2 L1051.8 628.7 L1052.4 628.2 L1053 628.2 L1053.6 626.8 L1054.2 626.4 L1054.8 627.2 L1055 627 L1055.4 626.4 L1056 627 L1056.6 626.6 L1057.2 625.7 L1057.8 625.9 L1058.4 624.6 L1059 623.6 L1059.6 624.8 L1060.2 624.1 L1060.8 625.2 L1061.4 624.8 L1062 622.7 L1062.6 622.6 L1063.2 622.3 L1063.8 621.5 L1064 622 L1064.4 622.5 L1065 622.2 L1065.6 622.6 L1066.2 622.6 L1066.8 622.8 L1067.4 622.5 L1068 623 L1068.6 623.2 L1069.2 624 L1069.8 623.6 L1070 624 L1070.4 622.9 L1071 624.1 L1071.6 623.9 L1072.2 623.9 L1072.8 624.3 L1073.4 623.7 L1074 624.6 L1074.6 624.7 L1075.2 624.4 L1075.8 624.9 L1076.4 625.1 L1077 625.8 L1077.6 624.9 L1078.2 625 L1078.8 624.6 L1079.4 625.5 L1080 626 L1080 625.5 L1080.6 625.8 L1081.2 625.6 L1081.8 625.7 L1082.4 626.6 L1083 626.6 L1083.6 626 L1084.2 625.6 L1084.8 625.8 L1085.4 625.5 L1086 625.8 L1086.6 624.6 L1087.2 625.7 L1087.8 626.2 L1088 626 L1088.4 625.4 L1089 621.7 L1089.6 620.9 L1090.2 619.4 L1090.8 619.3 L1091.4 617.1 L1092 613.9 L1092 615 L1092.6 614 L1093.2 612.6 L1093.8 611.6 L1094 612 L1094.4 616.5 L1095 624.8 L1095 625 L1095.6 632.8 L1096 638 L1096.2 637 L1096.8 636.8 L1097.4 638.6 L1098 639.7 L1098.6 640.2 L1099.2 640 L1099.8 640.3 L1100 640 L1100.4 639.9 L1101 639.9 L1101.6 639.4 L1102.2 639.5 L1102.8 640 L1103.4 640.7 L1104 639.7 L1104.6 640.1 L1105 640 L1105.2 639.9 L1105.8 640.3 L1106.4 639.4 L1107 639 L1107.6 638.9 L1108.2 638.2 L1108.8 638.9 L1109.4 637.1 L1110 637.1 L1110 638" fill="none" stroke="#70AD47" stroke-width="1.0" stroke-linejoin="round" opacity="1"/>
<path d="M840.6 662 L841 663 L841.2 660.8 L841.8 661.1 L842.4 662.3 L843 660 L843 659 L843.6 657.6 L844.2 654.6 L844.8 652.7 L845 652 L845.4 650.8 L846 650.3 L846.6 648 L847.2 648.7 L847.8 647.2 L848 646.5 L848.4 645.9 L849 645.5 L849.6 644.9 L850.2 644.2 L850.8 643.6 L851.4 641.3 L852 641.5 L852 640.8 L852.6 640.6 L853.2 640.7 L853.8 640.9 L854.4 641 L855 640.5 L855.6 639.2 L856 639.5 L856.2 638.4 L856.8 639 L857.4 637.8 L858 637.7 L858.6 638 L859.2 637.8 L859.8 637.7 L860 638.5 L860.4 638.1 L861 637.8 L861.6 638.2 L862.2 637.8 L862.8 636.9 L863.4 637.4 L864 637.8 L864.6 637.3 L865 636.5 L865.2 636.2 L865.8 635.6 L866.4 635.9 L867 635.1 L867.6 634 L868.2 635.8 L868.8 634.6 L869.4 634.4 L870 633.5 L870 634.2 L870.6 633.4 L871.2 632.2 L871.8 631.6 L872.4 630.7 L873 630.5 L873.6 628.6 L874.2 628.8 L874.8 629.3 L875 629.5 L875.4 629.3 L876 630.6 L876.6 629.8 L877.2 630.4 L877.8 629.5 L878.4 630.8 L879 630.7 L879.6 630.5 L880 631.5 L880.2 631.7 L880.8 630.2 L881.4 630.5 L882 629.7 L882.6 630.5 L883.2 629.9 L883.8 630.3 L884.4 629.4 L885 629.5 L885 628.9 L885.6 629.1 L886.2 630.3 L886.8 629.9 L887.4 630.7 L888 630.2 L888.6 631.3 L889.2 631.7 L889.8 632 L890 631.5 L890.4 631.2 L891 630.6 L891.6 630.8 L892.2 630.1 L892.8 629.6 L893.4 630.1 L894 629.5 L894.6 630.2 L895 629.5 L895.2 631 L895.8 630 L896.4 631.9 L897 632.8 L897.6 632.4 L898.2 632.8 L898.8 634 L899.4 635.2 L900 635.5 L900 635.3 L900.6 635.9 L901.2 637.1 L901.8 636 L902.4 637 L903 637.3 L903.6 638.5 L904.2 639.6 L904.8 638.4 L905 638.5 L905.4 638.5 L906 638.9 L906.6 638.6 L907.2 639.4 L907.8 638.8 L908.4 640.2 L909 641.3 L909.6 640.6 L910 641.5 L910.2 639.9 L910.8 639.9 L911.4 640.4 L912 640.4 L912.6 640.4 L913.2 640.8 L913.8 639.7 L914.4 639.7 L915 639.5 L915 639.7 L915.6 638.8 L916.2 640.1 L916.8 640.8 L917.4 639.7 L918 641.3 L918.6 640.9 L919.2 641.1 L919.8 641.8 L920 641.5 L920.4 641.1 L921 641.3 L921.6 642 L922.2 643.4 L922.8 642.9 L923.4 642.6 L924 642.7 L924.6 643.2 L925.2 642.7 L925.8 642.3 L926.4 642.9 L927 643.9 L927.6 643.9 L928.2 643 L928.8 643.9 L929.4 643.1 L930 643.5 L930 642.9 L930.6 643.4 L931.2 643.5 L931.8 644.1 L932.4 644.4 L933 643.3 L933.6 643.5 L934.2 642.2 L934.8 643.4 L935.4 643 L936 643.4 L936.6 643.6 L937.2 643.3 L937.8 643.1 L938.4 643.6 L939 642.4 L939.6 643.8 L940 643.5 L940.2 644.5 L940.8 643.4 L941.4 644 L942 643.5 L942.6 643.1 L943.2 643.1 L943.8 643.4 L944.4 643.7 L945 641.9 L945.6 642.2 L946.2 642.5 L946.8 642.7 L947 642.5 L947.4 642.3 L948 641.6 L948.6 641.8 L949.2 643 L949.8 642.7 L950.4 643 L951 643.4 L951.6 643.5 L952 644.5 L952.2 643.7 L952.8 642.7 L953.4 640.6 L954 641 L954.6 640 L955.2 638.3 L955.8 636.7 L956 637.5 L956.4 636.7 L957 637.1 L957.6 637.7 L958.2 638.7 L958.8 638.6 L959.4 638.4 L960 638.6 L960.6 637.7 L961.2 637.9 L961.8 638.1 L962 638.5 L962.4 639.4 L963 639.3 L963.6 639.2 L964.2 639.2 L964.8 638.2 L965.4 638.1 L966 638 L966.6 639 L967.2 638.4 L967.8 638.3 L968 638.5 L968.4 638.1 L969 639.4 L969.6 638.8 L970.2 638.8 L970.8 638.6 L971.4 639.1 L972 639.8 L972.6 640 L973.2 640.3 L973.8 639.4 L974.4 639.9 L975 640.5 L975 641 L975.6 640.9 L976.2 641.2 L976.8 641.2 L977.4 642 L978 641.6 L978.6 642.1 L979.2 642.4 L979.8 641.8 L980 642.5 L980.4 643.5 L981 643.6 L981.6 644.6 L982.2 645.1 L982.8 644.3 L983.4 645.3 L984 645 L984.6 646.9 L985 646.5 L985.2 646.6 L985.8 646.8 L986.4 645.7 L987 646 L987.6 646.4 L988.2 647.2 L988.8 646.7 L989.4 646.3 L990 646.5 L990 646.7 L990.6 646.5 L991.2 646.6 L991.8 647.4 L992.4 648.1 L993 647.5 L993.6 648 L994.2 649.1 L994.8 649.5 L995 649.5 L995.4 649 L996 649.4 L996.6 649.6 L997 649.5 L997.2 650.8 L997.8 650.8 L998.4 653.2 L999 652.6 L999.6 653.9 L1000 656.5 L1000.2 656.9 L1000.8 657.4 L1001.4 658.2 L1002 659.5 L1002 659 L1002.6 658.8 L1003.2 657.4 L1003.8 656.9 L1004.4 654.8 L1005 654.5 L1005 655.5 L1005.6 656.2 L1006.2 656.6 L1006.8 657.1 L1007.4 656.7 L1008 658.5 L1008 659.3 L1008.6 659 L1009.2 658.3 L1009.8 659.2 L1010 658.5 L1010.4 657.6 L1011 657.3 L1011.6 658.6 L1012.2 657.4 L1012.8 657.8 L1013 657.5 L1013.4 658 L1014 657.6 L1014.6 657.8 L1015 657.5 L1015.2 657.2 L1015.8 656.3 L1016.4 655.7 L1017 653.7 L1017.6 653.4 L1018 651.5 L1018.2 649.8 L1018.8 647.9 L1019.4 643.9 L1020 641.5 L1020 641 L1020.6 642.7 L1021.2 642.4 L1021.8 644.5 L1022 644.5 L1022.4 644.4 L1023 645.1 L1023.6 644.8 L1024.2 644.3 L1024.8 644.4 L1025 644.5 L1025.4 642.9 L1026 640.8 L1026.6 639.5 L1027.2 636 L1027.8 632.7 L1028 633.5 L1028.4 633.1 L1029 634.1 L1029.6 636.4 L1030 637.5 L1030.2 637.2 L1030.8 638.3 L1031.4 638.9 L1032 639.5 L1032 639.5 L1032.6 638.7 L1033.2 639.1 L1033.8 639.5 L1034.4 638.9 L1035 637.4 L1035.6 637 L1036 638.5 L1036.2 638.2 L1036.8 637.6 L1037.4 639 L1038 639.1 L1038.6 637.8 L1039.2 637.4 L1039.8 637.8 L1040 637.5 L1040.4 638 L1041 637.9 L1041.6 636.9 L1042.2 635.8 L1042.8 636.4 L1043 635.5 L1043.4 636.6 L1044 635.7 L1044.6 634.3 L1045 634.5 L1045.2 635.1 L1045.8 633.6 L1046.4 632.3 L1047 631.9 L1047.6 630.9 L1048 629.5 L1048.2 630.5 L1048.8 628.6 L1049.4 627.4 L1050 626.5 L1050 626.3 L1050.6 625.3 L1051.2 624.8 L1051.8 623.6 L1052.4 622.3 L1053 622.5 L1053 622 L1053.6 622.5 L1054.2 623.2 L1054.8 623.3 L1055 623.5 L1055.4 623.8 L1056 624.1 L1056.6 623.7 L1057.2 624.8 L1057.8 624.6 L1058 624.5 L1058.4 623.2 L1059 623.3 L1059.6 622.2 L1060.2 621.6 L1060.8 622.4 L1061 620.5 L1061.4 620.5 L1062 618.8 L1062.6 618 L1063.2 617.6 L1063.8 617.7 L1064 616.5 L1064.4 617.7 L1065 617.4 L1065.6 618.9 L1066 619.5 L1066.2 620.2 L1066.8 620.8 L1067.4 620.6 L1068 621.5 L1068 621.3 L1068.6 620.8 L1069.2 619.2 L1069.8 618.8 L1070 619.5 L1070.4 620 L1071 618.8 L1071.6 618.9 L1072 619.5 L1072.2 619.9 L1072.8 619.7 L1073.4 620.8 L1074 621 L1074.6 621.5 L1075 622.5 L1075.2 623.8 L1075.8 622.4 L1076.4 622 L1077 623.2 L1077.6 624.6 L1078 623.5 L1078.2 622.7 L1078.8 622 L1079.4 622.1 L1080 621.5 L1080 621.7 L1080.6 622 L1081.2 622 L1081.8 622.6 L1082.4 621.9 L1083 623.5 L1083 623.4 L1083.6 622.8 L1084.2 623.3 L1084.8 623.1 L1085.4 621.9 L1086 621.5 L1086 622 L1086.6 619.7 L1087.2 619.8 L1087.8 620 L1088 619.5 L1088.4 618.6 L1089 616.3 L1089.6 615.3 L1090 614.5 L1090.2 614.5 L1090.8 612.3 L1091.4 610.5 L1092 609.1 L1092 609.5 L1092.6 604.1 L1093 601.5 L1093.2 599.9 L1093.8 596.4 L1094 594.5 L1094.4 599.6 L1095 606.2 L1095 606.5 L1095.6 615.6 L1096 621.5 L1096.2 624.1 L1096.8 630.6 L1097 633.5 L1097.4 630.7 L1098 629 L1098 629.5 L1098.6 631.7 L1099.2 630.9 L1099.8 630.7 L1100 631.5 L1100.4 632.6 L1101 637.5 L1101 637.5 L1101.6 637.9 L1102.2 639.1 L1102.8 641.2 L1103 641.5 L1103.4 641.4 L1104 639.9 L1104.6 637.9 L1105 637.5 L1105.2 636.9 L1105.8 636.3 L1106.4 635.1 L1107 634.1 L1107 633.5 L1107.6 631.3 L1108 629.5 L1108.2 629.6 L1108.8 628.6 L1109.4 628.9 L1110 628.2 L1110 628.5" fill="none" stroke="#C8C8C8" stroke-width="1.0" stroke-linejoin="round" opacity="1"/>
<path d="M840.6 662 L841 663 L841.2 660.8 L841.8 661.1 L842.4 662.3 L843 660 L843 659.1 L843.6 657.6 L844.2 655.3 L844.8 653.3 L845 652 L845.4 652.1 L846 650.5 L846.6 648 L847.2 646.9 L847.8 647.1 L848 645 L848.4 643.9 L849 643.4 L849.6 641.4 L850.2 642.1 L850.8 641.6 L851.4 640.7 L852 640 L852 639.5 L852.6 639.5 L853.2 640.6 L853.8 639.9 L854.4 639 L855 638.1 L855.6 638.1 L856 638 L856.2 639 L856.8 637.8 L857.4 637.8 L858 636.8 L858.6 637.8 L859.2 636.1 L859.8 635.8 L860 637 L860.4 636.1 L861 635.8 L861.6 636.3 L862.2 637.8 L862.8 635.6 L863.4 636.9 L864 636.4 L864.6 635 L865 635 L865.2 635 L865.8 636.2 L866.4 635.7 L867 634.6 L867.6 634.1 L868.2 633 L868.8 633 L869.4 631.6 L870 632 L870 631.2 L870.6 631.6 L871.2 629.9 L871.8 630.9 L872.4 629.3 L873 629.5 L873.6 628.5 L874.2 627.4 L874.8 628.7 L875 628 L875.4 627.8 L876 628.3 L876.6 627.6 L877.2 628.5 L877.8 629.9 L878.4 629.7 L879 629.8 L879.6 631.7 L880 630 L880.2 631.3 L880.8 630.1 L881.4 630 L882 630.2 L882.6 628.6 L883.2 629.2 L883.8 629.1 L884.4 628.7 L885 628 L885 628.5 L885.6 628.4 L886.2 628.8 L886.8 628.1 L887.4 630.2 L888 629.4 L888.6 629.8 L889.2 628.9 L889.8 630.7 L890 630 L890.4 629.3 L891 629.3 L891.6 628.9 L892.2 628.3 L892.8 629.2 L893.4 628.6 L894 628 L894.6 628.3 L895 628 L895.2 628.4 L895.8 629.6 L896.4 628.3 L897 629.8 L897.6 631.2 L898.2 632.4 L898.8 632.6 L899.4 633.5 L900 634 L900 633.8 L900.6 634.1 L901.2 634.6 L901.8 634.5 L902.4 636.7 L903 635.9 L903.6 635.5 L904.2 635.4 L904.8 636.4 L905 637 L905.4 637.5 L906 638.3 L906.6 639.5 L907.2 636.9 L907.8 638.2 L908.4 639.4 L909 640.4 L909.6 640.7 L910 640 L910.2 640.5 L910.8 640.2 L911.4 640.2 L912 638.8 L912.6 638 L913.2 639.3 L913.8 639.2 L914.4 638.3 L915 638 L915 637.4 L915.6 637.4 L916.2 638.3 L916.8 638.5 L917.4 637.6 L918 638.4 L918.6 639.2 L919.2 639.6 L919.8 638.9 L920 640 L920.4 639.8 L921 640.2 L921.6 640.4 L922.2 640.5 L922.8 640.8 L923.4 640.1 L924 640.1 L924.6 641.5 L925.2 641.8 L925.8 642 L926.4 641.1 L927 641.5 L927.6 642 L928.2 640.8 L928.8 641.3 L929.4 639.9 L930 642 L930 642.4 L930.6 643.1 L931.2 642.6 L931.8 642 L932.4 642.3 L933 641.6 L933.6 641 L934.2 641.3 L934.8 642.2 L935.4 642.4 L936 642 L936.6 641.7 L937.2 640.9 L937.8 642.6 L938.4 641.6 L939 641.3 L939.6 641.2 L940 642 L940.2 641.1 L940.8 641.7 L941.4 642.3 L942 641.8 L942.6 642.7 L943.2 642.4 L943.8 642.4 L944.4 641.3 L945 640.8 L945.6 640.8 L946.2 641.8 L946.8 640.7 L947 641 L947.4 640.6 L948 641.1 L948.6 641.5 L949.2 642.7 L949.8 643.2 L950.4 643.9 L951 644 L951.6 642.9 L952 643 L952.2 643.9 L952.8 641.3 L953.4 639.9 L954 639.9 L954.6 637.9 L955.2 636.4 L955.8 635.8 L956 636 L956.4 635.2 L957 635.5 L957.6 635.8 L958.2 637 L958.8 636.2 L959.4 635.9 L960 637.6 L960.6 637.9 L961.2 637 L961.8 636.8 L962 637 L962.4 637.5 L963 636.7 L963.6 636.6 L964.2 637.8 L964.8 637.1 L965.4 637.7 L966 637.7 L966.6 636.7 L967.2 636.5 L967.8 637.7 L968 637 L968.4 637.7 L969 638.4 L969.6 637.8 L970.2 637.2 L970.8 637 L971.4 637.6 L972 638.3 L972.6 637.3 L973.2 637.9 L973.8 637.9 L974.4 639.8 L975 639 L975 640.6 L975.6 639.6 L976.2 638.8 L976.8 638.7 L977.4 639.9 L978 640.7 L978.6 641.3 L979.2 641.7 L979.8 641.7 L980 641 L980.4 642.3 L981 642.6 L981.6 643.4 L982.2 642.9 L982.8 644 L983.4 642.7 L984 643.4 L984.6 644 L985 645 L985.2 644.5 L985.8 644.4 L986.4 645.2 L987 645.4 L987.6 646.2 L988.2 646.4 L988.8 644 L989.4 643.7 L990 645 L990 644 L990.6 645 L991.2 646.7 L991.8 645.1 L992.4 646.8 L993 647.4 L993.6 648.5 L994.2 649.6 L994.8 648 L995 648 L995.4 647 L996 648 L996.6 647.9 L997 648 L997.2 648.5 L997.8 648.8 L998.4 650.2 L999 651.7 L999.6 653 L1000 655 L1000.2 655.8 L1000.8 654.6 L1001.4 656.6 L1002 658 L1002 658.5 L1002.6 657.5 L1003.2 656 L1003.8 654.9 L1004.4 653.7 L1005 653 L1005 652.4 L1005.6 653.4 L1006.2 654.1 L1006.8 655.7 L1007.4 655.4 L1008 657 L1008 656.1 L1008.6 655.9 L1009.2 657.7 L1009.8 657.1 L1010 657 L1010.4 657.2 L1011 657 L1011.6 656.8 L1012.2 655.3 L1012.8 655.9 L1013 656 L1013.4 656.7 L1014 656.1 L1014.6 656.4 L1015 656 L1015.2 655.4 L1015.8 654.3 L1016.4 652.9 L1017 652.8 L1017.6 650.4 L1018 650 L1018.2 647.9 L1018.8 645.5 L1019.4 642.4 L1020 640 L1020 640 L1020.6 641.8 L1021.2 641.8 L1021.8 642.8 L1022 643 L1022.4 642.9 L1023 643.6 L1023.6 643.7 L1024.2 644.3 L1024.8 644.2 L1025 643 L1025.4 641.6 L1026 638.6 L1026.6 636.7 L1027.2 633.8 L1027.8 632 L1028 632 L1028.4 632.3 L1029 633.4 L1029.6 634.7 L1030 636 L1030.2 637 L1030.8 637.1 L1031.4 637.5 L1032 638 L1032 638.2 L1032.6 638 L1033.2 637.5 L1033.8 637.9 L1034.4 637.1 L1035 636.5 L1035.6 637.9 L1036 637 L1036.2 637.1 L1036.8 636.8 L1037.4 637.1 L1038 636.1 L1038.6 635.3 L1039.2 636.3 L1039.8 636.6 L1040 636 L1040.4 634.7 L1041 634.6 L1041.6 633.6 L1042.2 632.8 L1042.8 633.2 L1043 634 L1043.4 634.8 L1044 635.3 L1044.6 633.7 L1045 633 L1045.2 632.5 L1045.8 631.5 L1046.4 629.8 L1047 629.8 L1047.6 628 L1048 628 L1048.2 627.4 L1048.8 625.9 L1049.4 627.3 L1050 625 L1050 626.3 L1050.6 625.3 L1051.2 623.5 L1051.8 623.7 L1052.4 622.2 L1053 621 L1053 621.8 L1053.6 621.2 L1054.2 623.5 L1054.8 622.4 L1055 622 L1055.4 622.3 L1056 622.5 L1056.6 622 L1057.2 622.5 L1057.8 622.6 L1058 623 L1058.4 622.6 L1059 621 L1059.6 620 L1060.2 620.2 L1060.8 618.4 L1061 619 L1061.4 617.9 L1062 616.5 L1062.6 616 L1063.2 614.7 L1063.8 615.7 L1064 615 L1064.4 615.4 L1065 617.2 L1065.6 617.6 L1066 618 L1066.2 619.1 L1066.8 619.2 L1067.4 620.2 L1068 620 L1068 620.4 L1068.6 618.3 L1069.2 618.2 L1069.8 617.2 L1070 618 L1070.4 617.7 L1071 618.3 L1071.6 618.5 L1072 618 L1072.2 617.6 L1072.8 618 L1073.4 619.6 L1074 619.5 L1074.6 620.1 L1075 621 L1075.2 621.6 L1075.8 621.4 L1076.4 620.9 L1077 622.5 L1077.6 621.5 L1078 622 L1078.2 621.4 L1078.8 621 L1079.4 621.1 L1080 620 L1080 622.6 L1080.6 621.2 L1081.2 622.6 L1081.8 621.2 L1082.4 620.9 L1083 622 L1083 622.4 L1083.6 621.6 L1084.2 619.9 L1084.8 620.6 L1085.4 620.7 L1086 620 L1086 618.6 L1086.6 618.5 L1087.2 618.9 L1087.8 617.2 L1088 618 L1088.4 616.9 L1089 616.3 L1089.6 613.8 L1090 613 L1090.2 612.3 L1090.8 610.4 L1091.4 609.3 L1092 607.4 L1092 608 L1092.6 603.4 L1093 600 L1093.2 598.4 L1093.8 594.4 L1094 593 L1094.4 598.2 L1095 605.3 L1095 605 L1095.6 614.6 L1096 620 L1096.2 621.6 L1096.8 629.6 L1097 632 L1097.4 630.1 L1098 628.2 L1098 628 L1098.6 629.2 L1099.2 630.4 L1099.8 630.1 L1100 630 L1100.4 631.6 L1101 635.5 L1101 636 L1101.6 637.3 L1102.2 637.8 L1102.8 639.9 L1103 640 L1103.4 639.2 L1104 639.4 L1104.6 637.8 L1105 636 L1105.2 635.3 L1105.8 635.9 L1106.4 633.5 L1107 632.3 L1107 632 L1107.6 629.8 L1108 628 L1108.2 628.7 L1108.8 626.7 L1109.4 626.6 L1110 626 L1110 627" fill="none" stroke="#7F7F7F" stroke-width="1.1" stroke-linejoin="round" opacity="1"/>
<path d="M768 660.3 L768 659.8 L768.6 658.5 L769.2 658.8 L769.8 658.9 L770.4 657.7 L771 658.6 L771.6 658.5 L772 659 L772.2 657.9 L772.8 658.9 L773.4 658.7 L774 657.5 L774.6 657.6 L775.2 657.2 L775.8 658.7 L776 658 L776.4 657.6 L777 658.2 L777.6 656.8 L778.2 658.3 L778.8 656.5 L779.4 658.7 L780 658 L780 657.9 L780.6 658.1 L781.2 659.6 L781.8 659.4 L782.4 659.5 L783 659.4 L783.6 658 L784.2 657.7 L784.8 659.7 L785 659 L785.4 658.7 L786 658.3 L786.6 659.6 L787.2 660.8 L787.8 660.8 L788.4 659.3 L789 658.6 L789.6 659.6 L790 660 L790.2 660.2 L790.8 660.5 L791.4 661.3 L792 660.2 L792.6 659.9 L793 659 L793.2 658.8 L793.8 658.5 L794.4 659.8 L795 658 L795 657.1 L795.6 658.2 L796.2 659.4 L796.8 659 L797.4 659.6 L798 660 L798 659.3 L798.6 660.1 L799.2 662 L799.8 661.3 L800 661 L800.4 661.8 L801 661.2 L801.6 661.8 L802.2 661.7 L802.8 662 L803 662 L803.4 661.9 L804 661.1 L804.6 661.8 L805 661 L805.2 661.2 L805.8 660.9 L806.4 661.6 L807 659.6 L807.6 660.3 L808 660 L808.2 659.1 L808.8 660 L809.4 659.5 L810 660 L810 659.3 L810.6 660.2 L811.2 657.5 L811.8 659.6 L812.4 657.8 L813 658 L813 657.4 L813.6 657.5 L814.2 657.7 L814.8 656.8 L815 657 L815.4 656.9 L816 656.6 L816.6 657.4 L817.2 657.2 L817.8 656.5 L818 657 L818.4 656.8 L819 656.3 L819.6 657 L820 658 L820.2 658.5 L820.8 658.2 L821.4 658.4 L822 657.5 L822.6 658.1 L823 659 L823.2 658.5 L823.8 660.6 L824.4 660.3 L825 660 L825 660.3 L825.6 660.2 L826.2 661 L826.8 660.2 L827.4 660.5 L828 661 L828 659.5 L828.6 661.3 L829.2 661.6 L829.8 661.4 L830 660 L830.4 659.7 L831 659.2 L831.6 659.6 L832.2 659.7 L832.8 658.7 L833 659 L833.4 660.4 L834 658.1 L834.6 658.4 L835.2 658.8 L835.8 658 L836 659 L836.4 658.5 L837 660.1 L837.6 661 L838 661 L838.2 661.8 L838.8 661.5 L839.4 661.4 L840 660.8 L840.6 662 L841 663 L841.2 660.8 L841.8 661.1 L842.4 662.3 L843 660 L843 660.7 L843.6 659.5 L844.2 657.4 L844.8 653.5 L845 654 L845.4 651.7 L846 650 L846 649.8 L846.6 647.9 L847.2 644.6 L847.8 641.8 L848 643 L848.4 640.9 L849 640 L849 638.6 L849.6 637.6 L850.2 638.2 L850.8 637.5 L851 638 L851.4 638.3 L852 637 L852 636.9 L852.6 635.4 L853.2 633.3 L853.8 631.1 L854 630 L854.4 633 L855 637 L855 635.3 L855.6 636.1 L856.2 634.7 L856.8 635.5 L857 636 L857.4 635.3 L858 636.2 L858.6 637.8 L859.2 637.2 L859.8 636.7 L860 637 L860.4 636.2 L861 635.4 L861.6 635.7 L862 635 L862.2 635 L862.8 633.3 L863.4 633.9 L864 633.2 L864.6 633.9 L865 632 L865.2 631.7 L865.8 631.2 L866.4 631.7 L867 630 L867 630 L867.6 630.4 L868.2 629.1 L868.8 628.4 L869 628 L869.4 627.8 L870 626 L870.6 625.3 L871 625 L871.2 624.6 L871.8 624.8 L872.4 625.1 L873 624 L873 623.2 L873.6 622.6 L874.2 620.9 L874.8 618.8 L875 618 L875.4 622.6 L876 625 L876 626 L876.6 626.2 L877.2 627.2 L877.8 629.5 L878 630 L878.4 630 L879 628.8 L879.6 629.9 L880 629 L880.2 628.4 L880.8 628.6 L881.4 627 L882 628 L882 628.3 L882.6 628.7 L883.2 627.1 L883.8 626.7 L884.4 627 L885 626 L885 626.5 L885.6 624.5 L886.2 625 L886.8 625.2 L887 625 L887.4 625.3 L888 626.4 L888.6 626.8 L889 627 L889.2 628.3 L889.8 627 L890 627 L890.4 627.1 L891 625.4 L891.6 624.4 L892.2 624.9 L892.8 624.6 L893 625 L893.4 624.1 L894 624.3 L894.6 623.2 L895 623 L895.2 622.5 L895.8 625.8 L896 628 L896.4 627.6 L897 628.8 L897.6 631.1 L898 630 L898.2 629.7 L898.8 630 L899.4 632.1 L900 633 L900 632.7 L900.6 633.6 L901.2 633.4 L901.8 635.7 L902 636 L902.4 636.6 L903 636.4 L903.6 636.6 L904.2 637.1 L904.8 637.8 L905 637 L905.4 637.4 L906 637.9 L906.6 639.5 L907.2 637.6 L907.8 638.1 L908 639 L908.4 639.4 L909 639.3 L909.6 640.2 L910 640 L910.2 638.9 L910.8 638.7 L911.4 638.3 L912 638 L912 637.3 L912.6 638.8 L913.2 638.5 L913.8 636.3 L914.4 637.1 L915 636 L915 637.2 L915.6 637.2 L916.2 636.5 L916.8 637.8 L917.4 636.5 L918 638 L918 636.5 L918.6 639.2 L919.2 639.5 L919.8 640.4 L920 640 L920.4 641.3 L921 640.4 L921.6 639.8 L922.2 640.7 L922.8 641.1 L923.4 640.6 L924 640.2 L924.6 639.4 L925 641 L925.2 640.3 L925.8 640.5 L926.4 640.5 L927 641.4 L927.6 642.2 L928.2 641.4 L928.8 642.4 L929.4 641.8 L930 642 L930 641.8 L930.6 642.1 L931.2 642.3 L931.8 642.7 L932.4 642.9 L933 643 L933 642.5 L933.6 642.8 L934.2 643.8 L934.8 643.1 L935 643 L935.4 642.3 L936 642.3 L936.6 642.9 L937.2 641.1 L937.8 641.7 L938 642 L938.4 641.8 L939 643.4 L939.6 643.2 L940 644 L940.2 643.7 L940.8 643.6 L941.4 643 L942 642.7 L942.6 643.7 L943 643 L943.2 642.2 L943.8 642 L944.4 642.1 L945 642.1 L945.6 642.2 L946.2 642.2 L946.8 641.2 L947 642 L947.4 641.6 L948 643.7 L948.6 643.3 L949.2 644.7 L949.8 645.2 L950 644 L950.4 644.1 L951 643.8 L951.6 645.1 L952 645 L952.2 643.5 L952.8 642.5 L953.4 640.2 L954 640 L954 639.5 L954.6 638.7 L955.2 634.8 L955.8 635.9 L956 636 L956.4 637.1 L957 636.5 L957.6 635.2 L958.2 635.7 L958.8 635.9 L959 637 L959.4 637.8 L960 638.2 L960.6 638.1 L961.2 639.3 L961.8 639.4 L962 638 L962.4 637.5 L963 637.4 L963.6 637 L964.2 637.1 L964.8 637.6 L965 637 L965.4 636.5 L966 637.3 L966.6 638.4 L967.2 638.9 L967.8 638.6 L968 637 L968.4 637.4 L969 638.1 L969.6 637.2 L970.2 637.1 L970.8 637.5 L971 638 L971.4 637.6 L972 637.7 L972.6 636.7 L973.2 638.9 L973.8 640 L974.4 639.6 L975 640 L975 639.7 L975.6 639.9 L976.2 641.7 L976.8 641.2 L977.4 641.8 L978 641 L978 641.7 L978.6 641 L979.2 640.9 L979.8 641.8 L980 642 L980.4 641.6 L981 642.4 L981.6 643.9 L982.2 643.6 L982.8 644.8 L983 645 L983.4 645.7 L984 645.6 L984.6 647.6 L985 648 L985.2 648.3 L985.8 647.6 L986.4 645.9 L987 645 L987 644.1 L987.6 645.3 L988.2 644 L988.8 644.3 L989.4 642.6 L990 642 L990 642.8 L990.6 641.5 L991.2 641.3 L991.8 641.2 L992.4 640.9 L993 640 L993 639.6 L993.6 640.6 L994.2 643.9 L994.8 645.8 L995 645 L995.4 646 L996 646.2 L996.6 648.7 L997 650 L997.2 650.6 L997.8 653.6 L998.4 656 L999 660 L999 660.4 L999.6 662.9 L1000 665 L1000.2 666 L1000.8 669.1 L1001.4 672.3 L1002 675 L1002 675.2 L1002.6 669.1 L1003 668 L1003.2 666.4 L1003.8 667.8 L1004.4 666.7 L1005 665 L1005 665.6 L1005.6 667 L1006.2 666.8 L1006.8 666.8 L1007 667 L1007.4 667.6 L1008 666.8 L1008.6 665.9 L1009.2 668.7 L1009.8 669 L1010 668 L1010.4 667.9 L1011 666.8 L1011.6 666.5 L1012 666 L1012.2 666.5 L1012.8 667.2 L1013.4 667.1 L1014 666.8 L1014.6 667.4 L1015 668 L1015.2 667.2 L1015.8 665.1 L1016.4 665.2 L1017 665 L1017 664.8 L1017.6 663.7 L1018.2 662.9 L1018.8 663 L1019.4 659.6 L1020 660 L1020 660.2 L1020.6 655.6 L1021 652 L1021.2 653 L1021.8 653.9 L1022 655 L1022.4 657.7 L1023 662 L1023 662.6 L1023.6 664 L1024.2 663.7 L1024.8 665 L1025 665 L1025.4 660 L1026 655 L1026 655 L1026.6 653.3 L1027.2 652.1 L1027.8 650.2 L1028 650 L1028.4 648.1 L1029 648 L1029.6 645.8 L1030 645 L1030.2 645.6 L1030.8 647.9 L1031.4 648.1 L1032 648 L1032 647.8 L1032.6 648.7 L1033.2 649.6 L1033.8 651 L1034.4 649.6 L1035 652 L1035 652 L1035.6 653.2 L1036.2 652.4 L1036.8 655.2 L1037.4 655.6 L1038 656 L1038 655.9 L1038.6 654 L1039.2 651.9 L1039.8 650.6 L1040 650 L1040.4 650.2 L1041 648 L1041 647.9 L1041.6 648.7 L1042.2 649.7 L1042.8 649.5 L1043 650 L1043.4 648.3 L1044 648.5 L1044.6 649.6 L1045 650 L1045.2 650 L1045.8 648.8 L1046.4 646.3 L1047 647.2 L1047.6 647.7 L1048 647 L1048.2 647.1 L1048.8 649.2 L1049 650 L1049.4 651.2 L1050 658 L1050 657.3 L1050.6 658.4 L1051.2 658.8 L1051.8 659.6 L1052 660 L1052.4 659.9 L1053 661.2 L1053.6 661.6 L1054.2 663.2 L1054.8 662.5 L1055 663 L1055.4 663 L1056 666.4 L1056.6 667.5 L1057 668 L1057.2 669.3 L1057.8 670.5 L1058 672 L1058.4 671.4 L1059 669.7 L1059.6 669 L1060 668 L1060.2 667.4 L1060.8 666 L1061.4 665.6 L1062 665 L1062 664.6 L1062.6 666 L1063.2 665.7 L1063.8 668.5 L1064 668 L1064.4 669 L1065 672 L1065 671.3 L1065.6 670.6 L1066.2 673.4 L1066.8 673.6 L1067.4 673.4 L1068 674 L1068 673.9 L1068.6 673.4 L1069.2 675 L1069.8 674.3 L1070 675 L1070.4 675 L1071 674.9 L1071.6 673.6 L1072 673 L1072.2 673.6 L1072.8 672.6 L1073.4 671.6 L1074 672.6 L1074.6 672.6 L1075 672 L1075.2 672.7 L1075.8 671.3 L1076.4 673.2 L1077 674.5 L1077.6 675.1 L1078 676 L1078.2 677.1 L1078.8 676.4 L1079.4 675.7 L1080 678 L1080 676.4 L1080.6 677.3 L1081.2 677.6 L1081.8 677 L1082.4 678.6 L1083 678 L1083 679.1 L1083.6 678.2 L1084.2 677.1 L1084.8 676.4 L1085 677 L1085.4 676 L1086 676.2 L1086.6 675.9 L1087.2 676 L1087.8 675.6 L1088 676 L1088.4 675.3 L1089 676.5 L1089.6 675.4 L1090 675 L1090.2 674.3 L1090.8 671.4 L1091 670 L1091.4 668 L1092 664.8 L1092 665 L1092.6 658.2 L1093 655 L1093.2 653.1 L1093.8 652 L1094 650 L1094.4 644.2 L1095 635.3 L1095 635 L1095.6 647.9 L1096 655 L1096.2 671.4 L1096.5 695 L1096.8 691.4 L1097 688 L1097.4 684.6 L1098 679.6 L1098 680 L1098.6 683 L1099 688 L1099.2 689.3 L1099.8 690.3 L1100 690 L1100.4 687.7 L1101 682.8 L1101 683 L1101.6 684.5 L1102 685 L1102.2 685.5 L1102.8 694.1 L1103 695 L1103.4 697.3 L1104 699.3 L1104 700 L1104.6 694.6 L1105 692 L1105.2 691.3 L1105.8 689.9 L1106 690 L1106.4 688.5 L1107 689.5 L1107 688 L1107.6 685.9 L1108 685 L1108.2 682.5 L1108.8 680.4 L1109 680 L1109.4 679.3 L1110 678.8 L1110 678" fill="none" stroke="#ED7D31" stroke-width="1.2" stroke-linejoin="round" opacity="1"/>
<rect x="742.5" y="413.6" width="438.3" height="295.4" fill="none" stroke="#1a1a1a" stroke-width="1.2"/>
<text x="727.6" y="418.4" font-size="13.5" text-anchor="end" fill="#4a4a4a">200,000,000</text>
<text x="727.6" y="467.6" font-size="13.5" text-anchor="end" fill="#4a4a4a">160,000,000</text>
<text x="727.6" y="516.9" font-size="13.5" text-anchor="end" fill="#4a4a4a">120,000,000</text>
<text x="727.6" y="566.1" font-size="13.5" text-anchor="end" fill="#4a4a4a">80,000,000</text>
<text x="727.6" y="615.3" font-size="13.5" text-anchor="end" fill="#4a4a4a">40,000,000</text>
<text x="727.6" y="664.6" font-size="13.5" text-anchor="end" fill="#4a4a4a">0</text>
<text x="727.6" y="713.8" font-size="13.5" text-anchor="end" fill="#4a4a4a">-40,000,000</text>
<text x="742.5" y="732" font-size="13.5" text-anchor="middle" fill="#4a4a4a">Aug-13</text>
<text x="815.5" y="732" font-size="13.5" text-anchor="middle" fill="#4a4a4a">Dec-14</text>
<text x="888.6" y="732" font-size="13.5" text-anchor="middle" fill="#4a4a4a">May-16</text>
<text x="961.6" y="732" font-size="13.5" text-anchor="middle" fill="#4a4a4a">Sep-17</text>
<text x="1034.7" y="732" font-size="13.5" text-anchor="middle" fill="#4a4a4a">Feb-19</text>
<text x="1107.8" y="732" font-size="13.5" text-anchor="middle" fill="#4a4a4a">Jun-20</text>
<text x="1180.8" y="732" font-size="13.5" text-anchor="middle" fill="#4a4a4a">Oct-21</text>
<text transform="translate(646 561) rotate(-90)" x="0" y="0" font-size="15.5" text-anchor="middle" fill="#4a4a4a" textLength="196" lengthAdjust="spacingAndGlyphs">Cumulative No-Arbitrage P&amp;L</text>
<line x1="863" y1="451.5" x2="893.7" y2="451.5" stroke="#70AD47" stroke-width="1.3"/>
<text x="897" y="456.2" font-size="13.5" text-anchor="start" fill="#4a4a4a">6M</text>
<line x1="925.7" y1="451.5" x2="956.3" y2="451.5" stroke="#70AD47" stroke-width="1.3"/>
<text x="959.8" y="456.2" font-size="13.5" text-anchor="start" fill="#4a4a4a">1Y</text>
<line x1="982.5" y1="451.5" x2="1012.9" y2="451.5" stroke="#D0D0D0" stroke-width="1.3"/>
<text x="1016.3" y="456.2" font-size="13.5" text-anchor="start" fill="#4a4a4a">1.5Y</text>
<line x1="1050.5" y1="451.5" x2="1081.1" y2="451.5" stroke="#7F7F7F" stroke-width="1.3"/>
<text x="1084.3" y="456.2" font-size="13.5" text-anchor="start" fill="#4a4a4a">2Y</text>
<line x1="1107" y1="451.5" x2="1137.7" y2="451.5" stroke="#ED7D31" stroke-width="1.3"/>
<text x="1141.7" y="456.2" font-size="13.5" text-anchor="start" fill="#4a4a4a">Hold</text>
<text x="913.9" y="775.4" font-family='"Liberation Serif", serif' font-size="29" text-anchor="middle" fill="#000">(<tspan font-weight="bold">d</tspan>)</text>
<path d="M136.6 1059.6H137.7H138.7V1057.9H138.8V1059.6H139.9V1063H140.7V1064.7H141V1066.3H142.1V1068H143.2H143.3H144.3H145.4V1071.4H146.5V1073.1H146.7H147.6H148.7H149.3V1074.7H149.8H150.9H152H153.1V1078.1H153.3H154.2V1076.4H155.3V1073.1H156.4H157.5H158.6V1071.4H158.7H159.7H160.8V1073.1H161.3H161.9V1074.7H162.7H163V1073.1H164.1V1069.7H164.7V1066.3H165.2H166.3V1068H167.3V1069.7H167.4H168.5V1071.4H169.3V1069.7H169.6H170.7V1071.4H171.3V1073.1H171.8V1071.4H172.9V1066.3H173.3H174V1064.7H175.1H176V1063H176.2H177.3H178.4V1064.7H178.7H179.5H180.6V1068H181.3V1069.7H181.7H182.8V1071.4H183.9V1074.7H184H185V1073.1H186.1V1074.7H186.7H187.2H188.3V1073.1H189.3H189.4H190.5V1071.4H191.6V1069.7H192H192.7H193.8H194.7H194.9V1068H196H197.1H197.3H198.2H199.3V1066.3H200.4H201.3H201.5H202.6V1071.4H203.3V1073.1H203.7H204.8H205.9V1074.7H206H207V1076.4H208.1V1074.7H208.7H209.2V1076.4H210.3H211.3H211.4H212.5V1078.1H213.6V1079.8H214H214.7V1081.5H215.8V1083.1H216.7V1084.8H216.9H218V1086.5H219.1V1088.2H220V1089.9H220.2V1091.5H221.3H222.4H222.7H223.5V1093.2H224.6V1094.9H225.3H225.7H226.8V1096.6H227.9V1099.9H228H229V1101.6H230.1V1103.3H230.7H231.2V1105H232.3H233.3H233.4H234.5V1106.7H235.6V1105H236V1106.7H236.7H237.8V1105H238.9V1106.7H239.3H240H241.1V1105H242.2V1103.3H242.7V1105H243.3H244.4H245.5V1103.3H246H246.6H247.7H248.8H249.3H249.9H251H252H252.1H253.2V1101.6H254.3H254.7V1099.9H255.4V1098.3H256.5V1094.9H257.3V1093.2H257.6H258.7V1091.5H259.8V1089.9H260H260.9H262H263.1V1088.2H264.2H265.3V1086.5H266.3V1084.8H266.4H267.5V1083.1H268.6H269.7H270.8V1081.5H271.8V1083.1H271.9H273H274.1V1081.5H275.2H276.3H277.4V1079.8H278.5V1078.1H279.6H280.4V1076.4H280.7V1074.7H281.8V1076.4H282.9H284H285.1H286.2V1074.7H287.3H288.4H289.5V1073.1H290.2H290.6H291.7V1071.4H292.8H293.9V1069.7H295V1068H296.1H297.2V1069.7H297.8H298.3H299.4V1068H300.5H301.6V1066.3H302.7V1064.7H303.8V1063H304.9H305.4V1061.3H306H307.1H308.2V1059.6H309.3H310.4V1057.9H311.5H311.9V1054.6H312.6H313.7H314.8V1056.3H315.9H317H318.1H319.2V1054.6H319.4H320.3H321.4V1056.3H322.5H323.6H324.7V1057.9H325H325.8H326.9V1059.6H328H329.1H330V1061.3H330.2H331.3V1059.6H332.4V1057.9H333.5V1059.6H334.6H335H335.7H336.8V1061.3H337.9V1063H338V1064.7H339H340H340.1H341.2V1066.3H342.3H343.4V1068H344.5V1069.7H345V1071.4H345.6H346.7V1073.1H347.8H348.9V1074.7H350V1076.4H351.1H352.2H353.3V1078.1H354H354.4H355.5H356.6H357.7H358H358.8H359.9H361V1079.8H362H362.1H363.2V1081.5H364.3V1083.1H365.4H366H366.5H367.6V1081.5H368.7V1079.8H369.8H370H370.9V1078.1H372H373.1V1076.4H374H374.2H375.3H376.4V1074.7H377H377.5H378.6H379.7H380H380.8V1073.1H381.9V1071.4H383H384V1069.7H384.1H385.2H386.3V1068H387.4V1066.3H388H388.5V1064.7H389.6H390.7V1063H391H391.8V1061.3H392.9H394V1059.6H395H395.1H396.2V1056.3H397.3H398H398.4V1054.6H399.5V1056.3H400.6V1054.6H401.7V1052.9H402V1051.2H402.8H403.9V1052.9H404H405H406H406.1H407.2H408V1051.2H408.3H409.4H410H410.5H411.6V1052.9H412.7H413H413.8H414.9V1054.6H415H416H417.1V1057.9H418V1059.6H418.2H419.3V1063H420V1064.7H420.4H421.5V1068H422.6V1071.4H423H423.7V1073.1H424.8V1076.4H425.9V1079.8H427V1083.1H428.1V1084.8H429.2V1088.2H430H430.3H431.4V1089.9H432V1091.5H432.5H433.6V1093.2H434.7V1096.6H435H435.8H436.9H437H438V1098.3H439.1V1096.6H440.2V1098.3H441V1096.6H441.3H442.4H443.5H444.6H445H445.7H446.8V1098.3H447.9V1096.6H448H449V1094.9H450H450.1H451.2H452.3V1093.2H453H453.4H454.5V1091.5H455V1089.9H455.6H456.7H457.8H458.9H459H460V1088.2H461.1H462V1089.9H462.2H463.3H464.4H465H465.5H466.6H467H467.7H468H468.5V1074.7H468.8H469.9H471H472.1H473.2V1076.4H474V1074.7H474.3H475.4H476.5V1073.1H477H477.6H478.7V1071.4H479.8V1069.7H480H480.9H482H483H483.1H484.2V1071.4H485H485.3H486.4V1073.1H487.5V1074.7H488H488.6H489.7V1076.4H490V1078.1H490.8H491.9V1081.5H493H494.1V1083.1H495V1084.8H495.2H496V1078.1H496.3V1079.8H497.4V1081.5H498V1083.1H498.5H499.6V1084.8H500H500.7V1086.5H501.8V1088.2H502.9V1089.9H503H504H505V1088.2H505.1V1089.9H506.2V1088.2H507.3V1091.5H508V1093.2H508.4H509.5V1096.6H510.6V1098.3H511V1099.9H511.5V1059.6H511.7V1052.9H512V1042.8H512.8H513.9V1041.1H514H515H516H516.1H517.2V1039.5H518H518.3H519.4V1041.1H520H520.5V1042.8H521.6H522.7H523H523.8V1044.5H524.9H525H526H527.1H528.2H529" fill="none" stroke="#70AD47" stroke-width="1.0" opacity="1"/>
<path d="M169.3 1024.3H169.6V1022.7H170.7V1021H171.3V1019.3H171.8H172.9V1017.6H174H175.1V1019.3H176.2H177.3H178.4V1021H179.5V1022.7H180H180.6V1024.3H181.7V1027.7H182V1029.4H182.8V1031.1H183.9V1032.7H184H185H186H186.1H187.2V1029.4H188H188.3H189.4V1027.7H190.5V1026H190.7H191.6V1024.3H192.7V1022.7H193.3V1021H193.8H194.9H196H197.1H198.2V1022.7H198.7V1024.3H199.3H200.4V1022.7H201.3H201.5H202.6V1024.3H203.7H204H204.8H205.9H206.7H207H208.1V1026H209.2V1027.7H209.3H210.3V1029.4H211.4V1031.1H212H212.5V1032.7H213.6V1036.1H214.7H215.8V1039.5H216.9V1041.1H217.3H218H219.1V1042.8H220H220.2H221.3V1046.2H222.4H223.3V1047.9H223.5V1049.5H224.6V1051.2H225.7H226.7V1052.9H226.8H227.9V1054.6H229V1057.9H229.3H230.1H231.2V1059.6H232H232.3H233.4V1063H234.5V1064.7H234.7V1066.3H235.6V1064.7H236.7V1068H237.3V1069.7H237.8H238.9V1071.4H240H241.1H242.2H242.7V1073.1H243.3H244.4V1074.7H245.3V1076.4H245.5H246.6H247.7H248V1078.1H248.8V1079.8H249.9H250.7H251H252.1V1078.1H253.2H253.3H254.3V1076.4H255.4V1078.1H256H256.5H257.6H258.7H259.8H260.9H262H263.1V1079.8H264.2H265.3V1078.1H266.4V1079.8H267.5H268.6V1078.1H269.6V1076.4H269.7H270.8H271.9V1074.7H273V1073.1H274.1H275.2H276.3V1069.7H277.2V1068H277.4H278.5H279.6V1064.7H280.7H281.8H282.9H284H284.8V1063H285.1V1061.3H286.2V1057.9H287.3H288.4V1056.3H289.5V1052.9H290.6V1049.5H291.3H291.7H292.8V1047.9H293.9H295V1046.2H296.1V1042.8H297.2V1041.1H297.8H298.3V1039.5H299.4H300.5H301.6V1037.8H302.7V1036.1H303.8V1032.7H304.9V1031.1H305.4H306H307.1V1029.4H308.2H309.3V1027.7H310.4H311.5H312.6H313.7V1026H314.8V1024.3H315.1H315.9H317H318.1H319.2H320.3H320.5H321.4V1026H322.5H323.6H324.7H325.8H326.9H328V1024.3H329.1H330V1022.7H330.2H331.3V1024.3H332.4V1022.7H333.5H334.6H335.7V1021H336.8V1022.7H337.9V1019.3H339H340V1021H340.1H341.2V1019.3H342.3V1021H343.4H344.5H345.6H346.7H347.8V1022.7H348.9V1021H350H351.1V1019.3H352.2H353.3V1022.7H354.4H355.5V1024.3H356.6H357.7H358.8V1026H359.9V1024.3H360H361V1026H362.1V1027.7H363.2V1029.4H364.3V1031.1H365H365.4H366.5H367.6H368.7H369.8H370.9V1029.4H372V1031.1H373.1H374.2H375H375.3H376.4H377.5V1032.7H378.6V1034.4H379.7V1032.7H380.8H381.9V1034.4H383V1036.1H384.1V1034.4H385.2V1031.1H386.3V1029.4H387.4V1027.7H388.5V1026H389.6V1022.7H390H390.7H391.8V1021H392.9H394H395.1V1019.3H396.2H397.3V1021H398.4H399.5H400H400.6V1019.3H401.7V1017.6H402.8H403.9V1014.3H405V1012.6H406.1H407H407.2H408.3V1014.3H409.4H410.5V1015.9H411.6H412.7H413.8H414H414.9V1017.6H416V1019.3H417.1H418.2V1021H419.3V1022.7H420V1024.3H420.4H421.5H422.6H423.7V1026H424.8H425.9H427H428.1V1027.7H429.2H430V1029.4H430.3H431.4V1031.1H432.5H433.6H434.7H435.8V1032.7H436.9H438V1034.4H439.1V1036.1H440H440.2H441.3H442.4V1039.5H443.5H444.6H445.7V1041.1H446.8H447.9H449V1042.8H450H450.1H451.2V1044.5H452.3V1047.9H453.4V1049.5H454.5V1051.2H455.6V1052.9H456.7H457.8V1054.6H458H458.9V1056.3H460V1057.9H461.1V1059.6H462.2V1063H463.3H464.4V1064.7H465H465.5H466.6V1068H467.7H468H468.5V1054.6H468.8H469.9V1056.3H471H472.1V1057.9H473.2V1056.3H474H474.3H475.4V1054.6H476.5V1051.2H477.6H478.7H479.8V1049.5H480H480.9V1047.9H482V1049.5H483.1H484.2H485.3V1051.2H486.4H487.5H488.6V1049.5H489.7H490H490.8H491.9V1051.2H493H494.1V1052.9H495V1051.2H495.2H496.3H497.4H498.5V1049.5H499.6V1047.9H500V1046.2H500.7V1047.9H501.8H502.9V1049.5H504V1051.2H505V1052.9H505.1H506.2H507.3V1054.6H508.4H509.5V1056.3H510.6V1057.9H511H511.5V1005.9H511.7H512.8V1004.2H513.9V1000.8H515V999.1H516.1V1000.8H517.2V1002.5H518.3H519.4H520H520.5V1004.2H521.6V1005.9H522.7V1007.5H523.8V1009.2H524.9V1010.9H525H526H527.1V1012.6H528.2V1014.3H529" fill="none" stroke="#CFCFCF" stroke-width="1.0" opacity="1"/>
<path d="M197.1 985.7H197.3H198.2H199.3V984H200.4V987.4H200.7V989.1H201.5V992.4H202.6V994.1H202.7H203.7V995.8H204.8V997.5H205.3H205.9V999.1H207V1000.8H208V1002.5H208.1H209.2H210.3V1004.2H210.7H211.4V1005.9H212.5V1007.5H213.3V1009.2H213.6H214.7H215.8V1010.9H216H216.9V1012.6H218V1015.9H218.7H219.1H220.2H221.3V1017.6H222.4V1019.3H223.5H224V1021H224.6H225.7H226.7V1022.7H226.8H227.9V1024.3H229H229.3H230.1H231.2V1026H232V1027.7H232.3H233.4V1029.4H234.5H234.7H235.6V1032.7H236.7V1034.4H237.3H237.8V1036.1H238.9V1037.8H240V1041.1H241.1H242.2V1042.8H242.7H243.3H244.4H245.3V1044.5H245.5H246.6V1046.2H247.7H248H248.8H249.9H250.7H251H252V1049.5H252.1H253.2V1047.9H254.3V1046.2H254.7H255.4V1047.9H256V1049.5H256.5H257.6V1052.9H258.7V1054.6H259.8V1056.3H260.9H262H263.1H264.2V1057.9H265.3H266.4H267.5V1056.3H268.6H269.7V1054.6H270.8H271.8V1056.3H271.9H273V1057.9H274.1V1056.3H275.2H276.3V1054.6H277.4H278.5H279.6V1052.9H280.7H281.8H282.9V1051.2H284H284.8V1049.5H285.1H286.2H287.3V1047.9H288.4H289.5V1046.2H290.6V1044.5H291.3H291.7H292.8V1042.8H293.9V1041.1H295V1039.5H296.1V1037.8H297.2V1034.4H297.8V1032.7H298.3H299.4V1031.1H300.5V1029.4H301.6H302.7H303.8V1027.7H304.9H305.4V1026H306H307.1V1022.7H308.2V1021H309.3V1019.3H310.4H311.5V1015.9H312.6V1014.3H313.7V1012.6H314H314.8V1010.9H315.9H317H318.1V1009.2H319.2H320.3V1007.5H321.4V1005.9H321.6H322.5H323.6V1004.2H324.7H325.8V1002.5H326.9H328H329.1H330V1000.8H330.2H331.3V999.1H332.4V1000.8H333.5V999.1H334.6V1000.8H335.7H336.8H337.9H339H340H340.1H341.2H342.3H343.4H344.5H345.6H346.7H347.8H348.9H350H351.1H352.2H353.3H354.4H355.5H356.6H357.7H358.8V999.1H359.9H360H361H362.1V1000.8H363.2H364.3H365.4V999.1H366.5V1000.8H367.6V999.1H368.7V1000.8H369.8H370H370.9H372H373.1V999.1H374.2V1000.8H375.3V999.1H376.4V1000.8H377.5H378.6H379.7H380H380.8H381.9H383V1002.5H384.1H385H385.2H386.3V1000.8H387.4V999.1H388.5V997.5H389.6V995.8H390H390.7V994.1H391.8V995.8H392.9V992.4H394H395.1H396.2H397V990.7H397.3H398.4H399.5V992.4H400.6V990.7H401.7V989.1H402H402.8H403.9V987.4H405H406.1V985.7H407.2H408H408.3H409.4V987.4H410.5H411.6V989.1H412.7H413.8H414H414.9V990.7H416V992.4H417.1H418.2H419.3H420H420.4V994.1H421.5H422.6V995.8H423.7H424.8H425.9V997.5H427V999.1H428.1V1000.8H429.2V1002.5H430.3V1004.2H431.4V1005.9H432H432.5H433.6V1007.5H434.7V1009.2H435.8H436.9H438H439.1H440H440.2H441.3H442.4H443.5H444.6V1010.9H445.7H446.8V1012.6H447H447.9H449H450.1V1014.3H451.2V1015.9H452H452.3H453.4V1017.6H454.5H455.6V1019.3H456.7H457.8V1021H458H458.9H460V1022.7H461.1H462.2V1024.3H463.3H464H464.4V1026H465.5V1029.4H466.6V1032.7H467V1034.4H467.7V1027.7H468.5V1019.3H468.8H469.9V1021H471V1024.3H472.1V1026H473.2H474H474.3H475.4H476.5H477.6V1027.7H478.7H479.8V1029.4H480H480.9H482H483.1H484.2H485.3V1032.7H486.4H487H487.5V1034.4H488.6H489.7V1037.8H490.8H491.9V1041.1H493H494.1V1037.8H495.2V1032.7H495.5V1031.1H496.3H497.4V1032.7H498.5V1036.1H499.6V1037.8H500V1039.5H500.7H501.8V1037.8H502.9V1039.5H504H505V1037.8H505.1H506.2V1039.5H507.3H508.4V1041.1H509.5V1039.5H510.6H511H511.5V985.7H511.7H512.8V984H513.9V980.7H515V979H516.1H517.2H518.3H519.4H520H520.5H521.6V980.7H522.7V982.3H523.8V984H524.9H525H526V987.4H527.1V989.1H528.2H529" fill="none" stroke="#8C8C8C" stroke-width="1.0" opacity="1"/>
<path d="M232.3 992.4H233.4H234.5V994.1H234.7H235.6V999.1H236V1002.5H236.7V1004.2H237.3V1005.9H237.8V1007.5H238.9H240V1009.2H241.1V1010.9H242.2V1012.6H242.7V1014.3H243.3H244.4V1015.9H245.3H245.5H246.6V1017.6H247.7V1019.3H248H248.8V1021H249.9V1019.3H250.7H251H252.1V1021H253.2H253.3H254.3V1024.3H255.3H255.4H256.5V1019.3H256.7H257.6V1021H258.7V1022.7H259.8V1024.3H260.9V1022.7H262V1024.3H263.1V1026H264.2H265.3H266.4H267.5H268.6V1027.7H269.7V1029.4H270.8V1031.1H271.8V1029.4H271.9H273H274.1H275.2H276.3H277.4H278.5H279.6V1027.7H280.7V1029.4H281.5H281.8H282.9H284V1027.7H285.1V1029.4H286.2H287.3H288.4H289.5V1027.7H290.6H291.3V1026H291.7H292.8H293.9H295V1022.7H296.1V1024.3H297.2H298.3V1022.7H299.4V1024.3H300H300.5V1022.7H301.6H302.7V1021H303.8H304.9V1019.3H306V1017.6H307.1V1019.3H308.2V1017.6H309.3V1015.9H309.7H310.4H311.5V1014.3H312.6H313.7V1012.6H314.8H315.9H317V1010.9H318.1V1009.2H319.2H320.3V1007.5H320.5H321.4H322.5H323.6V1005.9H324.7H325.8H326.9V1004.2H328V1005.9H329.1V1004.2H330H330.2H331.3V1002.5H332.4V1000.8H333.5H334.6V999.1H335H335.7H336.8H337.9V997.5H339H340.1V995.8H341.2H342H342.3H343.4H344.5H345.6V994.1H346.7V992.4H347.8V990.7H348.9V989.1H350H351.1V987.4H352.2V985.7H353.3H354.4V984H355.5H356.6H357.7H358.8V982.3H359.9V984H360H361V982.3H362.1H363.2V980.7H364.3H365.4V979H366.5V977.3H367.6V979H368.7V977.3H369.8H370H370.9H372H373.1H374.2H375.3V975.6H376.4H377.5V973.9H378.6H379.7H380H380.8H381.9H383H384.1H385H385.2H386.3V970.6H387.4V968.9H388.5V967.2H389.6V965.5H390H390.7H391.8H392.9V963.9H394V962.2H395.1H396.2H397.3V960.5H398H398.4H399.5V958.8H400.6H401.7V957.1H402H402.8V955.5H403.9H405H406V953.8H406.1H407.2H408.3V952.1H409.4V953.8H410V952.1H410.5H411.6H412.7V953.8H413.8V955.5H414.9V953.8H415V955.5H416H417.1V957.1H418.2V960.5H419.3V962.2H420V963.9H420.4V965.5H421.5V967.2H422.6V968.9H423.7V970.6H424.8V972.3H425.9V973.9H426H427H428.1V972.3H429.2H430.3H431.4H432H432.5H433.6V973.9H434.7V975.6H435.8V977.3H436.9V980.7H438H439.1H440V982.3H440.2H441.3H442.4V984H443.5H444.6V985.7H445.7V987.4H446.8V989.1H447H447.9H449H450.1H451.2H452H452.3H453.4V990.7H454.5V989.1H455.6V990.7H456.7V989.1H457H457.8V992.4H458.9V997.5H460V1000.8H461V1004.2H461.1H462.2V1005.9H463.3V1004.2H464.4H465.5H466.6V1005.9H467.7H468H468.8V1002.5H469.9V1004.2H471V1002.5H472.1H473.2V1000.8H474V1002.5H474.3H475.4V1000.8H476.5H477.6V999.1H478.7H479.8V997.5H480H480.9V999.1H482V1002.5H483.1H484.2V1004.2H485.3H486.4V1005.9H487V1004.2H487.5H488.6V1005.9H489.7H490.8V1007.5H491.9H493V1009.2H494.1V1004.2H495.2V999.1H495.5H496.3H497.4V1002.5H498.5V1004.2H499.6V1005.9H500H500.7V1007.5H501.8V1005.9H502.9V1009.2H504H505H505.1H506.2H507.3V1010.9H508.4V1012.6H509.5V1014.3H510.6H511V1015.9H511.5V963.9H511.7H512.8V962.2H513.9H515V960.5H516.1V962.2H517.2H518.3V965.5H519.4H520H520.5V967.2H521.6V968.9H522.7H523.8H524.9H525H526V970.6H527.1V972.3H528.2V973.9H529" fill="none" stroke="#7F9DD6" stroke-width="1.0" opacity="1"/>
<path d="M108 1106.7H109.1V1105H110.2H110.7H111.3H112.4V1103.3H113.5H114V1101.6H114.6V1099.9H115.7V1098.3H116V1096.6H116.8V1091.5H117.9V1086.5H118V1084.8H119H120V1083.1H120.1H121.2H122.3H123H123.4H124.5V1079.8H125.3V1078.1H125.6H126.7H127.8V1076.4H128H128.9V1074.7H130V1071.4H130.7V1069.7H131.1H132.2V1066.3H133.3V1064.7H134.4V1063H135.5V1061.3H136H136.6V1059.6H137.7H138.7V1057.9H138.8H139.9H141H142H142.1H143.2V1056.3H144.3H145.3V1054.6H145.4H146.5V1052.9H147.6V1049.5H148H148.7V1047.9H149.8V1042.8H150H150.9H152V1039.5H153.1H153.3H154.2H155.3V1037.8H156V1036.1H156.4H157.5H158.6H158.7H159.7H160.8H161.9V1034.4H162H163V1031.1H164V1026H164.1H165.2V1024.3H166H166.3H167.4H168.5H169.3H169.6V1022.7H170.7V1021H171.3V1019.3H171.8V1017.6H172.9V1012.6H173.3H174V1010.9H175.1V1007.5H175.3H176.2V1005.9H177.3H178V1004.2H178.4H179.5V1005.9H180.6H180.7H181.7V1007.5H182.8V1005.9H183.3V1007.5H183.9H185V1009.2H185.3H186.1V1007.5H187.2V1005.9H187.3H188.3V1004.2H189.4V1002.5H190V1000.8H190.5H191.6V997.5H192.7V995.8H193.8V992.4H194.9V990.7H195.3V989.1H196V987.4H197.1V985.7H197.3H198.2H199.3V984H200.4V987.4H201.3V989.1H201.5H202.6H203.3H203.7V987.4H204.8V985.7H205.3H205.9H207V987.4H207.3H208.1H209.2H210H210.3H211.4H212H212.5H213.6H214.7H215.8V989.1H216.9V990.7H217.3H218V992.4H219.1H220H220.2H221.3V994.1H222.4H222.7H223.5H224.6H225.3H225.7H226.8V992.4H227.9H228H229V990.7H230.1V989.1H231.2V990.7H232V992.4H232.3H233.4H234.5V994.1H234.7H235.6V995.8H236.7H237.3H237.8H238.9V997.5H240H241.1V995.8H242.2H242.7V997.5H243.3H244.4H245.3H245.5H246.6H247.7V995.8H248H248.8H249.9V994.1H250H251V995.8H252V999.1H252.1H253.2V997.5H254V995.8H254.3H255.3V990.7H255.4H256.5V992.4H257.3V995.8H257.6H258.7H259.8H260H260.9V994.1H262V992.4H263.1V990.7H264.2H265.3V989.1H266.4H267.5V987.4H268.6H269.6H269.7H270.8V985.7H271.9V984H273V982.3H274.1H275.2V979H276.1V980.7H276.3H277.4H278.5V979H279.6V977.3H280.7H281.8H282.9H284V975.6H284.8H285.1H286.2V973.9H287.3H288.4V972.3H289.5V970.6H290.6H291.3H291.7V968.9H292.8V967.2H293.9V963.9H295V962.2H296.1V960.5H297.2V958.8H298.3V957.1H298.9V955.5H299.4H300.5H301.6V953.8H302.7H303.8H304.9V952.1H306H306.4H307.1V950.4H308.2V947.1H309.3H310.4V945.4H310.8H311.5V943.7H312.6V942H313.7V940.3H314.8V938.7H315.9V935.3H317H317.3H318.1V933.6H319.2V931.9H320.3H321.4V930.3H322.5V928.6H323.6V926.9H323.8H324.7H325.8V925.2H326.9V923.5H328H329.1V920.2H330H330.2H331.3V915.1H332H332.4V913.5H333.5H334V911.8H334.6H335.7V913.5H336.8V911.8H337H337.9V913.5H339V915.1H340.1V913.5H341.2V915.1H342V916.8H342.3H343.4V915.1H344H344.5H345.6V913.5H346.7V910.1H347H347.8V911.8H348.9V910.1H350H351.1H352.2H353.3H354H354.4V908.4H355.5H356.6V906.7H357V905.1H357.7H358.8V906.7H359.9H360H361V905.1H362V906.7H362.1H363.2H364.3H365.4H366H366.5H367.6H368.7H369.8H370H370.9V905.1H372V903.4H373H373.1H374.2H375.3V901.7H376V900H376.4H377.5V901.7H378.6H379.7V900H380H380.8H381.9V898.3H383V896.7H384.1H385.2V893.3H386V891.6H386.3V889.9H387.4V888.3H388H388.5V886.6H389.6V883.2H390V881.5H390.7H391.8H392.9V879.9H393H394H395H395.1H396.2H397.3V878.2H398V876.5H398.4H399.5V873.1H400V874.8H400.6V873.1H401.7V871.5H402.8H403H403.9V869.8H405H406.1V868.1H407.2V866.4H408H408.3H409.4V863.1H410H410.5H411.6H412.7H413H413.8V861.4H414.9H416H417.1V863.1H418H418.2H419.3V864.7H420V868.1H420.4H421.5V866.4H422.6V864.7H423V866.4H423.7H424.8V864.7H425H425.9V868.1H427V869.8H428V874.8H428.1H429.2H430.3H431V873.1H431.4H432.5V874.8H433H433.6V876.5H434.7V878.2H435H435.8V881.5H436.9H437H438V883.2H439V884.9H439.1H440.2V886.6H441V888.3H441.3H442.4V889.9H443.5H444H444.6H445.7V891.6H446.8V893.3H447H447.9V895H449H450V893.3H450.1H451.2H452H452.3H453.4H454.5V891.6H455H455.6H456.7V889.9H457H457.8H458.9V891.6H459H460V893.3H461V895H461.1H462.2H463.3V896.7H464H464.4H465.5V898.3H466.6H467H467.7H468H468.5V884.9H468.8V888.3H469.5V898.3H469.9H471V900H472.1V901.7H473.2H474V903.4H474.3H475.4V901.7H476H476.5H477.6H478H478.7H479.8V900H480H480.9H482V898.3H483.1H484.2V900H485H485.3H486.4V901.7H487V903.4H487.5H488.6H489.7H490H490.8H491.9H492H493H494V905.1H494.1H495H495.2V900H495.5V891.6H496.3H497.4V895H498H498.5H499.6V896.7H500H500.7H501.8H502.9V898.3H503H504H505V900H505.1H506.2H507.3V901.7H508V900H508.4H509.5V901.7H510.6H511V900H511.5V849.6H511.7H512.8V847.9H513H513.9H514H515V841.2H516H516.1H517.2V842.9H518V846.3H518.3H519.4H520H520.5V844.6H521V842.9H521.6V844.6H522V846.3H522.7H523.8V847.9H524.9H525H526V849.6H527H527.1H528H528.2V851.3H529V853" fill="none" stroke="#ED7D31" stroke-width="1.0" opacity="1"/>
<rect x="79.6" y="809.3" width="521.9" height="302.4" fill="none" stroke="#1a1a1a" stroke-width="1.2"/>
<text x="63.6" y="814.1" font-size="13.5" text-anchor="end" fill="#4a4a4a">180</text>
<text x="63.6" y="847.7" font-size="13.5" text-anchor="end" fill="#4a4a4a">160</text>
<text x="63.6" y="881.3" font-size="13.5" text-anchor="end" fill="#4a4a4a">140</text>
<text x="63.6" y="914.9" font-size="13.5" text-anchor="end" fill="#4a4a4a">120</text>
<text x="63.6" y="948.5" font-size="13.5" text-anchor="end" fill="#4a4a4a">100</text>
<text x="63.6" y="982.1" font-size="13.5" text-anchor="end" fill="#4a4a4a">80</text>
<text x="63.6" y="1015.7" font-size="13.5" text-anchor="end" fill="#4a4a4a">60</text>
<text x="63.6" y="1049.3" font-size="13.5" text-anchor="end" fill="#4a4a4a">40</text>
<text x="63.6" y="1082.9" font-size="13.5" text-anchor="end" fill="#4a4a4a">20</text>
<text x="63.6" y="1116.5" font-size="13.5" text-anchor="end" fill="#4a4a4a">0</text>
<text x="79.6" y="1135.8" font-size="13.5" text-anchor="middle" fill="#4a4a4a">Aug-13</text>
<text x="166.6" y="1135.8" font-size="13.5" text-anchor="middle" fill="#4a4a4a">Dec-14</text>
<text x="253.6" y="1135.8" font-size="13.5" text-anchor="middle" fill="#4a4a4a">May-16</text>
<text x="340.5" y="1135.8" font-size="13.5" text-anchor="middle" fill="#4a4a4a">Sep-17</text>
<text x="427.5" y="1135.8" font-size="13.5" text-anchor="middle" fill="#4a4a4a">Feb-19</text>
<text x="514.5" y="1135.8" font-size="13.5" text-anchor="middle" fill="#4a4a4a">Jun-20</text>
<text x="601.5" y="1135.8" font-size="13.5" text-anchor="middle" fill="#4a4a4a">Oct-21</text>
<text transform="translate(38 960.5) rotate(-90)" x="0" y="0" font-size="15.5" text-anchor="middle" fill="#4a4a4a" textLength="228" lengthAdjust="spacingAndGlyphs">Number of Arbitrage Bonds Held</text>
<line x1="109.3" y1="829" x2="141.8" y2="829" stroke="#70AD47" stroke-width="1.3"/>
<text x="146" y="833.7" font-size="14.2" text-anchor="start" fill="#4a4a4a">6M</text>
<line x1="181.8" y1="829" x2="214.3" y2="829" stroke="#CFCFCF" stroke-width="1.3"/>
<text x="218.7" y="833.7" font-size="14.2" text-anchor="start" fill="#4a4a4a">1Y</text>
<line x1="248" y1="829" x2="280.4" y2="829" stroke="#8C8C8C" stroke-width="1.3"/>
<text x="284.8" y="833.7" font-size="14.2" text-anchor="start" fill="#4a4a4a">1.5Y</text>
<line x1="326" y1="829" x2="359.8" y2="829" stroke="#7F9DD6" stroke-width="1.3"/>
<text x="362.8" y="833.7" font-size="14.2" text-anchor="start" fill="#4a4a4a">2Y</text>
<line x1="393.6" y1="829" x2="426.4" y2="829" stroke="#ED7D31" stroke-width="1.3"/>
<text x="429.4" y="833.7" font-size="14.2" text-anchor="start" fill="#4a4a4a">Hold</text>
<text x="335.7" y="1188.1" font-family='"Liberation Serif", serif' font-size="29" text-anchor="middle" fill="#000">(<tspan font-weight="bold">e</tspan>)</text>
<path d="M745.6 1070H746.7V1068.2H747.8H748H748.9V1066.3H750H751.1H752.2V1068.2H752.5H753.3V1070H754.4V1071.9H755H755.5V1073.8H756.6H757.7V1071.9H758.8H759.9V1070H761V1073.8H762V1071.9H762.1H763.2V1073.8H764.3V1071.9H765.4V1073.8H766.5H767H767.6H768.7V1077.5H769.8V1079.4H770.9V1081.3H772V1083.2H773.1H774.2V1085H775.3V1086.9H776.4H777.5V1088.8H778H778.6V1090.7H779.7V1088.8H780.8V1090.7H781.9H783H784H784.1V1092.5H785.2V1090.7H786.3V1092.5H787.4H788.5V1094.4H789.6H790H790.7H791.8H792.9V1096.3H794H795.1H796.2H797H797.3H798.4H799.5V1094.4H800.6H801.7H802H802.8H803.9V1096.3H805V1094.4H806.1V1096.3H807.2H808V1098.2H808.3H809.4V1100H810.5H811.6V1098.2H812.7V1100H813.8H814.9H815H816V1098.2H817.1V1096.3H818.2H819.3V1094.4H820V1092.5H820.4V1090.7H821.5H822.6H823.7V1088.8H824.8H825.9H826H827H828.1H829.2V1090.7H830.3H831.4H832H832.5H833.6V1088.8H834.7V1090.7H835.8H836.9H838H839.1H840H840.2H841.3H842.4H843.5V1092.5H844.6V1090.7H845.7V1088.8H846.8H847H847.9H849V1090.7H850.1H851.2H852.3V1092.5H853.4H854.5V1094.4H855H855.6H856.7H857.8V1096.3H858.9H860H861.1H862.2V1098.2H863.3V1096.3H864.4H865.5H866H866.6H867.7V1098.2H868.8H869.9H871V1096.3H872.1H873.2H874.3H875H875.4H876.5H877.6V1094.4H878.7H879.8V1096.3H880.9V1094.4H882V1096.3H883.1V1094.4H884.2H885.3H886.4H887.5H888H888.6H889.7H890.8H891.9H893H894.1V1092.5H895V1094.4H895.2V1092.5H896.3V1090.7H897.4H898.5H899.6V1088.8H900H900.7H901.8H902.9V1090.7H904V1088.8H905H905.1V1086.9H906.2H907.3V1085H908.4V1083.2H909.5V1085H910V1083.2H910.6V1085H911.7V1083.2H912.8V1081.3H913.9H915V1079.4H916.1H917.2V1081.3H918.3H919.4V1083.2H920H920.5H921.6H922.7H923.8H924.9H925H926V1086.9H927.1H928.2H929.3H930V1088.8H930.4H931.5V1090.7H932.6H933.7V1092.5H934H934.8V1090.7H935.9V1088.8H937V1086.9H938V1085H938.1H939.2H940.3V1083.2H941.4H942V1081.3H942.5V1083.2H943.6V1085H944.7V1086.9H945.8V1088.8H946H946.9H948V1086.9H949.1V1085H950V1083.2H950.2H951.3H952.4H953.5H954.6V1085H955H955.7V1083.2H956.8V1081.3H957.9V1079.4H959H960V1077.5H960.1V1075.7H961.2V1073.8H962.3V1070H963.4H964H964.5V1068.2H965.6V1066.3H966.7V1062.6H967H967.8V1060.7H968.9V1056.9H970V1053.2H971.1V1051.3H972V1049.4H972.2H973.3V1047.6H974.4V1045.7H975H975.5H976.6V1041.9H977V1040.1H977.7V1038.2H978.8V1034.4H979.9V1032.6H980H981V1026.9H982.1V1019.4H983V1013.8H983.2H984.3V1015.7H985.4V1017.6H986.5V1019.4H987H987.6H988.7H989.8V1021.3H990H990.9H992V1025.1H993H993.1V1026.9H994.2V1030.7H995.3V1038.2H996V1041.9H996.4H997.5H998.6H999H999.7V1040.1H1000.8H1001.9H1003H1004.1V1045.7H1005.2V1051.3H1006V1056.9H1006.3H1007.4V1060.7H1008.5V1062.6H1009.6V1064.4H1010H1010.7V1068.2H1011.8V1071.9H1012.9V1075.7H1014V1079.4H1015.1V1075.7H1016.2H1017.3H1018.4H1019.5V1073.8H1020H1020.6V1071.9H1021.7V1068.2H1022.8H1023.9V1066.3H1024H1025H1026.1V1068.2H1027V1070H1027.2H1028.3H1029.4V1068.2H1030.5H1031.6H1032H1032.7V1066.3H1033.8V1064.4H1034.9V1062.6H1036V1060.7H1037.1H1038.2V1058.8H1039.3V1056.9H1040.4V1055.1H1041H1041.5V1053.2H1042.6V1051.3H1043.7V1049.4H1044.8V1047.6H1045H1045.9V1043.8H1047V1041.9H1048.1V1038.2H1049V1036.3H1049.2H1050.3V1041.9H1051.4V1045.7H1052V1047.6H1052.5V1049.4H1053.6V1051.3H1054.7V1055.1H1055H1055.8V1030.7H1056.5V1008.2H1056.9V1010.1H1058V1012H1059.1V1013.8H1060V1017.6H1060.2H1061.3V1019.4H1062.4H1063V1021.3H1063.5H1064.6V1026.9H1065.7V1030.7H1066V1032.6H1066.8V1034.4H1067.9V1036.3H1069V1038.2H1070V1041.9H1070.1H1071.2V1043.8H1072.3V1047.6H1073.4V1051.3H1074V1053.2H1074.5H1075.6V1055.1H1076.7V1056.9H1077.8H1078V1058.8H1078.9V1066.3H1080V1075.7H1081V1060.7H1081.1V1058.8H1082V1053.2H1082.2V1056.9H1083V1070H1083.3H1084.4V1075.7H1085V1077.5H1085.5H1086.6H1087.7H1088.8V1079.4H1089.9V1077.5H1090H1091H1092.1V1079.4H1093.2H1094.3H1095.4V1081.3H1096.5V1083.2H1097H1097.6V1056.9H1098V1040.1H1098.7H1099.8V1038.2H1100.9H1101" fill="none" stroke="#70AD47" stroke-width="1.0" opacity="1"/>
<path d="M810.5 1040.1H811.6H812H812.7V1041.9H813.8V1045.7H814.9V1047.6H815H816V1045.7H817.1V1043.8H818.2V1041.9H819V1038.2H819.3H820.4H821.5H822.6V1036.3H823H823.7V1038.2H824.8V1041.9H825.9V1045.7H826H827H828.1V1047.6H829.2V1051.3H830.3V1053.2H831.4V1055.1H832H832.5H833.6V1056.9H834.7V1058.8H835.8V1060.7H836.9V1062.6H838H839.1V1064.4H840.2H841.3V1066.3H842.4H843.5H844.6V1068.2H845H845.7V1066.3H846.8H847.9V1068.2H849V1066.3H850.1V1068.2H851.2V1070H852.3H853.4V1068.2H854.5H855H855.6H856.7H857.8V1070H858.9H860V1071.9H861.1H862.2H863.3V1070H864.4H865H865.5V1071.9H866.6H867.7H868.8H869.9H871H872.1H873.2V1070H874.3V1071.9H875V1070H875.4V1071.9H876.5V1073.8H877.6H878.7H879.8H880.9H882H883.1V1071.9H884.2V1073.8H885H885.3H886.4H887.5V1075.7H888H888.6H889.7H890.8H891.9V1073.8H893H894.1V1071.9H895V1070H895.2H896.3V1068.2H897.4H898.5V1066.3H899.6V1064.4H900H900.7H901.8H902.9V1062.6H904V1064.4H905.1V1062.6H906.2H907H907.3V1064.4H908.4H909.5H910.6V1062.6H911.7H912H912.8H913.9H915H916.1V1064.4H917.2V1062.6H918.3H919.4H920H920.5H921.6V1060.7H922.7V1062.6H923.8V1060.7H924.9H926V1062.6H927.1H928.2H929.3V1060.7H930.4V1062.6H931.5H932.6V1060.7H933.7H934.8H935V1058.8H935.9V1060.7H937V1058.8H938.1H939.2V1056.9H940.3H941.4V1055.1H942.5V1053.2H943.6H944.7H945H945.8H946.9H948H949.1H950.2H951.3H952.4H953.5V1051.3H954.6H955H955.7V1047.6H956.8H957.9H959H960.1V1045.7H961.2V1043.8H962H962.3H963.4V1041.9H964.5V1038.2H965.6V1036.3H966.7V1034.4H967.8V1032.6H968.9V1030.7H970H971.1V1026.9H972.2V1025.1H973.3V1021.3H974.4V1013.8H975.5V1012H976.6V1008.2H977.7V1004.5H978H978.8H979.9H981V1002.6H982.1H983.2V1000.7H984.3H985.4V998.8H986.5V997H987.6V995.1H988.7V993.2H989.8V995.1H990H990.9V993.2H992V991.3H993.1H994.2H995.3V989.5H996.4V987.6H997.5H998.6V985.7H999.7H1000.8H1001.9V983.8H1003H1004.1V980.1H1005H1005.2H1006.3V978.2H1007.4V980.1H1008.5H1009.6H1010.7H1011.8V978.2H1012.9H1014H1015.1H1016.2H1017.3H1018.4H1019.5H1020H1020.6H1021.7V980.1H1022.8V978.2H1023.9H1025H1026.1H1027.2H1028.3H1029.4H1030H1030.5H1031.6V980.1H1032.7H1033.8V982H1034.9H1036V983.8H1037.1H1038.2V985.7H1039.3V987.6H1040H1040.4H1041.5H1042.6H1043.7V989.5H1044.8H1045.9H1047H1048.1H1049.2H1050H1050.3H1051.4V993.2H1052.5V997H1053.6V998.8H1054.7V1002.6H1055V1004.5H1055.8V982H1056.5V961.4H1056.9H1058V963.2H1059.1H1060.2V965.1H1061.3H1062.4V967H1063.5H1064.6H1065H1065.7V968.9H1066.8V967H1067.9H1069V968.9H1070.1V967H1071.2V968.9H1072.3V967H1073.4V968.9H1074.5H1075H1075.6H1076.7V970.7H1077.8H1078.9H1080H1081.1H1082H1082.2V968.9H1083V953.9H1083.3H1084.4V955.7H1085.5V957.6H1086.6H1087.7H1088.8H1089.9V959.5H1090H1091H1092.1H1093.2H1094.3V961.4H1095.4V963.2H1096.5V961.4H1097V963.2H1097.6V937H1098V918.3H1098.7V916.4H1099.8H1100.9V914.5H1102V912.6" fill="none" stroke="#E0E0E0" stroke-width="1.0" opacity="1"/>
<path d="M779.7 1049.4H780.8H781.9V1047.6H782H783V1049.4H784.1H785.2V1051.3H786V1053.2H786.3H787.4V1051.3H788.5H789.6V1053.2H790.7H791.8V1055.1H792H792.9V1056.9H794H795.1V1058.8H796.2H797.3V1060.7H798V1062.6H798.4H799.5V1070H800V1071.9H800.6H801.7H802.8H803.9H805H806.1V1073.8H807.2H808.3V1075.7H809.4V1077.5H810.5V1079.4H811.6V1081.3H812H812.7V1083.2H813.8V1085H814.9H815H816V1081.3H817.1V1077.5H818V1075.7H818.2H819.3V1073.8H820.4H821.5V1071.9H822H822.6H823.7V1073.8H824.8V1075.7H825.9V1073.8H827V1075.7H828.1V1073.8H829.2H830H830.3H831.4H832.5V1075.7H833.6H834.7H835.8V1073.8H836.9H838H839.1H840H840.2H841.3V1075.7H842.4H843.5H844.6V1077.5H845.7V1073.8H846.8H847.9V1075.7H849H850V1077.5H850.1H851.2H852.3H853.4H854.5H855.6H856.7H857.8V1079.4H858.9H860H861.1H862.2H863.3H864.4H865.5H866.6V1081.3H867.7H868.8V1079.4H869.9H870H871V1081.3H872.1H873.2V1079.4H874.3H875.4V1081.3H876.5V1079.4H877.6V1081.3H878H878.7H879.8H880.9V1083.2H882H883.1H884.2H885V1085H885.3V1086.9H886.4H887.5V1088.8H888H888.6H889.7H890.8H891.9V1086.9H892H893H894.1V1085H895.2V1086.9H896.3H897.4H898H898.5V1085H899.6V1081.3H900.7V1079.4H901.8V1077.5H902H902.9V1075.7H904H905.1H906.2H907.3H908H908.4H909.5V1071.9H910.6H911.7V1070H912.8V1068.2H913H913.9H915H916.1H917.2H918.3V1070H919.4H920H920.5H921.6H922.7H923.8V1068.2H924.9H926V1070H927.1H928.2V1068.2H929.3H930H930.4H931.5H932.6H933.7H934.8H935.9H936H937V1066.3H938.1H939.2H940.3H941.4V1064.4H942.5H943.6H944.7V1062.6H945H945.8H946.9H948V1060.7H949.1H950H950.2H951.3H952.4V1058.8H953.5H954.6H955H955.7H956.8H957.9H959H960V1056.9H960.1H961.2V1053.2H962.3V1047.6H963.4V1041.9H964.5V1036.3H965V1034.4H965.6H966.7V1032.6H967.8H968.9H970H971.1V1030.7H972V1032.6H972.2V1030.7H973.3V1026.9H974.4V1023.2H975.5V1019.4H976.6V1013.8H977.7V1012H978V1010.1H978.8V1008.2H979.9V1006.3H981V1004.5H982.1H983.2V1002.6H984.3V1000.7H985H985.4V998.8H986.5H987.6H988.7V997H989.8H990H990.9V995.1H992V993.2H993.1H994.2V991.3H995.3V989.5H996.4H997.5H998H998.6V987.6H999.7V989.5H1000.8H1001.9V991.3H1003V993.2H1004.1V995.1H1005.2H1006.3V993.2H1007.4H1008.5H1009.6V995.1H1010H1010.7H1011.8H1012.9H1014V997H1015.1V998.8H1016H1016.2H1017.3V1000.7H1018.4H1019.5V1002.6H1020.6V1004.5H1021.7H1022H1022.8V1006.3H1023.9V1008.2H1025V1010.1H1026H1026.1V1012H1027.2V1010.1H1028.3H1029.4V1012H1030H1030.5H1031.6V1015.7H1032.7V1017.6H1033.8V1019.4H1034.9H1036H1037.1V1021.3H1038.2H1039.3V1023.2H1040V1025.1H1040.4H1041.5V1023.2H1042.6H1043.7H1044.8V1021.3H1045.9H1046H1047V1019.4H1048.1V1015.7H1049.2V1013.8H1050H1050.3H1051.4V1015.7H1052.5H1053.6V1017.6H1054H1054.7V1021.3H1055.8V1025.1H1056H1056.9V987.6H1057V983.8H1058H1059.1H1060.2V982H1061.3H1062.4H1063.5V983.8H1064.6H1065H1065.7H1066.8H1067.9V985.7H1069V983.8H1070.1H1071.2V985.7H1072V983.8H1072.3H1073.4V985.7H1074.5H1075.6H1076.7H1077.8H1078.9H1080V987.6H1081.1H1082H1082.2V983.8H1083V968.9H1083.3H1084.4V970.7H1085.5V972.6H1086.6V974.5H1087.7H1088H1088.8V978.2H1089.9H1091V980.1H1092.1V982H1093V983.8H1093.2H1094.3V985.7H1095.4V989.5H1096.5V993.2H1097H1097.6V974.5H1098V959.5H1098.7H1099.8V961.4H1100.9H1101" fill="none" stroke="#7F7F7F" stroke-width="1.0" opacity="1"/>
<path d="M839.1 1023.2H840.2V1025.1H841H841.3H842.4V1026.9H843.5V1030.7H844.6H845H845.7V1032.6H846.8H847.9V1034.4H849H850.1H851.2H852V1036.3H852.3H853.4V1038.2H854.5H855.6V1040.1H856.7V1041.9H857H857.8V1043.8H858.9V1045.7H860V1047.6H861.1V1049.4H862.2V1051.3H863.3H864.4V1053.2H865.5H866V1055.1H866.6H867.7V1056.9H868.8V1058.8H869.9V1060.7H871H872V1062.6H872.1H873.2V1064.4H874.3H875.4H876.5V1062.6H877.6H878.7H879.8H880H880.9H882H883.1V1064.4H884.2H885.3H886.4H887.5V1066.3H888H888.6V1068.2H889.7V1070H890H890.8V1068.2H891.9H893H894.1V1066.3H895H895.2H896.3V1064.4H897.4H898.5H899.6V1062.6H900H900.7H901.8V1058.8H902.9V1056.9H904V1055.1H905V1053.2H905.1H906.2H907.3H908.4H909.5H910.6H911.7H912H912.8V1051.3H913.9V1049.4H915V1047.6H916H916.1H917.2V1045.7H918.3H919.4H920.5V1047.6H921.6V1049.4H922.7V1047.6H923.8V1049.4H924.9V1047.6H925H926V1049.4H927.1V1047.6H928.2H929.3V1045.7H930.4H931.5H932H932.6H933.7V1043.8H934.8V1041.9H935.9H936H937V1043.8H938.1H939.2V1045.7H940V1047.6H940.3H941.4V1045.7H942.5V1047.6H943.6V1045.7H944.7H945.8H946H946.9V1047.6H948V1045.7H949.1H950.2H951.3V1047.6H952H952.4H953.5V1045.7H954.6V1043.8H955.7H956H956.8V1041.9H957.9H959V1040.1H960V1041.9H960.1V1040.1H961.2V1038.2H962.3V1034.4H963.4V1032.6H964.5V1028.8H965H965.6H966.7V1026.9H967.8V1025.1H968.9V1023.2H970H971.1V1021.3H972.2V1019.4H973.3V1017.6H974.4V1013.8H975H975.5H976.6V1012H977.7V1010.1H978.8H979.9V1008.2H980H981V1006.3H982.1V1004.5H983.2H984.3V1000.7H985V998.8H985.4H986.5H987.6V997H988.7V995.1H989.8V993.2H990H990.9V991.3H992V989.5H993.1H994.2V991.3H995V989.5H995.3H996.4V987.6H997.5H998.6V985.7H999.7H1000H1000.8V983.8H1001.9V982H1003H1004.1V980.1H1005V978.2H1005.2H1006.3V980.1H1007.4V978.2H1008.5V976.3H1009.6V978.2H1010H1010.7V976.3H1011.8H1012.9V978.2H1014H1015H1015.1H1016.2H1017.3V980.1H1018.4V978.2H1019.5H1020V976.3H1020.6V978.2H1021.7V976.3H1022.8V974.5H1023.9H1025V972.6H1026.1H1027.2H1028.3H1029.4H1030H1030.5H1031.6H1032.7V970.7H1033.8V968.9H1034H1034.9V972.6H1036V976.3H1037V978.2H1037.1H1038.2V980.1H1039.3V978.2H1040.4H1041.5H1042H1042.6V976.3H1043.7H1044.8V974.5H1045.9V972.6H1046H1047H1048.1V974.5H1049.2H1050H1050.3H1051.4H1052.5H1053.6H1054.7H1055H1055.8V955.7H1056.5V937H1056.9H1058V938.9H1059.1H1060.2V940.7H1061.3H1062H1062.4H1063.5H1064.6H1065.7V942.6H1066.8H1067.9V944.5H1068H1069H1070.1V946.4H1071.2V944.5H1072.3V946.4H1073.4V948.2H1074.5H1075H1075.6H1076.7V950.1H1077.8H1078.9H1080H1081.1H1082V952H1082.2V942.6H1082.5V927.6H1083.3V929.5H1084.4V933.2H1085.5V935.1H1086V937H1086.6H1087.7H1088.8H1089.9V940.7H1090H1091H1092.1H1093.2V942.6H1094.3H1095.4V944.5H1096.5V946.4H1097H1097.6V923.9H1098V908.9H1098.7V907H1099.8V901.4H1100V899.5H1100.9H1102V897.6" fill="none" stroke="#4472C4" stroke-width="1.0" opacity="1"/>
<path d="M718.1 1107.5H719.2H720H720.3V1105.7H721.4V1103.8H722.5V1101.9H723.6V1100H724.7V1096.3H725H725.8H726.9H728H729.1H730H730.2H731.3H732.4V1094.4H733.5H734.6V1092.5H735H735.7V1090.7H736.8V1085H737.9H738V1083.2H739V1079.4H740.1V1075.7H741V1071.9H741.2H742.3V1070H743.4H744H744.5H745.6H746.7V1068.2H747.8H748H748.9V1066.3H750H751.1V1064.4H752V1062.6H752.2H753.3V1060.7H754.4V1058.8H755H755.5H756.6H757.7H758.8V1056.9H759.9H761V1055.1H762H762.1H763.2V1053.2H764.3H765.4H766.5V1051.3H767.6H768H768.7V1049.4H769.8H770.9H772V1047.6H773.1H774.2H775H775.3H776.4H777.5V1049.4H778.6H779.7H780.8H781.9V1047.6H782H783V1045.7H784.1V1043.8H785.2H786V1041.9H786.3H787.4H788.5V1043.8H789.6H790.7H791.8V1041.9H792H792.9H794V1040.1H795.1H796.2V1038.2H797.3H798H798.4V1036.3H799.5H800.6H801.7V1038.2H802.8H803.9V1040.1H805H806.1H807.2H808.3H809.4H810.5H811.6H812H812.7H813.8V1038.2H814.9V1036.3H816V1034.4H817.1V1032.6H818V1030.7H818.2H819.3V1028.8H820.4V1032.6H821.5V1030.7H822H822.6H823.7V1028.8H824.8V1026.9H825.9V1025.1H826H827H828.1H829.2H830.3H831H831.4V1023.2H832.5H833.6H834.7H835.8H836.9H838H839.1H840.2V1025.1H841H841.3H842.4H843.5H844.6V1023.2H845H845.7H846.8V1025.1H847.9H849H850.1V1026.9H851.2H852H852.3H853.4H854.5H855.6H856.7V1025.1H857.8V1023.2H858.9H860V1025.1H861.1V1026.9H862.2H863.3V1025.1H864.4H865.5H866.6H867.7V1026.9H868H868.8H869.9H871H872.1V1025.1H873.2V1026.9H874.3H875H875.4V1025.1H876.5H877.6V1026.9H878.7V1025.1H879.8V1026.9H880.9H882H883.1H884.2H885.3H886.4V1028.8H887H887.5H888.6V1026.9H889.7V1025.1H890H890.8H891.9V1023.2H893H894.1V1025.1H895.2H896.3H897.4V1023.2H898H898.5H899.6V1021.3H900.7V1019.4H901.8V1017.6H902H902.9V1015.7H904H905.1V1013.8H906V1012H906.2H907.3H908.4V1010.1H909.5H910.6V1008.2H911.7H912H912.8H913.9V1006.3H915V1004.5H916.1H917.2V1002.6H918H918.3H919.4H920.5V1000.7H921.6H922.7V1002.6H923.8V1000.7H924.9H925H926H927.1V1002.6H928.2V1000.7H929.3H930H930.4V998.8H931.5H932.6H933.7H934.8V997H935H935.9V995.1H937V993.2H938V991.3H938.1H939.2H940.3V993.2H941.4H942.5H943H943.6V991.3H944.7H945.8V993.2H946H946.9H948H949.1H950H950.2H951.3V995.1H952.4V997H953V998.8H953.5V997H954.6V995.1H955V993.2H955.7V995.1H956.8V993.2H957H957.9V991.3H959H960H960.1H961.2V989.5H962.3V987.6H963V985.7H963.4H964.5V980.1H965V978.2H965.6V980.1H966.7V978.2H967.8V976.3H968.9H970V974.5H971.1H972.2V972.6H973.3V974.5H974V972.6H974.4H975.5V967H976V965.1H976.6H977.7V963.2H978.8V961.4H979.9V957.6H980H981V953.9H982.1V950.1H983V948.2H983.2H984.3H985.4V946.4H986.5H987.6V944.5H988.7H989.8H990H990.9H992V942.6H993.1V940.7H994.2H995H995.3H996.4H997.5V938.9H998.6H999.7H1000H1000.8V937H1001.9V935.1H1003H1004.1H1005.2H1006V933.2H1006.3H1007.4V935.1H1008.5V933.2H1009.6V931.4H1010.7H1011.8H1012H1012.9H1014V933.2H1015.1V935.1H1016.2H1017.3H1018H1018.4H1019.5H1020.6H1021.7H1022.8H1023.9V933.2H1024H1025H1026.1H1027.2V931.4H1028.3V929.5H1029.4V927.6H1030H1030.5H1031.6H1032.7V929.5H1033.8H1034.9H1035H1036V931.4H1037.1V935.1H1038V938.9H1038.2H1039.3V940.7H1040.4V944.5H1041.5H1042V946.4H1042.6V944.5H1043.7V946.4H1044.8H1045.9H1046H1047V948.2H1048.1V950.1H1049.2H1050H1050.3H1051.4H1052.5H1053.6H1054.7V952H1055H1055.8V927.6H1056.5V907H1056.9V908.9H1058V912.6H1059.1H1060.2V914.5H1061.3H1062.4H1063.5H1064H1064.6H1065.7H1066.8V916.4H1067.9H1068H1069V918.3H1070.1H1071.2V920.1H1072H1072.3H1073.4H1074.5H1075.6V918.3H1076.7V920.1H1077.8V918.3H1078.9V920.1H1080H1081.1V916.4H1082H1082.2V908.9H1082.5V895.8H1083.3H1084.4H1085.5H1086.6V899.5H1087.7V897.6H1088H1088.8H1089.9H1091H1092.1V899.5H1093H1093.2H1094.3V901.4H1095.4H1096.5H1097H1097.6V877H1098V860.2H1098.7V858.3H1099.8V852.7H1100H1100.9V850.8H1102V848.9" fill="none" stroke="#ED7D31" stroke-width="1.0" opacity="1"/>
<rect x="689.6" y="809.6" width="492.7" height="299.8" fill="none" stroke="#1a1a1a" stroke-width="1.2"/>
<text x="674.5" y="814.4" font-size="13.5" text-anchor="end" fill="#4a4a4a">160</text>
<text x="674.5" y="851.9" font-size="13.5" text-anchor="end" fill="#4a4a4a">140</text>
<text x="674.5" y="889.4" font-size="13.5" text-anchor="end" fill="#4a4a4a">120</text>
<text x="674.5" y="926.8" font-size="13.5" text-anchor="end" fill="#4a4a4a">100</text>
<text x="674.5" y="964.3" font-size="13.5" text-anchor="end" fill="#4a4a4a">80</text>
<text x="674.5" y="1001.8" font-size="13.5" text-anchor="end" fill="#4a4a4a">60</text>
<text x="674.5" y="1039.2" font-size="13.5" text-anchor="end" fill="#4a4a4a">40</text>
<text x="674.5" y="1076.7" font-size="13.5" text-anchor="end" fill="#4a4a4a">20</text>
<text x="674.5" y="1114.2" font-size="13.5" text-anchor="end" fill="#4a4a4a">0</text>
<text x="689.6" y="1133.3" font-size="13.5" text-anchor="middle" fill="#4a4a4a">Aug-13</text>
<text x="771.7" y="1133.3" font-size="13.5" text-anchor="middle" fill="#4a4a4a">Dec-14</text>
<text x="853.8" y="1133.3" font-size="13.5" text-anchor="middle" fill="#4a4a4a">May-16</text>
<text x="936" y="1133.3" font-size="13.5" text-anchor="middle" fill="#4a4a4a">Sep-17</text>
<text x="1018.1" y="1133.3" font-size="13.5" text-anchor="middle" fill="#4a4a4a">Feb-19</text>
<text x="1100.2" y="1133.3" font-size="13.5" text-anchor="middle" fill="#4a4a4a">Jun-20</text>
<text x="1182.3" y="1133.3" font-size="13.5" text-anchor="middle" fill="#4a4a4a">Oct-21</text>
<text transform="translate(644.4 958.7) rotate(-90)" x="0" y="0" font-size="15.5" text-anchor="middle" fill="#4a4a4a" textLength="244" lengthAdjust="spacingAndGlyphs">Number of No-Arbitrage Bonds Held</text>
<line x1="704.6" y1="837.5" x2="735.4" y2="837.5" stroke="#70AD47" stroke-width="1.3"/>
<text x="739.4" y="842.2" font-size="13.5" text-anchor="start" fill="#4a4a4a">6M</text>
<line x1="769.2" y1="837.5" x2="800" y2="837.5" stroke="#7F7F7F" stroke-width="1.3"/>
<text x="804.2" y="842.2" font-size="13.5" text-anchor="start" fill="#4a4a4a">1Y</text>
<line x1="828.5" y1="837.5" x2="859.2" y2="837.5" stroke="#E0E0E0" stroke-width="1.3"/>
<text x="864" y="842.2" font-size="13.5" text-anchor="start" fill="#4a4a4a">1.5Y</text>
<line x1="899.4" y1="837.5" x2="929.6" y2="837.5" stroke="#4472C4" stroke-width="1.3"/>
<text x="935" y="842.2" font-size="13.5" text-anchor="start" fill="#4a4a4a">2Y</text>
<line x1="957.8" y1="837.5" x2="989.6" y2="837.5" stroke="#ED7D31" stroke-width="1.3"/>
<text x="993.6" y="842.2" font-size="13.5" text-anchor="start" fill="#4a4a4a">Hold</text>
<text x="913.9" y="1175.1" font-family='"Liberation Serif", serif' font-size="29" text-anchor="middle" fill="#000">(<tspan font-weight="bold">f</tspan>)</text>
<rect x="112.3" y="1282" width="20.8" height="240" fill="#4472C4"/>
<rect x="139.1" y="1458.6" width="20.8" height="63.4" fill="#70AD47"/>
<rect x="204.7" y="1352" width="20.8" height="170" fill="#4472C4"/>
<rect x="231.5" y="1476.8" width="20.8" height="45.2" fill="#70AD47"/>
<rect x="297.1" y="1368.7" width="20.8" height="153.3" fill="#4472C4"/>
<rect x="323.9" y="1479.1" width="20.8" height="42.9" fill="#70AD47"/>
<rect x="389.6" y="1382.8" width="20.8" height="139.2" fill="#4472C4"/>
<rect x="416.4" y="1483.8" width="20.8" height="38.2" fill="#70AD47"/>
<rect x="482" y="1421.8" width="20.8" height="100.2" fill="#4472C4"/>
<rect x="508.8" y="1510.8" width="20.8" height="11.2" fill="#70AD47"/>
<rect x="90.3" y="1228.3" width="462.1" height="293.7" fill="none" stroke="#666666" stroke-width="1.5"/>
<text x="75" y="1232.7" font-size="12.5" text-anchor="end" fill="#5f5f5f">2,500,000</text>
<text x="75" y="1291.4" font-size="12.5" text-anchor="end" fill="#5f5f5f">2,000,000</text>
<text x="75" y="1350.2" font-size="12.5" text-anchor="end" fill="#5f5f5f">1,500,000</text>
<text x="75" y="1408.9" font-size="12.5" text-anchor="end" fill="#5f5f5f">1,000,000</text>
<text x="75" y="1467.7" font-size="12.5" text-anchor="end" fill="#5f5f5f">500,000</text>
<text x="75" y="1526.4" font-size="12.5" text-anchor="end" fill="#5f5f5f">0</text>
<text x="136.5" y="1544.7" font-size="11.5" text-anchor="middle" fill="#5f5f5f">6M</text>
<text x="228.9" y="1544.7" font-size="11.5" text-anchor="middle" fill="#5f5f5f">1Y</text>
<text x="321.3" y="1544.7" font-size="11.5" text-anchor="middle" fill="#5f5f5f">1.5Y</text>
<text x="413.8" y="1544.7" font-size="11.5" text-anchor="middle" fill="#5f5f5f">2Y</text>
<text x="506.2" y="1544.7" font-size="11.5" text-anchor="middle" fill="#5f5f5f">Hold</text>
<text transform="translate(11.4 1375.3) rotate(-90)" x="0" y="0" font-size="13" text-anchor="middle" fill="#5f5f5f" textLength="131" lengthAdjust="spacingAndGlyphs">Mean P&amp;L per Bond</text>
<rect x="346.6" y="1294" width="7.8" height="8" fill="#4472C4"/>
<text x="358.7" y="1302.3" font-size="12.5" text-anchor="start" fill="#5f5f5f" textLength="54.8" lengthAdjust="spacingAndGlyphs">Arbitrage</text>
<rect x="428.8" y="1294" width="7.9" height="8" fill="#70AD47"/>
<text x="439.8" y="1302.3" font-size="12.5" text-anchor="start" fill="#5f5f5f" textLength="76.4" lengthAdjust="spacingAndGlyphs">No-Arbitrage</text>
<text x="301.3" y="1579.1" font-family='"Liberation Serif", serif' font-size="29" text-anchor="middle" fill="#000">(<tspan font-weight="bold">g</tspan>)</text>
<rect x="714.4" y="1456.6" width="22.3" height="59" fill="#4472C4"/>
<rect x="741.7" y="1460.4" width="22.8" height="55.2" fill="#70AD47"/>
<rect x="814.9" y="1400.6" width="22.3" height="115" fill="#4472C4"/>
<rect x="842.2" y="1417" width="22.8" height="98.6" fill="#70AD47"/>
<rect x="915.4" y="1366.6" width="22.3" height="149" fill="#4472C4"/>
<rect x="942.6" y="1397.7" width="22.8" height="117.9" fill="#70AD47"/>
<rect x="1015.8" y="1335.6" width="22.3" height="180" fill="#4472C4"/>
<rect x="1043.1" y="1381.6" width="22.8" height="134" fill="#70AD47"/>
<rect x="1116.3" y="1243.5" width="22.3" height="272.1" fill="#4472C4"/>
<rect x="1143.6" y="1341.6" width="22.8" height="174" fill="#70AD47"/>
<rect x="689.7" y="1228" width="502.3" height="287.6" fill="none" stroke="#707070" stroke-width="1.5"/>
<text x="675.7" y="1232.4" font-size="12.5" text-anchor="end" fill="#5f5f5f">100</text>
<text x="675.7" y="1289.9" font-size="12.5" text-anchor="end" fill="#5f5f5f">80</text>
<text x="675.7" y="1347.4" font-size="12.5" text-anchor="end" fill="#5f5f5f">60</text>
<text x="675.7" y="1405" font-size="12.5" text-anchor="end" fill="#5f5f5f">40</text>
<text x="675.7" y="1462.5" font-size="12.5" text-anchor="end" fill="#5f5f5f">20</text>
<text x="675.7" y="1520" font-size="12.5" text-anchor="end" fill="#5f5f5f">0</text>
<text x="739.9" y="1538.7" font-size="11.5" text-anchor="middle" fill="#5f5f5f">6M</text>
<text x="840.4" y="1538.7" font-size="11.5" text-anchor="middle" fill="#5f5f5f">1Y</text>
<text x="940.9" y="1538.7" font-size="11.5" text-anchor="middle" fill="#5f5f5f">1.5Y</text>
<text x="1041.3" y="1538.7" font-size="11.5" text-anchor="middle" fill="#5f5f5f">2Y</text>
<text x="1141.8" y="1538.7" font-size="11.5" text-anchor="middle" fill="#5f5f5f">Hold</text>
<text transform="translate(661.3 1371.7) rotate(-90)" x="0" y="0" font-size="13.5" text-anchor="middle" fill="#5f5f5f" textLength="152.5" lengthAdjust="spacingAndGlyphs">Mean Number of Bonds</text>
<rect x="708" y="1255" width="8" height="7.5" fill="#4472C4"/>
<text x="719.7" y="1263" font-size="12.5" text-anchor="start" fill="#5f5f5f" textLength="53.6" lengthAdjust="spacingAndGlyphs">Arbitrage</text>
<rect x="789" y="1255" width="7.5" height="7.5" fill="#70AD47"/>
<text x="800" y="1263" font-size="12.5" text-anchor="start" fill="#5f5f5f" textLength="74" lengthAdjust="spacingAndGlyphs">No-Arbitrage</text>
<text x="923.7" y="1571.1" font-family='"Liberation Serif", serif' font-size="29" text-anchor="middle" fill="#000">(<tspan font-weight="bold">h</tspan>)</text>
</svg>
</body></html>
